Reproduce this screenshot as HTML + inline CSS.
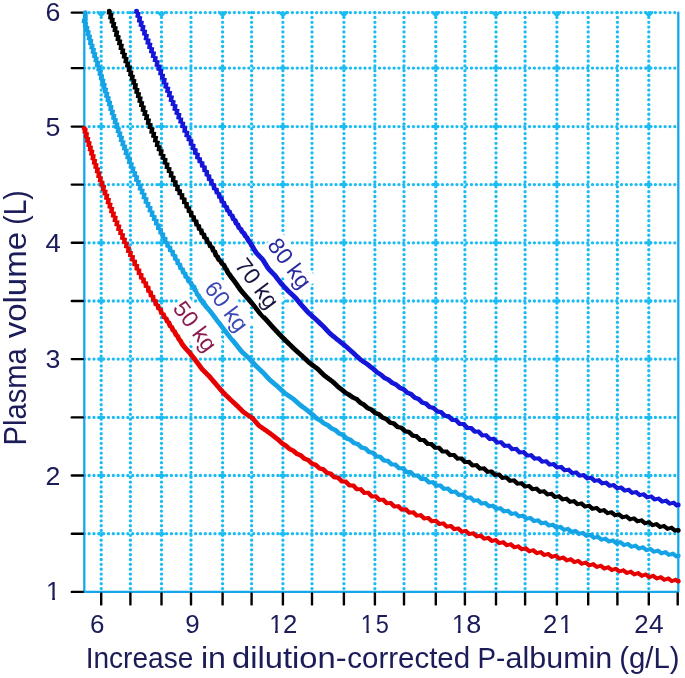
<!DOCTYPE html>
<html><head><meta charset="utf-8"><title>Plasma volume chart</title>
<style>html,body{margin:0;padding:0;background:#fff}svg{display:block;font-family:"Liberation Sans",sans-serif}</style></head>
<body>
<svg width="685" height="678" viewBox="0 0 685 678">
<rect width="685" height="678" fill="#fff"/>
<defs><filter id="soft" x="0" y="0" width="685" height="678" filterUnits="userSpaceOnUse"><feGaussianBlur stdDeviation="0.35"/></filter><filter id="soft2" x="0" y="0" width="685" height="678" filterUnits="userSpaceOnUse"><feGaussianBlur stdDeviation="0.5"/></filter></defs>
<g filter="url(#soft)">
<g stroke="#1abcf2" stroke-width="3.3" stroke-linecap="round" stroke-dasharray="0 4.84" fill="none">
<line x1="101.2" y1="12.6" x2="101.2" y2="591.9"/>
<line x1="130.4" y1="12.6" x2="130.4" y2="591.9"/>
<line x1="161.5" y1="12.6" x2="161.5" y2="591.9"/>
<line x1="191.0" y1="12.6" x2="191.0" y2="591.9"/>
<line x1="222.6" y1="12.6" x2="222.6" y2="591.9"/>
<line x1="251.6" y1="12.6" x2="251.6" y2="591.9"/>
<line x1="282.9" y1="12.6" x2="282.9" y2="591.9"/>
<line x1="312.0" y1="12.6" x2="312.0" y2="591.9"/>
<line x1="343.9" y1="12.6" x2="343.9" y2="591.9"/>
<line x1="374.9" y1="12.6" x2="374.9" y2="591.9"/>
<line x1="404.0" y1="12.6" x2="404.0" y2="591.9"/>
<line x1="435.8" y1="12.6" x2="435.8" y2="591.9"/>
<line x1="464.9" y1="12.6" x2="464.9" y2="591.9"/>
<line x1="496.0" y1="12.6" x2="496.0" y2="591.9"/>
<line x1="525.1" y1="12.6" x2="525.1" y2="591.9"/>
<line x1="556.9" y1="12.6" x2="556.9" y2="591.9"/>
<line x1="588.2" y1="12.6" x2="588.2" y2="591.9"/>
<line x1="617.4" y1="12.6" x2="617.4" y2="591.9"/>
<line x1="648.8" y1="12.6" x2="648.8" y2="591.9"/>
<line x1="84.3" y1="12.6" x2="678.3" y2="12.6"/>
<line x1="84.3" y1="68.1" x2="678.3" y2="68.1"/>
<line x1="84.3" y1="126.6" x2="678.3" y2="126.6"/>
<line x1="84.3" y1="184.6" x2="678.3" y2="184.6"/>
<line x1="84.3" y1="242.8" x2="678.3" y2="242.8"/>
<line x1="84.3" y1="301.0" x2="678.3" y2="301.0"/>
<line x1="84.3" y1="359.1" x2="678.3" y2="359.1"/>
<line x1="84.3" y1="417.4" x2="678.3" y2="417.4"/>
<line x1="84.3" y1="475.5" x2="678.3" y2="475.5"/>
<line x1="84.3" y1="533.7" x2="678.3" y2="533.7"/>
</g>
<g stroke="#1abcf2" stroke-width="3.0" stroke-linecap="round" fill="none">
<line x1="99.0" y1="68.1" x2="103.4" y2="68.1"/>
<line x1="99.0" y1="126.6" x2="103.4" y2="126.6"/>
<line x1="99.0" y1="184.6" x2="103.4" y2="184.6"/>
<line x1="99.0" y1="242.8" x2="103.4" y2="242.8"/>
<line x1="99.0" y1="301.0" x2="103.4" y2="301.0"/>
<line x1="99.0" y1="359.1" x2="103.4" y2="359.1"/>
<line x1="99.0" y1="417.4" x2="103.4" y2="417.4"/>
<line x1="99.0" y1="475.5" x2="103.4" y2="475.5"/>
<line x1="99.0" y1="533.7" x2="103.4" y2="533.7"/>
<path d="M97.8 12.3L101.2 15.8L104.6 12.3" stroke-width="2.6" stroke-linejoin="round"/>
<line x1="159.3" y1="68.1" x2="163.7" y2="68.1"/>
<line x1="159.3" y1="126.6" x2="163.7" y2="126.6"/>
<line x1="159.3" y1="184.6" x2="163.7" y2="184.6"/>
<line x1="159.3" y1="242.8" x2="163.7" y2="242.8"/>
<line x1="159.3" y1="301.0" x2="163.7" y2="301.0"/>
<line x1="159.3" y1="359.1" x2="163.7" y2="359.1"/>
<line x1="159.3" y1="417.4" x2="163.7" y2="417.4"/>
<line x1="159.3" y1="475.5" x2="163.7" y2="475.5"/>
<line x1="159.3" y1="533.7" x2="163.7" y2="533.7"/>
<path d="M158.1 12.3L161.5 15.8L164.9 12.3" stroke-width="2.6" stroke-linejoin="round"/>
<line x1="220.4" y1="68.1" x2="224.8" y2="68.1"/>
<line x1="220.4" y1="126.6" x2="224.8" y2="126.6"/>
<line x1="220.4" y1="184.6" x2="224.8" y2="184.6"/>
<line x1="220.4" y1="242.8" x2="224.8" y2="242.8"/>
<line x1="220.4" y1="301.0" x2="224.8" y2="301.0"/>
<line x1="220.4" y1="359.1" x2="224.8" y2="359.1"/>
<line x1="220.4" y1="417.4" x2="224.8" y2="417.4"/>
<line x1="220.4" y1="475.5" x2="224.8" y2="475.5"/>
<line x1="220.4" y1="533.7" x2="224.8" y2="533.7"/>
<path d="M219.2 12.3L222.6 15.8L226.0 12.3" stroke-width="2.6" stroke-linejoin="round"/>
<line x1="280.7" y1="68.1" x2="285.1" y2="68.1"/>
<line x1="280.7" y1="126.6" x2="285.1" y2="126.6"/>
<line x1="280.7" y1="184.6" x2="285.1" y2="184.6"/>
<line x1="280.7" y1="242.8" x2="285.1" y2="242.8"/>
<line x1="280.7" y1="301.0" x2="285.1" y2="301.0"/>
<line x1="280.7" y1="359.1" x2="285.1" y2="359.1"/>
<line x1="280.7" y1="417.4" x2="285.1" y2="417.4"/>
<line x1="280.7" y1="475.5" x2="285.1" y2="475.5"/>
<line x1="280.7" y1="533.7" x2="285.1" y2="533.7"/>
<path d="M279.5 12.3L282.9 15.8L286.3 12.3" stroke-width="2.6" stroke-linejoin="round"/>
<line x1="341.7" y1="68.1" x2="346.1" y2="68.1"/>
<line x1="341.7" y1="126.6" x2="346.1" y2="126.6"/>
<line x1="341.7" y1="184.6" x2="346.1" y2="184.6"/>
<line x1="341.7" y1="242.8" x2="346.1" y2="242.8"/>
<line x1="341.7" y1="301.0" x2="346.1" y2="301.0"/>
<line x1="341.7" y1="359.1" x2="346.1" y2="359.1"/>
<line x1="341.7" y1="417.4" x2="346.1" y2="417.4"/>
<line x1="341.7" y1="475.5" x2="346.1" y2="475.5"/>
<line x1="341.7" y1="533.7" x2="346.1" y2="533.7"/>
<path d="M340.5 12.3L343.9 15.8L347.3 12.3" stroke-width="2.6" stroke-linejoin="round"/>
<line x1="433.6" y1="68.1" x2="438.0" y2="68.1"/>
<line x1="433.6" y1="126.6" x2="438.0" y2="126.6"/>
<line x1="433.6" y1="184.6" x2="438.0" y2="184.6"/>
<line x1="433.6" y1="242.8" x2="438.0" y2="242.8"/>
<line x1="433.6" y1="301.0" x2="438.0" y2="301.0"/>
<line x1="433.6" y1="359.1" x2="438.0" y2="359.1"/>
<line x1="433.6" y1="417.4" x2="438.0" y2="417.4"/>
<line x1="433.6" y1="475.5" x2="438.0" y2="475.5"/>
<line x1="433.6" y1="533.7" x2="438.0" y2="533.7"/>
<path d="M432.4 12.3L435.8 15.8L439.2 12.3" stroke-width="2.6" stroke-linejoin="round"/>
<line x1="493.8" y1="68.1" x2="498.2" y2="68.1"/>
<line x1="493.8" y1="126.6" x2="498.2" y2="126.6"/>
<line x1="493.8" y1="184.6" x2="498.2" y2="184.6"/>
<line x1="493.8" y1="242.8" x2="498.2" y2="242.8"/>
<line x1="493.8" y1="301.0" x2="498.2" y2="301.0"/>
<line x1="493.8" y1="359.1" x2="498.2" y2="359.1"/>
<line x1="493.8" y1="417.4" x2="498.2" y2="417.4"/>
<line x1="493.8" y1="475.5" x2="498.2" y2="475.5"/>
<line x1="493.8" y1="533.7" x2="498.2" y2="533.7"/>
<path d="M492.6 12.3L496.0 15.8L499.4 12.3" stroke-width="2.6" stroke-linejoin="round"/>
<line x1="554.7" y1="68.1" x2="559.1" y2="68.1"/>
<line x1="554.7" y1="126.6" x2="559.1" y2="126.6"/>
<line x1="554.7" y1="184.6" x2="559.1" y2="184.6"/>
<line x1="554.7" y1="242.8" x2="559.1" y2="242.8"/>
<line x1="554.7" y1="301.0" x2="559.1" y2="301.0"/>
<line x1="554.7" y1="359.1" x2="559.1" y2="359.1"/>
<line x1="554.7" y1="417.4" x2="559.1" y2="417.4"/>
<line x1="554.7" y1="475.5" x2="559.1" y2="475.5"/>
<line x1="554.7" y1="533.7" x2="559.1" y2="533.7"/>
<path d="M553.5 12.3L556.9 15.8L560.3 12.3" stroke-width="2.6" stroke-linejoin="round"/>
<line x1="646.6" y1="68.1" x2="651.0" y2="68.1"/>
<line x1="646.6" y1="126.6" x2="651.0" y2="126.6"/>
<line x1="646.6" y1="184.6" x2="651.0" y2="184.6"/>
<line x1="646.6" y1="242.8" x2="651.0" y2="242.8"/>
<line x1="646.6" y1="301.0" x2="651.0" y2="301.0"/>
<line x1="646.6" y1="359.1" x2="651.0" y2="359.1"/>
<line x1="646.6" y1="417.4" x2="651.0" y2="417.4"/>
<line x1="646.6" y1="475.5" x2="651.0" y2="475.5"/>
<line x1="646.6" y1="533.7" x2="651.0" y2="533.7"/>
<path d="M645.4 12.3L648.8 15.8L652.2 12.3" stroke-width="2.6" stroke-linejoin="round"/>
</g>
<path d="M84.3 12.6V591.9H678.3V12.6" fill="none" stroke="#16a6ea" stroke-width="2.3" stroke-linejoin="round" stroke-linecap="round"/>
<g stroke="#000" stroke-width="2.4" stroke-linecap="round">
<line x1="101.2" y1="593.4" x2="101.2" y2="604.4"/>
<line x1="130.4" y1="593.4" x2="130.4" y2="604.4"/>
<line x1="161.5" y1="593.4" x2="161.5" y2="604.4"/>
<line x1="191.0" y1="593.4" x2="191.0" y2="604.4"/>
<line x1="222.6" y1="593.4" x2="222.6" y2="604.4"/>
<line x1="251.6" y1="593.4" x2="251.6" y2="604.4"/>
<line x1="282.9" y1="593.4" x2="282.9" y2="604.4"/>
<line x1="312.0" y1="593.4" x2="312.0" y2="604.4"/>
<line x1="343.9" y1="593.4" x2="343.9" y2="604.4"/>
<line x1="374.9" y1="593.4" x2="374.9" y2="604.4"/>
<line x1="404.0" y1="593.4" x2="404.0" y2="604.4"/>
<line x1="435.8" y1="593.4" x2="435.8" y2="604.4"/>
<line x1="464.9" y1="593.4" x2="464.9" y2="604.4"/>
<line x1="496.0" y1="593.4" x2="496.0" y2="604.4"/>
<line x1="525.1" y1="593.4" x2="525.1" y2="604.4"/>
<line x1="556.9" y1="593.4" x2="556.9" y2="604.4"/>
<line x1="588.2" y1="593.4" x2="588.2" y2="604.4"/>
<line x1="617.4" y1="593.4" x2="617.4" y2="604.4"/>
<line x1="648.8" y1="593.4" x2="648.8" y2="604.4"/>
<line x1="677.7" y1="593.4" x2="677.7" y2="604.4"/>
<line x1="71.8" y1="12.6" x2="82.8" y2="12.6"/>
<line x1="71.8" y1="68.1" x2="82.8" y2="68.1"/>
<line x1="71.8" y1="126.6" x2="82.8" y2="126.6"/>
<line x1="71.8" y1="184.6" x2="82.8" y2="184.6"/>
<line x1="71.8" y1="242.8" x2="82.8" y2="242.8"/>
<line x1="71.8" y1="301.0" x2="82.8" y2="301.0"/>
<line x1="71.8" y1="359.1" x2="82.8" y2="359.1"/>
<line x1="71.8" y1="417.4" x2="82.8" y2="417.4"/>
<line x1="71.8" y1="475.5" x2="82.8" y2="475.5"/>
<line x1="71.8" y1="533.7" x2="82.8" y2="533.7"/>
<line x1="71.8" y1="591.9" x2="82.8" y2="591.9"/>
</g>
</g>
<g filter="url(#soft2)">
<path d="M81.8 128.9L81.9 129.4L82.7 129.9L82.7 130.3L82.6 130.8L82.6 131.3L82.5 131.8L82.5 132.3L82.4 132.7L82.4 133.2L84.1 133.7L84 134.2L84 134.7L83.9 135.1L83.9 135.6L83.8 136.1L83.8 136.6L83.7 137.1L83.7 137.5L83.6 138L85.3 138.5L85.3 139L85.2 139.5L85.2 140L85.1 140.4L85.1 140.9L85 141.4L85 141.9L84.9 142.4L86.7 142.8L86.6 143.3L86.6 143.8L86.5 144.3L86.5 144.8L86.4 145.2L86.4 145.7L86.3 146.2L86.3 146.7L88 147.1L88 147.6L87.9 148.1L87.9 148.6L87.8 149.1L87.8 149.5L87.7 150L87.7 150.5L87.6 151L89.4 151.5L89.4 151.9L89.3 152.4L89.3 152.9L89.2 153.4L89.2 153.9L89.1 154.3L89 154.8L89 155.3L90.8 155.8L90.8 156.2L90.7 156.7L90.7 157.2L90.6 157.7L90.6 158.2L90.5 158.6L90.5 159.1L90.4 159.6L90.3 160.1L92.2 160.5L92.1 161L92.1 161.5L92 162L92 162.5L91.9 162.9L91.9 163.4L91.8 163.9L91.8 164.4L93.7 164.8L93.6 165.3L93.5 165.8L93.5 166.3L93.4 166.7L93.4 167.2L93.3 167.7L93.3 168.2L93.2 168.6L95.1 169.1L95.1 169.6L95 170.1L95 170.6L94.9 171L94.9 171.5L94.8 172L94.7 172.5L94.7 172.9L96.6 173.4L96.6 173.9L96.5 174.4L96.5 174.8L96.4 175.3L96.4 175.8L96.3 176.3L96.2 176.7L96.2 177.2L96.1 177.7L98.1 178.2L98.1 178.6L98 179.1L97.9 179.6L97.9 180.1L97.8 180.5L97.8 181L97.7 181.5L97.7 181.9L99.7 182.4L99.6 182.9L99.6 183.4L99.5 183.8L99.4 184.3L99.4 184.8L99.3 185.3L99.3 185.7L99.2 186.2L101.3 186.7L101.2 187.2L101.1 187.6L101.1 188.1L101 188.6L101 189L100.9 189.5L100.8 190L100.8 190.5L100.7 190.9L102.8 191.4L102.7 191.9L102.7 192.3L102.6 192.8L102.6 193.3L102.5 193.8L102.5 194.2L102.4 194.7L102.3 195.2L104.4 195.6L104.4 196.1L104.3 196.6L104.3 197.1L104.2 197.5L104.2 198L104.1 198.5L104 198.9L104 199.4L106.1 199.9L106.1 200.3L106 200.8L105.9 201.3L105.9 201.8L105.8 202.2L105.8 202.7L105.7 203.2L105.6 203.6L105.6 204.1L107.8 204.6L107.7 205L107.6 205.5L107.6 206L107.5 206.4L107.5 206.9L107.4 207.4L107.3 207.9L107.3 208.3L109.5 208.8L109.4 209.3L109.4 209.7L109.3 210.2L109.2 210.7L109.2 211.1L109.1 211.6L109.1 212.1L109 212.5L108.9 213L111.2 213.5L111.1 213.9L111.1 214.4L111 214.9L110.9 215.3L110.9 215.8L110.8 216.3L110.8 216.7L110.7 217.2L113 217.7L112.9 218.1L112.9 218.6L112.8 219.1L112.7 219.5L112.7 220L112.6 220.5L112.5 220.9L112.5 221.4L112.4 221.8L114.8 222.3L114.7 222.8L114.6 223.2L114.6 223.7L114.5 224.2L114.4 224.6L114.4 225.1L114.3 225.6L114.2 226L116.6 226.5L116.6 227L116.5 227.4L116.4 227.9L116.4 228.3L116.3 228.8L116.2 229.3L116.2 229.7L116.1 230.2L116 230.7L118.5 231.1L118.4 231.6L118.3 232L118.3 232.5L118.2 233L118.1 233.4L118.1 233.9L118 234.4L117.9 234.8L120.4 235.3L120.3 235.7L120.3 236.2L120.2 236.7L120.1 237.1L120.1 237.6L120 238L120 238.5L119.9 239L119.8 239.4L122.3 239.9L122.2 240.3L122.2 240.8L122.1 241.2L122.1 241.7L122 242.2L122 242.6L121.9 243.1L121.8 243.5L124.3 244L124.2 244.5L124.2 244.9L124.1 245.4L124.1 245.8L124 246.3L124 246.7L123.9 247.2L123.9 247.7L123.8 248.1L126.3 248.6L126.2 249L126.2 249.5L126.1 249.9L126.1 250.4L126 250.9L126 251.3L125.9 251.8L125.9 252.2L125.8 252.7L128.3 253.1L128.2 253.6L128.2 254.1L128.1 254.5L128.1 255L128 255.4L128 255.9L128 256.3L127.9 256.8L130.3 257.2L130.3 257.7L130.2 258.1L130.2 258.6L130.2 259.1L130.1 259.5L130.1 260L130.1 260.4L130 260.9L130 261.3L132.4 261.8L132.4 262.2L132.3 262.7L132.3 263.1L132.3 263.6L132.3 264L132.3 264.5L132.2 264.9L132.2 265.4L132.2 265.8L134.6 266.3L134.5 266.7L134.5 267.2L134.5 267.6L134.5 268.1L134.5 268.5L134.5 269L134.5 269.4L134.4 269.9L134.4 270.3L136.7 270.8L136.7 271.2L136.7 271.7L136.7 272.1L136.7 272.6L136.7 273L136.7 273.5L136.6 273.9L136.6 274.4L136.6 274.8L138.9 275.3L138.9 275.7L138.9 276.2L138.9 276.6L138.9 277.1L138.9 277.5L138.9 278L138.9 278.4L138.9 278.9L138.9 279.3L141.1 279.7L141.2 280.2L141.2 280.6L141.2 281.1L141.2 281.5L141.2 282L141.2 282.4L141.3 282.8L141.3 283.3L143.5 283.7L143.5 284.2L143.5 284.6L143.6 285L143.6 285.5L143.6 285.9L143.7 286.4L143.7 286.8L143.7 287.2L143.8 287.7L145.9 288.1L145.9 288.6L145.9 289L146 289.4L146 289.9L146 290.3L146.1 290.8L146.1 291.2L146.2 291.6L146.2 292.1L146.2 292.5L148.3 293L148.4 293.4L148.4 293.8L148.4 294.3L148.5 294.7L148.5 295.2L148.6 295.6L148.6 296L148.7 296.5L148.7 296.9L150.7 297.4L150.8 297.8L150.8 298.2L150.9 298.7L150.9 299.1L151 299.6L151 300L151.1 300.5L151.1 300.9L151.2 301.3L153.1 301.8L153.1 302.2L153.2 302.7L153.3 303.1L153.3 303.6L153.4 304L153.4 304.4L153.5 304.9L153.6 305.3L153.7 305.7L155.6 306.2L155.6 306.6L155.7 307L155.8 307.5L155.9 307.9L156 308.3L156.1 308.7L156.2 309.2L156.3 309.6L156.4 310L158.2 310.4L158.3 310.9L158.4 311.3L158.5 311.7L158.6 312.1L158.8 312.6L158.9 313L159 313.4L159.1 313.8L159.3 314.2L159.4 314.7L161 315.1L161.2 315.5L161.3 315.9L161.4 316.3L161.6 316.8L161.7 317.2L161.8 317.6L162 318L162.1 318.4L162.3 318.9L163.8 319.3L164 319.7L164.1 320.1L164.3 320.5L164.4 320.9L164.6 321.4L164.7 321.8L164.9 322.2L165 322.6L165.2 323L166.6 323.5L166.7 323.9L166.9 324.3L167 324.7L167.2 325.2L167.3 325.6L167.5 326L167.7 326.4L167.8 326.8L168 327.3L168.2 327.7L169.5 328.1L169.6 328.5L169.8 328.9L170 329.4L170.1 329.8L170.3 330.2L170.5 330.6L170.7 331.1L170.9 331.5L171.1 331.9L172.2 332.3L172.4 332.7L172.5 333.2L172.7 333.6L172.9 334L173.1 334.4L173.3 334.8L173.5 335.3L173.7 335.7L173.9 336.1L174.1 336.5L175.1 336.9L175.3 337.4L175.5 337.8L175.7 338.2L175.9 338.6L176.1 339.1L176.3 339.5L176.6 339.9L176.8 340.3L177 340.8L177.2 341.2L178 341.6L178.2 342L178.4 342.5L178.6 342.9L178.9 343.3L179.1 343.7L179.3 344.2L179.6 344.6L179.8 345L180.1 345.4L180.3 345.9L180.8 346.3L181.1 346.7L181.3 347.1L181.6 347.5L181.9 347.9L182.3 348.3L182.6 348.7L182.9 349L183.2 349.4L183.6 349.8L183.9 350.2L184.3 350.5L184.6 350.9L184.9 351.3L185.3 351.7L185.6 352.1L186 352.4L186.3 352.8L186.6 353.2L187 353.5L187.3 353.9L187.7 354.3L188 354.7L188.3 355.1L188.6 355.5L188.9 355.9L189.2 356.3L189.5 356.7L189.8 357.1L190.1 357.5L190.5 357.8L190.8 358.2L191.1 358.6L191.4 359L191.7 359.4L192 359.8L192.3 360.2L192.6 360.6L192.9 361L193.3 361.4L193.6 361.8L193.9 362.2L194.2 362.6L194.5 363L194.8 363.4L195.1 363.8L195.4 364.2L195.7 364.6L196 365L196.3 365.4L196.6 365.8L196.9 366.2L197.2 366.6L197.5 367L197.8 367.4L198.1 367.9L198.4 368.3L198.7 368.7L199 369.1L199.3 369.5L199.6 369.9L199.9 370.3L200.2 370.7L200.5 371L200.9 371.4L201.3 371.8L201.6 372.1L202 372.5L202.3 372.8L202.7 373.2L203 373.5L203.4 373.9L203.7 374.3L204.1 374.6L204.5 375L204.8 375.3L205.2 375.7L205.5 376L205.9 376.4L206.2 376.7L206.6 377.1L207 377.5L207.3 377.8L207.6 378.2L208 378.6L208.3 379L208.6 379.3L208.9 379.7L209.3 380.1L209.6 380.5L209.9 380.9L210.3 381.3L210.6 381.6L210.9 382L211.2 382.4L211.6 382.8L211.9 383.2L212.2 383.5L212.5 383.9L212.9 384.3L213.2 384.7L213.5 385.1L213.9 385.4L214.2 385.8L214.5 386.2L214.8 386.6L215.2 387L215.5 387.4L215.8 387.8L216.1 388.1L216.5 388.5L216.8 388.9L217.1 389.3L217.5 389.7L217.8 390L218.1 390.4L218.4 390.8L218.8 391.2L219.1 391.6L219.4 392L219.8 392.3L220.1 392.7L220.4 393.1L220.8 393.5L221.1 393.8L221.5 394.2L221.8 394.5L222.2 394.9L222.6 395.2L222.9 395.6L223.3 395.9L223.6 396.3L224 396.7L224.3 397L224.7 397.4L225.1 397.7L225.4 398.1L225.8 398.4L226.1 398.8L226.5 399.1L226.9 399.5L227.2 399.8L227.6 400.2L227.9 400.5L228.3 400.9L228.7 401.2L229 401.6L229.4 401.9L229.8 402.3L230.1 402.6L230.5 402.9L230.9 403.3L231.2 403.6L231.6 404L232 404.3L232.3 404.7L232.7 405L233.1 405.3L233.5 405.7L233.8 406L234.2 406.4L234.6 406.7L234.9 407L235.3 407.4L235.6 407.8L236 408.1L236.4 408.5L236.7 408.8L237.1 409.2L237.4 409.5L237.8 409.9L238.2 410.2L238.5 410.6L238.9 410.9L239.2 411.3L239.6 411.6L240 412L240.3 412.3L240.7 412.7L241.1 413L241.4 413.4L241.8 413.7L242.2 414.1L242.6 414.3L243 414.6L243.4 414.9L243.8 415.2L244.3 415.5L244.7 415.8L245.1 416.1L245.5 416.3L245.9 416.6L246.4 416.9L246.8 417.2L247.2 417.5L247.6 417.7L248.1 418L248.5 418.3L248.9 418.6L249.3 418.8L249.8 419.1L250.2 419.4L250.6 419.7L250.9 420.1L251.3 420.5L251.6 420.8L251.9 421.2L252.3 421.6L252.6 422L252.9 422.4L253.3 422.8L253.6 423.1L253.9 423.5L254.3 423.9L254.6 424.3L254.9 424.7L255.3 425.1L255.6 425.4L255.9 425.8L256.3 426.2L256.6 426.6L256.9 427L257.3 427.3L257.7 427.6L258.1 427.9L258.5 428.2L258.9 428.5L259.4 428.8L259.8 429.1L260.2 429.4L260.6 429.7L261 429.9L261.4 430.2L261.8 430.5L262.3 430.8L262.7 431.1L263.1 431.4L263.5 431.7L263.9 431.9L264.3 432.2L264.8 432.5L265.2 432.8L265.6 433.1L266 433.4L266.4 433.7L266.8 434L267.2 434.3L267.6 434.6L268 434.9L268.4 435.1L268.8 435.4L269.2 435.7L269.6 436L270 436.3L270.4 436.6L270.8 437L271.2 437.3L271.6 437.6L272 437.9L272.4 438.3L272.9 438.6L273.3 438.9L273.7 439.2L274 439.5L274.4 439.8L274.8 440.1L275.2 440.4L275.6 440.7L275.9 440.9L276.3 441.2L276.7 441.5L277.1 441.9L277.5 442.2L277.9 442.6L278.2 443L278.6 443.3L279 443.7L279.4 444.1L279.8 444.4L280.2 444.8L280.6 445.1L281 445.4L281.4 445.7L281.8 445.9L282.2 446.2L282.6 446.4L283 446.7L283.4 446.9L283.8 447.1L284.2 447.4L284.6 447.7L285 448.1L285.4 448.5L285.8 448.8L286.2 449.2L286.6 449.5L287 449.9L287.5 450.3L287.9 450.6L288.3 450.8L288.7 451.1L289.1 451.3L289.5 451.5L289.9 451.7L290.4 451.9L290.8 452.1L291.2 452.3L291.6 452.5L292 452.8L292.5 453.2L292.9 453.5L293.3 453.9L293.7 454.2L294.2 454.6L294.6 454.9L295 455.3L295.4 455.7L295.9 455.9L296.3 456L296.7 456.2L297.1 456.4L297.6 456.6L298 456.7L298.4 456.9L298.8 457.1L299.3 457.2L299.7 457.6L300.1 458L300.5 458.3L301 458.7L301.4 459.1L301.8 459.5L302.2 459.9L302.7 460.2L303.1 460.6L303.5 460.8L303.9 460.9L304.4 461.1L304.8 461.2L305.2 461.4L305.6 461.5L306.1 461.7L306.5 461.8L306.9 462L307.3 462.4L307.7 462.8L308.2 463.2L308.6 463.6L309 464L309.4 464.4L309.8 464.8L310.3 465.2L310.7 465.6L311.1 465.7L311.5 465.9L311.9 466L312.4 466.1L312.8 466.3L313.2 466.4L313.6 466.5L314.1 466.7L314.5 466.9L314.9 467.3L315.3 467.7L315.8 468.1L316.2 468.5L316.6 468.9L317.1 469.3L317.5 469.7L317.9 470.1L318.4 470.4L318.8 470.5L319.2 470.6L319.7 470.7L320.1 470.8L320.5 470.9L321 471L321.4 471.1L321.8 471.2L322.3 471.6L322.7 472L323.1 472.4L323.6 472.8L324 473.2L324.4 473.6L324.8 474.1L325.3 474.5L325.7 474.8L326.1 474.9L326.6 475L327 475.1L327.4 475.2L327.9 475.3L328.3 475.4L328.7 475.4L329.2 475.5L329.6 475.8L330 476.2L330.5 476.7L330.9 477.1L331.3 477.5L331.8 478L332.2 478.4L332.7 478.8L333.1 479.2L333.5 479.3L334 479.3L334.4 479.4L334.9 479.4L335.3 479.5L335.8 479.5L336.2 479.6L336.6 479.6L337.1 479.9L337.5 480.3L338 480.7L338.4 481.2L338.9 481.6L339.3 482L339.7 482.4L340.2 482.9L340.6 483.3L341.1 483.4L341.5 483.4L342 483.4L342.4 483.5L342.9 483.5L343.3 483.5L343.7 483.6L344.2 483.6L344.6 483.8L345.1 484.2L345.5 484.7L346 485.1L346.4 485.6L346.9 486L347.3 486.4L347.8 486.9L348.2 487.3L348.7 487.3L349.1 487.4L349.5 487.4L350 487.4L350.4 487.4L350.9 487.4L351.3 487.4L351.8 487.4L352.2 487.7L352.7 488.1L353.1 488.6L353.6 489L354 489.5L354.5 489.9L354.9 490.4L355.4 490.8L355.8 491.2L356.3 491.2L356.7 491.2L357.2 491.2L357.6 491.2L358.1 491.2L358.5 491.2L359 491.2L359.4 491.1L359.9 491.5L360.3 492L360.8 492.4L361.2 492.9L361.7 493.3L362.1 493.8L362.6 494.3L363 494.7L363.5 494.9L363.9 494.9L364.4 494.9L364.8 494.9L365.3 494.8L365.7 494.8L366.2 494.8L366.7 494.8L367.1 494.8L367.6 495.3L368 495.8L368.5 496.2L368.9 496.7L369.4 497.1L369.8 497.6L370.3 498L370.7 498.5L371.2 498.5L371.7 498.5L372.1 498.4L372.6 498.4L373 498.4L373.5 498.4L373.9 498.3L374.4 498.3L374.8 498.6L375.3 499L375.8 499.5L376.2 499.9L376.7 500.4L377.1 500.8L377.6 501.3L378 501.7L378.5 502L379 501.9L379.4 501.9L379.9 501.9L380.3 501.8L380.8 501.8L381.2 501.8L381.7 501.7L382.2 501.8L382.6 502.2L383.1 502.7L383.5 503.1L384 503.6L384.5 504L384.9 504.5L385.4 504.9L385.8 505.3L386.3 505.3L386.8 505.3L387.2 505.2L387.7 505.2L388.1 505.1L388.6 505.1L389.1 505L389.5 505L390 505.3L390.4 505.8L390.9 506.2L391.4 506.7L391.8 507.1L392.3 507.6L392.7 508L393.2 508.4L393.7 508.6L394.1 508.5L394.6 508.5L395.1 508.4L395.5 508.4L396 508.3L396.4 508.3L396.9 508.2L397.4 508.4L397.8 508.9L398.3 509.3L398.8 509.7L399.2 510.2L399.7 510.6L400.2 511L400.6 511.5L401.1 511.7L401.5 511.7L402 511.6L402.5 511.6L402.9 511.5L403.4 511.4L403.9 511.4L404.3 511.3L404.8 511.4L405.3 511.9L405.7 512.3L406.2 512.7L406.7 513.2L407.1 513.6L407.6 514L408.1 514.5L408.5 514.8L409 514.7L409.5 514.7L409.9 514.6L410.4 514.5L410.9 514.5L411.3 514.4L411.8 514.4L412.3 514.4L412.7 514.8L413.2 515.2L413.7 515.7L414.1 516.1L414.6 516.5L415.1 516.9L415.5 517.4L416 517.8L416.5 517.7L416.9 517.6L417.4 517.6L417.9 517.5L418.3 517.4L418.8 517.3L419.3 517.3L419.7 517.2L420.2 517.7L420.7 518.1L421.2 518.5L421.6 519L422.1 519.4L422.6 519.8L423 520.2L423.5 520.6L424 520.6L424.4 520.5L424.9 520.4L425.4 520.3L425.9 520.3L426.3 520.2L426.8 520.1L427.3 520.1L427.7 520.5L428.2 520.9L428.7 521.3L429.1 521.8L429.6 522.2L430.1 522.6L430.6 523L431 523.4L431.5 523.3L432 523.3L432.4 523.2L432.9 523.1L433.4 523L433.9 522.9L434.3 522.9L434.8 522.8L435.3 523.3L435.7 523.7L436.2 524.1L436.7 524.5L437.2 524.9L437.6 525.4L438.1 525.8L438.6 526.1L439.1 526L439.5 526L440 525.9L440.5 525.8L440.9 525.7L441.4 525.6L441.9 525.5L442.4 525.5L442.8 526L443.3 526.4L443.8 526.8L444.3 527.2L444.7 527.6L445.2 528L445.7 528.5L446.2 528.7L446.6 528.7L447.1 528.6L447.6 528.5L448.1 528.4L448.5 528.3L449 528.2L449.5 528.1L450 528.2L450.4 528.6L450.9 529L451.4 529.4L451.9 529.8L452.3 530.3L452.8 530.7L453.3 531.1L453.8 531.3L454.2 531.2L454.7 531.1L455.2 531L455.7 530.9L456.1 530.8L456.6 530.7L457.1 530.6L457.6 530.8L458 531.2L458.5 531.6L459 532L459.5 532.4L460 532.8L460.4 533.2L460.9 533.7L461.4 533.8L461.9 533.7L462.3 533.6L462.8 533.5L463.3 533.4L463.8 533.3L464.2 533.2L464.7 533.1L465.2 533.3L465.7 533.7L466.2 534.1L466.6 534.6L467.1 535L467.6 535.4L468.1 535.8L468.5 536.2L469 536.1L469.5 536L470 535.9L470.5 535.8L470.9 535.7L471.4 535.6L471.9 535.5L472.4 535.4L472.8 535.8L473.3 536.2L473.8 536.6L474.3 537L474.8 537.4L475.2 537.8L475.7 538.2L476.2 538.6L476.7 538.5L477.2 538.4L477.6 538.2L478.1 538.1L478.6 538L479.1 537.9L479.6 537.8L480 537.9L480.5 538.3L481 538.7L481.5 539.1L482 539.5L482.4 539.9L482.9 540.3L483.4 540.7L483.9 540.8L484.4 540.7L484.8 540.6L485.3 540.5L485.8 540.4L486.3 540.3L486.8 540.2L487.2 540L487.7 540.3L488.2 540.7L488.7 541.1L489.2 541.5L489.6 541.9L490.1 542.3L490.6 542.6L491.1 543L491.6 543L492.1 542.9L492.5 542.8L493 542.7L493.5 542.5L494 542.4L494.5 542.3L494.9 542.2L495.4 542.6L495.9 543L496.4 543.4L496.9 543.8L497.3 544.2L497.8 544.6L498.3 545L498.8 545.3L499.3 545.1L499.8 545L500.2 544.9L500.7 544.8L501.2 544.7L501.7 544.5L502.2 544.4L502.7 544.5L503.1 544.9L503.6 545.3L504.1 545.7L504.6 546.1L505.1 546.5L505.6 546.9L506 547.3L506.5 547.3L507 547.2L507.5 547.1L508 546.9L508.4 546.8L508.9 546.7L509.4 546.6L509.9 546.5L510.4 546.8L510.9 547.2L511.3 547.6L511.8 548L512.3 548.3L512.8 548.7L513.3 549.1L513.8 549.4L514.3 549.3L514.7 549.2L515.2 549.1L515.7 548.9L516.2 548.8L516.7 548.7L517.2 548.6L517.6 548.6L518.1 549L518.6 549.4L519.1 549.8L519.6 550.2L520.1 550.5L520.5 550.9L521 551.3L521.5 551.4L522 551.3L522.5 551.1L523 551L523.5 550.9L523.9 550.7L524.4 550.6L524.9 550.5L525.4 550.8L525.9 551.2L526.4 551.6L526.8 551.9L527.3 552.3L527.8 552.7L528.3 553.1L528.8 553.4L529.3 553.3L529.8 553.2L530.2 553L530.7 552.9L531.2 552.8L531.7 552.6L532.2 552.5L532.7 552.5L533.2 552.9L533.6 553.3L534.1 553.7L534.6 554.1L535.1 554.5L535.6 554.8L536.1 555.2L536.6 555.3L537 555.1L537.5 555L538 554.9L538.5 554.7L539 554.6L539.5 554.5L540 554.3L540.5 554.6L540.9 555L541.4 555.4L541.9 555.8L542.4 556.2L542.9 556.5L543.4 556.9L543.9 557.2L544.3 557.1L544.8 556.9L545.3 556.8L545.8 556.6L546.3 556.5L546.8 556.4L547.3 556.2L547.8 556.3L548.2 556.7L548.7 557.1L549.2 557.5L549.7 557.8L550.2 558.2L550.7 558.6L551.2 559L551.7 558.9L552.1 558.8L552.6 558.7L553.1 558.5L553.6 558.4L554.1 558.2L554.6 558.1L555.1 558L555.6 558.3L556 558.7L556.5 559.1L557 559.5L557.5 559.8L558 560.2L558.5 560.6L559 560.8L559.5 560.6L559.9 560.5L560.4 560.4L560.9 560.2L561.4 560.1L561.9 559.9L562.4 559.8L562.9 560L563.4 560.3L563.8 560.7L564.3 561.1L564.8 561.4L565.3 561.8L565.8 562.2L566.3 562.6L566.8 562.4L567.3 562.3L567.8 562.1L568.2 562L568.7 561.8L569.2 561.7L569.7 561.5L570.2 561.5L570.7 561.9L571.2 562.3L571.7 562.6L572.2 563L572.6 563.4L573.1 563.8L573.6 564.1L574.1 564.2L574.6 564L575.1 563.9L575.6 563.7L576.1 563.6L576.6 563.4L577 563.3L577.5 563.1L578 563.5L578.5 563.8L579 564.2L579.5 564.6L580 564.9L580.5 565.3L581 565.7L581.4 565.9L581.9 565.8L582.4 565.6L582.9 565.4L583.4 565.3L583.9 565.1L584.4 565L584.9 564.8L585.4 565L585.9 565.3L586.3 565.7L586.8 566.1L587.3 566.4L587.8 566.8L588.3 567.2L588.8 567.5L589.3 567.4L589.8 567.3L590.3 567.1L590.8 567L591.2 566.8L591.7 566.7L592.2 566.5L592.7 566.5L593.2 566.8L593.7 567.2L594.2 567.5L594.7 567.9L595.2 568.3L595.7 568.6L596.1 569L596.6 569.1L597.1 568.9L597.6 568.8L598.1 568.6L598.6 568.4L599.1 568.3L599.6 568.1L600.1 568L600.6 568.3L601 568.6L601.5 569L602 569.4L602.5 569.7L603 570.1L603.5 570.4L604 570.7L604.5 570.5L605 570.4L605.5 570.2L606 570L606.4 569.9L606.9 569.7L607.4 569.5L607.9 569.7L608.4 570.1L608.9 570.4L609.4 570.8L609.9 571.1L610.4 571.5L610.9 571.9L611.4 572.2L611.8 572.1L612.3 571.9L612.8 571.8L613.3 571.6L613.8 571.4L614.3 571.3L614.8 571.1L615.3 571.1L615.8 571.5L616.3 571.8L616.8 572.2L617.3 572.5L617.7 572.9L618.2 573.3L618.7 573.6L619.2 573.6L619.7 573.5L620.2 573.3L620.7 573.1L621.2 573L621.7 572.8L622.2 572.6L622.7 572.5L623.2 572.8L623.6 573.2L624.1 573.5L624.6 573.9L625.1 574.3L625.6 574.6L626.1 575L626.6 575.1L627.1 575L627.6 574.8L628.1 574.6L628.6 574.4L629.1 574.3L629.5 574.1L630 573.9L630.5 574.2L631 574.5L631.5 574.9L632 575.2L632.5 575.6L633 576L633.5 576.3L634 576.6L634.5 576.4L635 576.3L635.5 576.1L635.9 575.9L636.4 575.7L636.9 575.6L637.4 575.4L637.9 575.5L638.4 575.9L638.9 576.2L639.4 576.6L639.9 576.9L640.4 577.3L640.9 577.6L641.4 578L641.9 577.9L642.4 577.7L642.8 577.5L643.3 577.3L643.8 577.2L644.3 577L644.8 576.8L645.3 576.8L645.8 577.1L646.3 577.5L646.8 577.9L647.3 578.2L647.8 578.6L648.3 578.9L648.8 579.3L649.3 579.3L649.7 579.1L650.2 578.9L650.7 578.7L651.2 578.6L651.7 578.4L652.2 578.2L652.7 578.1L653.2 578.4L653.7 578.8L654.2 579.1L654.7 579.5L655.2 579.8L655.7 580.2L656.2 580.5L656.6 580.6L657.1 580.5L657.6 580.3L658.1 580.1L658.6 579.9L659.1 579.8L659.6 579.6L660.1 579.4L660.6 579.7L661.1 580L661.6 580.4L662.1 580.7L662.6 581.1L663.1 581.4L663.6 581.8L664 582L664.5 581.8L665 581.6L665.5 581.5L666 581.3L666.5 581.1L667 580.9L667.5 580.8L668 580.9L668.5 581.2L669 581.6L669.5 581.9L670 582.3L670.5 582.6L671 583L671.5 583.3L671.9 583.1L672.4 583L672.9 582.8L673.4 582.6L673.9 582.4L674.4 582.2L674.9 582.1L675.4 582.1L675.9 582.4L676.4 582.8L676.9 583.1L677.4 583.3L677.9 583.4L678.7 579L678.2 578.9L677.7 578.7L677.2 578.3L676.8 578L676.3 577.7L675.8 577.6L675.3 577.8L674.8 578L674.3 578.2L673.8 578.4L673.3 578.5L672.8 578.7L672.3 578.9L671.8 578.5L671.3 578.2L670.8 577.8L670.4 577.5L669.9 577.1L669.4 576.8L668.9 576.5L668.4 576.3L667.9 576.5L667.4 576.7L666.9 576.9L666.4 577L665.9 577.2L665.4 577.4L664.9 577.6L664.4 577.3L663.9 577L663.5 576.6L663 576.3L662.5 575.9L662 575.6L661.5 575.2L661 575L660.5 575.2L660 575.3L659.5 575.5L659 575.7L658.5 575.9L658 576L657.6 576.2L657.1 576.1L656.6 575.7L656.1 575.4L655.6 575L655.1 574.7L654.6 574.3L654.1 574L653.6 573.6L653.1 573.8L652.6 574L652.1 574.1L651.6 574.3L651.2 574.5L650.7 574.7L650.2 574.8L649.7 574.8L649.2 574.5L648.7 574.1L648.2 573.8L647.7 573.4L647.2 573.1L646.7 572.7L646.2 572.4L645.7 572.4L645.3 572.6L644.8 572.7L644.3 572.9L643.8 573.1L643.3 573.3L642.8 573.4L642.3 573.5L641.8 573.2L641.3 572.8L640.8 572.5L640.3 572.1L639.9 571.8L639.4 571.4L638.9 571.1L638.4 571L637.9 571.1L637.4 571.3L636.9 571.5L636.4 571.7L635.9 571.8L635.4 572L634.9 572.2L634.4 571.9L634 571.5L633.5 571.2L633 570.8L632.5 570.5L632 570.1L631.5 569.8L631 569.5L630.5 569.7L630 569.9L629.5 570L629 570.2L628.6 570.4L628.1 570.5L627.6 570.7L627.1 570.6L626.6 570.2L626.1 569.8L625.6 569.5L625.1 569.1L624.6 568.8L624.1 568.4L623.7 568.1L623.2 568.2L622.7 568.4L622.2 568.5L621.7 568.7L621.2 568.9L620.7 569L620.2 569.2L619.7 569.2L619.2 568.8L618.8 568.5L618.3 568.1L617.8 567.8L617.3 567.4L616.8 567L616.3 566.7L615.8 566.7L615.3 566.9L614.8 567L614.3 567.2L613.9 567.3L613.4 567.5L612.9 567.7L612.4 567.8L611.9 567.5L611.4 567.1L610.9 566.7L610.4 566.4L609.9 566L609.4 565.6L609 565.3L608.5 565.1L608 565.3L607.5 565.5L607 565.6L606.5 565.8L606 565.9L605.5 566.1L605 566.3L604.5 566L604.1 565.7L603.6 565.3L603.1 565L602.6 564.6L602.1 564.2L601.6 563.9L601.1 563.6L600.6 563.7L600.1 563.9L599.7 564L599.2 564.2L598.7 564.4L598.2 564.5L597.7 564.7L597.2 564.6L596.7 564.2L596.2 563.9L595.7 563.5L595.3 563.1L594.8 562.8L594.3 562.4L593.8 562L593.3 562.1L592.8 562.2L592.3 562.4L591.8 562.6L591.3 562.7L590.9 562.9L590.4 563L589.9 563.1L589.4 562.8L588.9 562.4L588.4 562L587.9 561.7L587.4 561.3L587 560.9L586.5 560.6L586 560.4L585.5 560.6L585 560.7L584.5 560.9L584 561.1L583.5 561.2L583 561.4L582.6 561.5L582.1 561.3L581.6 560.9L581.1 560.5L580.6 560.2L580.1 559.8L579.6 559.4L579.1 559.1L578.7 558.7L578.2 558.9L577.7 559L577.2 559.2L576.7 559.3L576.2 559.5L575.7 559.7L575.2 559.8L574.8 559.7L574.3 559.4L573.8 559L573.3 558.6L572.8 558.3L572.3 557.9L571.8 557.5L571.3 557.1L570.9 557.2L570.4 557.3L569.9 557.5L569.4 557.6L568.9 557.8L568.4 557.9L567.9 558.1L567.4 558.2L567 557.8L566.5 557.4L566 557.1L565.5 556.7L565 556.3L564.5 555.9L564 555.6L563.6 555.4L563.1 555.5L562.6 555.7L562.1 555.8L561.6 556L561.1 556.1L560.6 556.3L560.2 556.4L559.7 556.2L559.2 555.8L558.7 555.5L558.2 555.1L557.7 554.7L557.2 554.3L556.7 554L556.3 553.6L555.8 553.7L555.3 553.9L554.8 554L554.3 554.1L553.8 554.3L553.3 554.4L552.9 554.6L552.4 554.6L551.9 554.2L551.4 553.8L550.9 553.5L550.4 553.1L550 552.7L549.5 552.3L549 551.9L548.5 551.9L548 552L547.5 552.1L547 552.3L546.6 552.4L546.1 552.6L545.6 552.7L545.1 552.8L544.6 552.5L544.1 552.2L543.6 551.8L543.2 551.4L542.7 551L542.2 550.7L541.7 550.3L541.2 549.9L540.7 550.1L540.3 550.2L539.8 550.4L539.3 550.5L538.8 550.6L538.3 550.8L537.8 550.9L537.3 550.9L536.9 550.5L536.4 550.1L535.9 549.7L535.4 549.3L534.9 548.9L534.4 548.6L534 548.2L533.5 548.1L533 548.3L532.5 548.4L532 548.5L531.5 548.7L531.1 548.8L530.6 548.9L530.1 549.1L529.6 548.7L529.1 548.4L528.6 548L528.2 547.6L527.7 547.2L527.2 546.8L526.7 546.4L526.2 546.1L525.7 546.3L525.3 546.4L524.8 546.5L524.3 546.7L523.8 546.8L523.3 546.9L522.8 547.1L522.4 547L521.9 546.6L521.4 546.2L520.9 545.8L520.4 545.4L520 545L519.5 544.7L519 544.3L518.5 544.2L518 544.3L517.5 544.5L517.1 544.6L516.6 544.7L516.1 544.9L515.6 545L515.1 545.1L514.6 544.8L514.2 544.4L513.7 544L513.2 543.6L512.7 543.2L512.2 542.8L511.8 542.4L511.3 542.1L510.8 542.2L510.3 542.4L509.8 542.5L509.4 542.6L508.9 542.7L508.4 542.9L507.9 543L507.4 542.9L506.9 542.5L506.5 542.2L506 541.8L505.5 541.4L505 541L504.5 540.6L504.1 540.2L503.6 540.1L503.1 540.2L502.6 540.3L502.1 540.4L501.7 540.6L501.2 540.7L500.7 540.8L500.2 540.9L499.7 540.7L499.3 540.3L498.8 539.9L498.3 539.5L497.8 539.1L497.3 538.7L496.9 538.3L496.4 537.9L495.9 538L495.4 538.1L494.9 538.2L494.5 538.3L494 538.5L493.5 538.6L493 538.7L492.6 538.7L492.1 538.3L491.6 537.9L491.1 537.5L490.6 537.1L490.2 536.7L489.7 536.3L489.2 535.9L488.7 535.7L488.2 535.8L487.8 536L487.3 536.1L486.8 536.2L486.3 536.3L485.9 536.4L485.4 536.5L484.9 536.4L484.4 536L483.9 535.6L483.5 535.2L483 534.8L482.5 534.4L482 534L481.6 533.6L481.1 533.5L480.6 533.6L480.1 533.7L479.6 533.8L479.2 533.9L478.7 534.1L478.2 534.2L477.7 534.3L477.3 533.9L476.8 533.5L476.3 533.1L475.8 532.7L475.4 532.3L474.9 531.9L474.4 531.5L473.9 531.1L473.4 531.2L473 531.3L472.5 531.4L472 531.5L471.5 531.6L471.1 531.7L470.6 531.9L470.1 531.9L469.6 531.5L469.2 531.1L468.7 530.7L468.2 530.3L467.7 529.9L467.3 529.5L466.8 529L466.3 528.8L465.8 528.9L465.4 529L464.9 529.1L464.4 529.2L463.9 529.3L463.5 529.4L463 529.5L462.5 529.4L462 529L461.6 528.6L461.1 528.2L460.6 527.7L460.1 527.3L459.7 526.9L459.2 526.5L458.7 526.4L458.3 526.4L457.8 526.5L457.3 526.6L456.8 526.7L456.4 526.8L455.9 526.9L455.4 527L454.9 526.8L454.5 526.4L454 526L453.5 525.6L453 525.2L452.6 524.8L452.1 524.3L451.6 523.9L451.2 523.9L450.7 523.9L450.2 524L449.7 524.1L449.3 524.2L448.8 524.3L448.3 524.4L447.9 524.5L447.4 524.2L446.9 523.8L446.4 523.4L446 523L445.5 522.5L445 522.1L444.6 521.7L444.1 521.3L443.6 521.3L443.1 521.4L442.7 521.5L442.2 521.5L441.7 521.6L441.3 521.7L440.8 521.8L440.3 521.9L439.9 521.5L439.4 521.1L438.9 520.7L438.4 520.3L438 519.9L437.5 519.4L437 519L436.6 518.6L436.1 518.6L435.6 518.7L435.2 518.8L434.7 518.9L434.2 519L433.8 519L433.3 519.1L432.8 519.2L432.3 518.8L431.9 518.4L431.4 518L430.9 517.5L430.5 517.1L430 516.7L429.5 516.3L429.1 515.8L428.6 515.9L428.1 516L427.7 516L427.2 516.1L426.7 516.2L426.3 516.3L425.8 516.3L425.3 516.4L424.9 516L424.4 515.6L423.9 515.2L423.5 514.7L423 514.3L422.5 513.9L422.1 513.5L421.6 513L421.1 513.1L420.7 513.1L420.2 513.2L419.7 513.3L419.3 513.4L418.8 513.4L418.3 513.5L417.9 513.6L417.4 513.2L416.9 512.8L416.5 512.3L416 511.9L415.6 511.5L415.1 511L414.6 510.6L414.2 510.2L413.7 510.2L413.2 510.2L412.8 510.3L412.3 510.4L411.8 510.4L411.4 510.5L410.9 510.6L410.5 510.6L410 510.3L409.5 509.9L409.1 509.4L408.6 509L408.1 508.6L407.7 508.1L407.2 507.7L406.8 507.2L406.3 507.2L405.8 507.2L405.4 507.3L404.9 507.3L404.4 507.4L404 507.5L403.5 507.5L403.1 507.6L402.6 507.3L402.1 506.9L401.7 506.5L401.2 506L400.8 505.6L400.3 505.1L399.8 504.7L399.4 504.3L398.9 504.1L398.5 504.1L398 504.2L397.5 504.2L397.1 504.3L396.6 504.3L396.2 504.4L395.7 504.4L395.2 504.3L394.8 503.9L394.3 503.4L393.9 503L393.4 502.5L393 502.1L392.5 501.7L392 501.2L391.6 500.9L391.1 500.9L390.7 501L390.2 501L389.8 501.1L389.3 501.1L388.8 501.1L388.4 501.2L387.9 501.2L387.5 500.8L387 500.3L386.6 499.9L386.1 499.4L385.6 499L385.2 498.5L384.7 498.1L384.3 497.7L383.8 497.6L383.4 497.7L382.9 497.7L382.5 497.7L382 497.8L381.6 497.8L381.1 497.8L380.6 497.9L380.2 497.6L379.7 497.2L379.3 496.7L378.8 496.3L378.4 495.8L377.9 495.4L377.5 494.9L377 494.5L376.6 494.2L376.1 494.2L375.7 494.3L375.2 494.3L374.8 494.3L374.3 494.4L373.9 494.4L373.4 494.4L372.9 494.4L372.5 494L372 493.5L371.6 493L371.1 492.6L370.7 492.1L370.2 491.7L369.8 491.2L369.3 490.8L368.9 490.7L368.4 490.7L368 490.8L367.5 490.8L367.1 490.8L366.6 490.8L366.2 490.9L365.8 490.9L365.3 490.7L364.9 490.2L364.4 489.8L364 489.3L363.5 488.8L363.1 488.4L362.6 487.9L362.2 487.5L361.7 487.1L361.3 487.1L360.8 487.1L360.4 487.2L359.9 487.2L359.5 487.2L359 487.2L358.6 487.2L358.1 487.2L357.7 486.8L357.3 486.4L356.8 485.9L356.4 485.5L355.9 485L355.5 484.6L355 484.1L354.6 483.7L354.1 483.4L353.7 483.4L353.3 483.4L352.8 483.4L352.4 483.4L351.9 483.4L351.5 483.4L351 483.3L350.6 483.3L350.2 482.9L349.7 482.5L349.3 482L348.8 481.6L348.4 481.1L347.9 480.7L347.5 480.3L347.1 479.8L346.6 479.6L346.2 479.6L345.7 479.5L345.3 479.5L344.9 479.5L344.4 479.5L344 479.4L343.5 479.4L343.1 479.3L342.7 478.9L342.2 478.5L341.8 478.1L341.3 477.6L340.9 477.2L340.5 476.8L340 476.3L339.6 475.9L339.1 475.7L338.7 475.6L338.3 475.6L337.8 475.5L337.4 475.5L336.9 475.4L336.5 475.4L336.1 475.3L335.6 475.3L335.2 474.9L334.8 474.5L334.3 474L333.9 473.6L333.5 473.2L333 472.7L332.6 472.3L332.2 471.9L331.7 471.6L331.3 471.5L330.9 471.4L330.4 471.4L330 471.3L329.6 471.2L329.2 471.1L328.7 471L328.3 470.9L327.9 470.6L327.5 470.2L327 469.8L326.6 469.3L326.2 468.9L325.7 468.5L325.3 468.1L324.9 467.7L324.5 467.3L324 467.2L323.6 467.1L323.2 467L322.7 466.9L322.3 466.8L321.9 466.7L321.5 466.6L321 466.5L320.6 466.3L320.2 465.9L319.7 465.5L319.3 465.1L318.9 464.7L318.5 464.3L318 463.9L317.6 463.5L317.2 463.1L316.8 462.8L316.4 462.7L315.9 462.6L315.5 462.4L315.1 462.3L314.7 462.2L314.3 462L313.8 461.9L313.4 461.7L313 461.4L312.6 461L312.2 460.6L311.8 460.2L311.3 459.8L310.9 459.4L310.5 459L310.1 458.6L309.7 458.2L309.3 458L308.8 457.9L308.4 457.7L308 457.6L307.6 457.5L307.2 457.3L306.7 457.1L306.3 457L305.9 456.8L305.5 456.5L305.1 456.1L304.6 455.7L304.2 455.3L303.8 454.9L303.4 454.6L303 454.2L302.5 453.8L302.1 453.5L301.7 453.3L301.3 453.1L300.9 453L300.4 452.8L300 452.6L299.6 452.5L299.2 452.3L298.8 452.1L298.3 451.9L297.9 451.6L297.5 451.2L297.1 450.9L296.7 450.5L296.2 450.1L295.8 449.8L295.4 449.4L295 449.1L294.6 448.7L294.1 448.6L293.7 448.4L293.3 448.2L292.9 448L292.5 447.8L292.1 447.6L291.7 447.4L291.3 447.2L290.8 446.9L290.4 446.6L290 446.2L289.6 445.9L289.2 445.5L288.8 445.1L288.4 444.8L288 444.4L287.6 444.1L287.2 443.7L286.8 443.5L286.4 443.2L286 443L285.6 442.8L285.2 442.5L284.8 442.3L284.4 442L284 441.8L283.6 441.5L283.2 441.2L282.9 440.8L282.5 440.4L282.1 440.1L281.7 439.7L281.3 439.3L281 439L280.6 438.6L280.2 438.3L279.8 437.9L279.4 437.6L279.1 437.3L278.7 437.1L278.3 436.8L277.9 436.5L277.6 436.2L277.2 435.9L276.8 435.6L276.4 435.3L276 435L275.6 434.7L275.2 434.3L274.8 434L274.4 433.7L274 433.4L273.6 433.1L273.2 432.8L272.8 432.4L272.4 432.2L272 431.9L271.6 431.6L271.2 431.3L270.8 431L270.4 430.7L270 430.5L269.6 430.2L269.2 429.9L268.8 429.6L268.4 429.3L268 429L267.6 428.7L267.2 428.4L266.8 428.1L266.4 427.9L265.9 427.6L265.5 427.3L265.1 427L264.7 426.7L264.3 426.4L263.9 426.2L263.5 425.9L263.1 425.6L262.6 425.3L262.2 425L261.8 424.7L261.4 424.5L261 424.2L260.6 423.9L260.3 423.5L259.9 423.1L259.6 422.7L259.3 422.4L258.9 422L258.6 421.6L258.3 421.2L257.9 420.9L257.6 420.5L257.3 420.1L257 419.7L256.6 419.3L256.3 419L256 418.6L255.6 418.2L255.3 417.8L255 417.4L254.7 417L254.3 416.7L254 416.3L253.6 416L253.2 415.7L252.8 415.5L252.3 415.2L251.9 414.9L251.5 414.6L251.1 414.4L250.7 414.1L250.2 413.8L249.8 413.5L249.4 413.3L249 413L248.6 412.7L248.1 412.4L247.7 412.1L247.3 411.9L246.9 411.6L246.5 411.3L246.1 411L245.7 410.7L245.3 410.4L244.9 410L244.6 409.7L244.2 409.4L243.9 409L243.5 408.7L243.1 408.3L242.8 408L242.4 407.6L242.1 407.3L241.7 406.9L241.3 406.6L241 406.2L240.6 405.9L240.3 405.5L239.9 405.2L239.6 404.8L239.2 404.5L238.9 404.1L238.5 403.8L238.1 403.4L237.8 403.1L237.4 402.8L237 402.4L236.7 402.1L236.3 401.8L236 401.4L235.6 401.1L235.2 400.7L234.9 400.4L234.5 400.1L234.1 399.7L233.8 399.4L233.4 399L233 398.7L232.7 398.4L232.3 398L232 397.7L231.6 397.3L231.2 397L230.9 396.6L230.5 396.3L230.2 395.9L229.8 395.6L229.5 395.2L229.1 394.9L228.7 394.6L228.4 394.2L228 393.9L227.7 393.5L227.3 393.2L227 392.8L226.6 392.4L226.3 392.1L225.9 391.7L225.6 391.4L225.2 391L224.9 390.7L224.5 390.3L224.2 390L223.8 389.6L223.5 389.2L223.2 388.8L222.9 388.5L222.5 388.1L222.2 387.7L221.9 387.3L221.6 387L221.2 386.6L220.9 386.2L220.6 385.8L220.3 385.4L219.9 385.1L219.6 384.7L219.3 384.3L219 383.9L218.7 383.5L218.3 383.2L218 382.8L217.7 382.4L217.4 382L217 381.6L216.7 381.3L216.4 380.9L216.1 380.5L215.7 380.1L215.4 379.8L215.1 379.4L214.8 379L214.4 378.6L214.1 378.3L213.8 377.9L213.5 377.5L213.2 377.1L212.8 376.7L212.5 376.4L212.2 376L211.9 375.6L211.6 375.2L211.2 374.8L210.9 374.5L210.5 374.1L210.2 373.8L209.8 373.4L209.5 373.1L209.1 372.7L208.7 372.4L208.4 372L208 371.7L207.7 371.3L207.3 371L207 370.6L206.6 370.3L206.3 369.9L205.9 369.6L205.6 369.2L205.2 368.8L204.9 368.5L204.5 368.1L204.2 367.8L203.9 367.4L203.6 367L203.3 366.6L203 366.2L202.7 365.8L202.4 365.4L202.1 365L201.8 364.6L201.5 364.2L201.2 363.8L200.9 363.4L200.6 363L200.3 362.6L200 362.2L199.7 361.8L199.4 361.4L199.1 361L198.8 360.6L198.5 360.2L198.3 359.8L197.9 359.4L197.6 359L197.3 358.6L197 358.2L196.7 357.8L196.4 357.4L196.1 357L195.8 356.6L195.5 356.3L195.2 355.9L194.9 355.5L194.6 355.1L194.2 354.7L193.9 354.3L193.6 353.9L193.3 353.5L193 353.1L192.7 352.7L192.4 352.3L192.1 351.9L191.8 351.6L191.4 351.2L191.1 350.8L190.8 350.5L190.4 350.1L190.1 349.7L189.8 349.3L189.4 349L189.1 348.6L188.8 348.2L188.4 347.9L188.1 347.5L187.7 347.1L187.4 346.7L187.1 346.4L186.8 346L186.4 345.6L186.1 345.2L185.8 344.8L185.5 344.5L185.3 344L185 343.6L184.5 343.2L184.3 342.8L184 342.4L183.8 341.9L183.5 341.5L183.3 341.1L183.1 340.7L182.9 340.3L182.6 339.8L182.4 339.4L182.2 339L181.5 338.6L181.2 338.2L181 337.7L180.8 337.3L180.6 336.9L180.4 336.5L180.2 336L180 335.6L179.8 335.2L179.5 334.8L179.3 334.4L178.4 334L178.2 333.5L178 333.1L177.8 332.7L177.6 332.3L177.4 331.9L177.2 331.5L177 331L176.8 330.6L176.7 330.2L176.5 329.8L175.4 329.4L175.2 329L175 328.5L174.8 328.1L174.6 327.7L174.5 327.3L174.3 326.9L174.1 326.4L173.9 326L173.8 325.6L172.5 325.2L172.4 324.8L172.2 324.4L172 323.9L171.9 323.5L171.7 323.1L171.5 322.7L171.4 322.3L171.2 321.9L171.1 321.4L170.9 321L169.5 320.6L169.4 320.2L169.2 319.8L169.1 319.3L168.9 318.9L168.8 318.5L168.6 318.1L168.5 317.7L168.3 317.3L168.2 316.9L166.7 316.4L166.5 316L166.4 315.6L166.2 315.2L166.1 314.8L166 314.4L165.8 314L165.7 313.5L165.6 313.1L165.5 312.7L163.8 312.3L163.7 311.9L163.5 311.5L163.4 311L163.3 310.6L163.2 310.2L163.1 309.8L163 309.4L162.9 308.9L162.8 308.5L162.7 308.1L160.9 307.7L160.8 307.3L160.7 306.8L160.6 306.4L160.5 306L160.4 305.6L160.3 305.1L160.2 304.7L160.1 304.3L160 303.9L158.2 303.4L158.1 303L158 302.6L157.9 302.2L157.9 301.7L157.8 301.3L157.7 300.8L157.7 300.4L157.6 300L157.6 299.5L155.7 299.1L155.6 298.6L155.6 298.2L155.5 297.8L155.5 297.3L155.4 296.9L155.4 296.5L155.3 296L155.3 295.6L155.2 295.1L153.2 294.7L153.2 294.3L153.2 293.8L153.1 293.4L153.1 292.9L153 292.5L153 292.1L152.9 291.6L152.9 291.2L152.9 290.8L150.8 290.3L150.7 289.9L150.7 289.5L150.7 289L150.6 288.6L150.6 288.1L150.6 287.7L150.5 287.3L150.5 286.8L150.5 286.4L150.5 286L148.3 285.5L148.3 285.1L148.3 284.6L148.2 284.2L148.2 283.8L148.2 283.3L148.1 282.9L148.1 282.5L148.1 282L148.1 281.6L145.9 281.2L145.9 280.7L145.8 280.3L145.8 279.9L145.8 279.4L145.8 279L145.8 278.5L145.8 278.1L145.8 277.7L143.5 277.2L143.5 276.8L143.5 276.3L143.5 275.9L143.5 275.5L143.5 275L143.5 274.6L143.5 274.1L143.5 273.7L143.5 273.2L141.3 272.8L141.3 272.3L141.3 271.9L141.3 271.4L141.3 271L141.3 270.5L141.3 270.1L141.3 269.6L141.4 269.2L141.4 268.7L139.1 268.3L139.1 267.9L139.1 267.4L139.1 267L139.1 266.5L139.1 266.1L139.2 265.6L139.2 265.2L139.2 264.7L139.2 264.3L136.9 263.8L136.9 263.4L136.9 262.9L136.9 262.5L137 262.1L137 261.6L137 261.2L137 260.7L137.1 260.3L137.1 259.8L134.7 259.4L134.7 258.9L134.8 258.5L134.8 258L134.8 257.6L134.9 257.1L134.9 256.7L134.9 256.2L135 255.8L135 255.3L132.6 254.9L132.7 254.4L132.7 254L132.8 253.5L132.8 253.1L132.8 252.6L132.9 252.1L132.9 251.7L133 251.2L130.6 250.8L130.6 250.3L130.6 249.9L130.7 249.4L130.7 249L130.8 248.5L130.8 248.1L130.9 247.6L130.9 247.2L131 246.7L128.6 246.3L128.6 245.8L128.7 245.3L128.7 244.9L128.8 244.4L128.8 244L128.9 243.5L128.9 243.1L129 242.6L129 242.2L126.6 241.7L126.7 241.3L126.7 240.8L126.8 240.3L126.8 239.9L126.9 239.4L126.9 239L127 238.5L127.1 238.1L124.6 237.6L124.7 237.2L124.7 236.7L124.8 236.2L124.9 235.8L124.9 235.3L125 234.9L125 234.4L125.1 234L125.2 233.5L122.7 233L122.8 232.6L122.9 232.1L122.9 231.7L123 231.2L123.1 230.7L123.1 230.3L123.2 229.8L123.3 229.4L120.8 228.9L120.9 228.4L121 228L121 227.5L121.1 227.1L121.2 226.6L121.2 226.1L121.3 225.7L121.4 225.2L121.4 224.8L119 224.3L119.1 223.8L119.2 223.4L119.3 222.9L119.3 222.5L119.4 222L119.5 221.5L119.5 221.1L119.6 220.6L117.2 220.2L117.3 219.7L117.4 219.2L117.4 218.8L117.5 218.3L117.6 217.8L117.6 217.4L117.7 216.9L117.8 216.5L117.8 216L115.5 215.5L115.6 215.1L115.7 214.6L115.7 214.1L115.8 213.7L115.8 213.2L115.9 212.7L116 212.3L116 211.8L113.8 211.4L113.8 210.9L113.9 210.4L114 210L114 209.5L114.1 209L114.2 208.6L114.2 208.1L114.3 207.6L114.3 207.2L112.1 206.7L112.2 206.2L112.2 205.8L112.3 205.3L112.4 204.8L112.4 204.4L112.5 203.9L112.6 203.4L112.6 203L110.4 202.5L110.5 202L110.6 201.6L110.6 201.1L110.7 200.6L110.7 200.2L110.8 199.7L110.9 199.2L110.9 198.8L111 198.3L108.8 197.8L108.9 197.4L109 196.9L109 196.4L109.1 196L109.2 195.5L109.2 195L109.3 194.6L109.3 194.1L107.2 193.6L107.3 193.2L107.3 192.7L107.4 192.2L107.5 191.8L107.5 191.3L107.6 190.8L107.6 190.3L107.7 189.9L105.6 189.4L105.7 188.9L105.7 188.5L105.8 188L105.9 187.5L105.9 187.1L106 186.6L106 186.1L106.1 185.6L106.2 185.2L104.1 184.7L104.2 184.2L104.2 183.8L104.3 183.3L104.3 182.8L104.4 182.4L104.5 181.9L104.5 181.4L104.6 180.9L102.6 180.5L102.6 180L102.7 179.5L102.7 179.1L102.8 178.6L102.9 178.1L102.9 177.6L103 177.2L103 176.7L101.1 176.2L101.1 175.7L101.2 175.3L101.2 174.8L101.3 174.3L101.3 173.9L101.4 173.4L101.5 172.9L101.5 172.4L101.6 172L99.6 171.5L99.7 171L99.7 170.5L99.8 170.1L99.8 169.6L99.9 169.1L100 168.7L100 168.2L100.1 167.7L98.2 167.2L98.2 166.8L98.3 166.3L98.3 165.8L98.4 165.3L98.4 164.9L98.5 164.4L98.5 163.9L98.6 163.4L96.7 163L96.8 162.5L96.8 162L96.9 161.5L96.9 161.1L97 160.6L97 160.1L97.1 159.6L97.1 159.2L95.3 158.7L95.3 158.2L95.4 157.7L95.5 157.3L95.5 156.8L95.6 156.3L95.6 155.8L95.7 155.4L95.7 154.9L95.8 154.4L94 153.9L94 153.5L94.1 153L94.1 152.5L94.2 152L94.2 151.6L94.3 151.1L94.3 150.6L94.4 150.1L92.6 149.6L92.6 149.2L92.7 148.7L92.7 148.2L92.8 147.7L92.8 147.3L92.9 146.8L92.9 146.3L93 145.8L91.2 145.4L91.3 144.9L91.3 144.4L91.4 143.9L91.4 143.4L91.5 143L91.5 142.5L91.6 142L91.6 141.5L89.9 141.1L90 140.6L90 140.1L90.1 139.6L90.1 139.1L90.2 138.7L90.2 138.2L90.3 137.7L90.3 137.2L88.6 136.8L88.6 136.3L88.7 135.8L88.7 135.3L88.8 134.8L88.8 134.4L88.9 133.9L88.9 133.4L89 132.9L89 132.4L87.4 132L87.4 131.5L87.5 131L87.5 130.5L87.6 130L87.6 129.6L87.7 129.1L87.7 128.6L86.9 128.1L86.8 127.6Z" fill="#e60000"/>
<circle cx="84.3" cy="128.3" r="2.4" fill="#e60000"/><circle cx="678.3" cy="581.2" r="2.4" fill="#e60000"/>
<path d="M81.8 20.8L81.9 21.3L81.6 21.7L81.6 22.2L81.6 22.7L83.2 23.2L83.1 23.7L83.1 24.1L83 24.6L83 25.1L82.9 25.6L82.9 26.1L82.8 26.6L82.8 27L84.4 27.5L84.4 28L84.3 28.5L84.3 29L84.2 29.4L84.2 29.9L84.2 30.4L84.1 30.9L84.1 31.4L85.7 31.9L85.7 32.3L85.6 32.8L85.6 33.3L85.5 33.8L85.5 34.3L85.4 34.7L85.4 35.2L85.3 35.7L87 36.2L87 36.7L86.9 37.2L86.9 37.6L86.8 38.1L86.8 38.6L86.7 39.1L86.7 39.6L86.6 40L88.3 40.5L88.3 41L88.3 41.5L88.2 42L88.2 42.4L88.1 42.9L88.1 43.4L88 43.9L87.9 44.4L87.9 44.8L89.6 45.3L89.6 45.8L89.5 46.3L89.5 46.8L89.4 47.2L89.4 47.7L89.3 48.2L89.3 48.7L89.2 49.2L91 49.6L91 50.1L90.9 50.6L90.9 51.1L90.8 51.5L90.8 52L90.7 52.5L90.7 53L90.6 53.5L92.4 53.9L92.3 54.4L92.3 54.9L92.2 55.4L92.2 55.9L92.1 56.3L92.1 56.8L92 57.3L92 57.8L93.8 58.2L93.8 58.7L93.7 59.2L93.7 59.7L93.6 60.2L93.5 60.6L93.5 61.1L93.4 61.6L93.4 62.1L95.2 62.5L95.2 63L95.1 63.5L95.1 64L95 64.4L95 64.9L94.9 65.4L94.9 65.9L94.8 66.4L94.8 66.8L96.6 67.3L96.6 67.8L96.5 68.3L96.5 68.7L96.4 69.2L96.4 69.6L96.3 70.1L96.3 70.6L96.2 71.1L97.9 71.5L97.8 72L97.8 72.5L97.7 73L97.7 73.5L97.6 73.9L97.6 74.4L97.5 74.9L97.5 75.4L99.1 75.9L99.1 76.3L99.1 76.8L99 77.3L99 77.8L98.9 78.3L98.9 78.8L98.8 79.2L98.8 79.7L100.5 80.2L100.4 80.7L100.4 81.2L100.3 81.6L100.3 82.1L100.2 82.6L100.2 83.1L100.1 83.6L100.1 84L101.8 84.5L101.7 85L101.7 85.5L101.6 86L101.6 86.4L101.5 86.9L101.5 87.4L101.4 87.9L101.4 88.4L101.3 88.8L103.1 89.3L103 89.8L103 90.3L102.9 90.8L102.9 91.2L102.8 91.7L102.8 92.2L102.7 92.7L102.7 93.2L104.4 93.6L104.4 94.1L104.3 94.6L104.3 95.1L104.2 95.6L104.2 96L104.1 96.5L104.1 97L104 97.5L105.8 97.9L105.8 98.4L105.7 98.9L105.7 99.4L105.6 99.9L105.6 100.3L105.5 100.8L105.4 101.3L105.4 101.8L107.2 102.3L107.2 102.7L107.1 103.2L107.1 103.7L107 104.2L107 104.6L106.9 105.1L106.8 105.6L106.8 106.1L108.6 106.6L108.6 107L108.5 107.5L108.5 108L108.4 108.5L108.4 108.9L108.3 109.4L108.3 109.9L108.2 110.4L108.2 110.8L110 111.3L110 111.8L109.9 112.3L109.9 112.8L109.8 113.2L109.8 113.7L109.7 114.2L109.7 114.7L109.6 115.1L111.5 115.6L111.4 116.1L111.4 116.6L111.3 117L111.3 117.5L111.2 118L111.2 118.5L111.1 118.9L111.1 119.4L113 119.9L112.9 120.4L112.9 120.8L112.8 121.3L112.8 121.8L112.7 122.3L112.7 122.7L112.6 123.2L112.5 123.7L114.5 124.2L114.5 124.6L114.4 125.1L114.3 125.6L114.3 126.1L114.2 126.5L114.2 127L114.1 127.5L114.1 128L114 128.4L116 128.9L115.9 129.4L115.9 129.9L115.8 130.3L115.8 130.8L115.7 131.3L115.6 131.8L115.6 132.2L115.5 132.7L117.6 133.2L117.5 133.6L117.4 134.1L117.4 134.6L117.3 135.1L117.3 135.5L117.2 136L117.1 136.5L117.1 137L119.1 137.4L119.1 137.9L119 138.4L119 138.8L118.9 139.3L118.9 139.8L118.8 140.3L118.7 140.7L118.7 141.2L118.6 141.7L120.7 142.2L120.6 142.6L120.6 143.1L120.5 143.6L120.5 144L120.4 144.5L120.3 145L120.3 145.5L120.2 145.9L122.3 146.4L122.3 146.9L122.2 147.3L122.2 147.8L122.1 148.3L122 148.7L122 149.2L121.9 149.7L121.9 150.2L124 150.6L123.9 151.1L123.9 151.6L123.8 152L123.8 152.5L123.7 153L123.6 153.4L123.6 153.9L123.5 154.4L123.5 154.9L125.6 155.3L125.6 155.8L125.5 156.3L125.5 156.7L125.4 157.2L125.3 157.7L125.3 158.1L125.2 158.6L125.1 159.1L127.4 159.5L127.3 160L127.2 160.5L127.2 160.9L127.1 161.4L127.1 161.9L127 162.3L126.9 162.8L126.9 163.3L126.8 163.7L129 164.2L129 164.7L128.9 165.1L128.9 165.6L128.8 166.1L128.7 166.5L128.7 167L128.6 167.5L128.5 167.9L130.8 168.4L130.8 168.9L130.7 169.3L130.6 169.8L130.6 170.3L130.5 170.7L130.4 171.2L130.4 171.7L130.3 172.1L130.3 172.6L132.6 173.1L132.5 173.5L132.5 174L132.4 174.5L132.3 174.9L132.3 175.4L132.2 175.9L132.1 176.3L132.1 176.8L134.4 177.3L134.4 177.7L134.3 178.2L134.2 178.6L134.2 179.1L134.1 179.6L134 180L134 180.5L133.9 181L133.8 181.4L136.2 181.9L136.2 182.4L136.1 182.8L136 183.3L136 183.7L135.9 184.2L135.8 184.7L135.8 185.1L135.7 185.6L138.1 186L138.1 186.5L138 187L137.9 187.4L137.9 187.9L137.8 188.4L137.7 188.8L137.7 189.3L137.6 189.7L137.5 190.2L140 190.7L139.9 191.1L139.9 191.6L139.8 192L139.8 192.5L139.7 193L139.6 193.4L139.6 193.9L139.5 194.3L142 194.8L141.9 195.3L141.8 195.7L141.8 196.2L141.7 196.6L141.7 197.1L141.6 197.6L141.6 198L141.5 198.5L141.4 198.9L143.9 199.4L143.8 199.8L143.8 200.3L143.7 200.8L143.7 201.2L143.6 201.7L143.6 202.1L143.5 202.6L143.5 203.1L143.4 203.5L145.8 204L145.8 204.4L145.7 204.9L145.7 205.3L145.6 205.8L145.6 206.3L145.5 206.7L145.5 207.2L145.5 207.6L147.9 208.1L147.8 208.5L147.8 209L147.7 209.4L147.7 209.9L147.7 210.4L147.6 210.8L147.6 211.3L147.5 211.7L147.5 212.2L149.9 212.6L149.9 213.1L149.8 213.5L149.8 214L149.8 214.4L149.7 214.9L149.7 215.3L149.7 215.8L149.6 216.3L149.6 216.7L152 217.2L152 217.6L151.9 218.1L151.9 218.5L151.9 219L151.8 219.4L151.8 219.9L151.8 220.3L151.7 220.8L154.1 221.2L154.1 221.7L154 222.2L154 222.6L154 223.1L153.9 223.5L153.9 224L153.9 224.4L153.8 224.9L153.8 225.3L156.2 225.8L156.1 226.2L156.1 226.7L156.1 227.2L156 227.6L156 228.1L156 228.5L156 229L156 229.4L156 229.9L158.3 230.3L158.3 230.8L158.3 231.2L158.3 231.6L158.3 232.1L158.3 232.5L158.3 233L158.3 233.4L158.3 233.9L158.3 234.3L160.6 234.8L160.6 235.2L160.6 235.7L160.6 236.1L160.6 236.5L160.6 237L160.6 237.4L160.6 237.9L160.6 238.3L160.6 238.8L162.8 239.2L162.8 239.7L162.9 240.1L162.9 240.6L162.9 241L162.9 241.4L162.9 241.9L162.9 242.3L162.9 242.8L163 243.2L165.1 243.7L165.2 244.1L165.2 244.5L165.2 245L165.2 245.4L165.2 245.9L165.3 246.3L165.3 246.7L165.4 247.2L165.4 247.6L167.6 248L167.6 248.5L167.7 248.9L167.7 249.3L167.8 249.7L167.9 250.2L167.9 250.6L168 251L168 251.5L168.1 251.9L170.2 252.3L170.3 252.7L170.3 253.2L170.4 253.6L170.5 254L170.6 254.4L170.6 254.9L170.6 255.3L170.7 255.7L170.7 256.2L172.7 256.6L172.8 257.1L172.8 257.5L172.9 258L172.9 258.4L173 258.8L173 259.3L173.1 259.7L173.1 260.2L173.2 260.6L175.1 261.1L175.2 261.5L175.2 261.9L175.3 262.4L175.3 262.8L175.4 263.3L175.5 263.7L175.5 264.1L175.6 264.6L175.7 265L177.6 265.4L177.7 265.9L177.7 266.3L177.8 266.7L177.9 267.1L178 267.6L178.1 268L178.2 268.4L178.3 268.9L178.4 269.3L178.5 269.7L180.3 270.2L180.4 270.6L180.4 271L180.5 271.4L180.6 271.9L180.7 272.3L180.8 272.7L180.9 273.2L181 273.6L181.1 274L182.8 274.5L182.9 274.9L183 275.3L183.1 275.8L183.2 276.2L183.3 276.6L183.4 277.1L183.5 277.5L183.6 277.9L183.8 278.4L185.4 278.8L185.5 279.2L185.6 279.7L185.7 280.1L185.8 280.5L186 281L186.1 281.4L186.3 281.8L186.5 282.2L186.6 282.6L186.8 283L188.3 283.4L188.5 283.8L188.7 284.2L188.8 284.6L189 285L189.2 285.4L189.4 285.8L189.6 286.2L189.8 286.6L190 287L191.4 287.4L191.6 287.8L191.8 288.2L192 288.6L192.1 289L192.2 289.5L192.3 289.9L192.5 290.4L192.6 290.8L192.7 291.2L192.9 291.7L194.1 292.1L194.2 292.6L194.4 293L194.5 293.5L194.6 293.9L194.8 294.4L194.9 294.8L195.1 295.2L195.2 295.7L195.4 296.1L196.5 296.6L196.6 297L196.8 297.5L197 297.9L197.2 298.3L197.4 298.7L197.6 299.1L197.8 299.6L198 300L198.2 300.4L198.4 300.8L199.4 301.2L199.6 301.6L199.8 302L200 302.4L200.3 302.9L200.5 303.3L200.7 303.7L201 304.1L201.2 304.5L201.4 304.9L201.7 305.3L202.5 305.7L202.7 306.1L203 306.5L203.3 306.9L203.6 307.3L203.9 307.7L204.1 308L204.4 308.4L204.7 308.8L205 309.2L205.7 309.6L206 310L206.3 310.3L206.6 310.7L206.9 311.1L207.2 311.5L207.5 311.8L207.8 312.2L208.1 312.6L208.5 313L208.8 313.4L209.2 313.8L209.5 314.2L209.8 314.6L210.1 315L210.3 315.4L210.6 315.8L210.9 316.2L211.2 316.6L211.5 317L211.8 317.4L212.1 317.8L212.4 318.2L212.7 318.6L213 319L213.3 319.4L213.6 319.8L213.9 320.2L214.2 320.6L214.5 321L214.8 321.4L215.1 321.8L215.4 322.2L215.7 322.6L216 323L216.3 323.4L216.7 323.8L217 324.2L217.3 324.6L217.6 325L217.9 325.4L218.2 325.8L218.5 326.2L218.8 326.6L219.1 327L219.4 327.4L219.7 327.8L220 328.2L220.4 328.6L220.7 329L221 329.4L221.3 329.8L221.6 330.2L221.9 330.6L222.2 331L222.5 331.4L222.8 331.8L223.1 332.2L223.4 332.6L223.7 333L224 333.4L224.3 333.8L224.6 334.2L224.9 334.6L225.2 335L225.5 335.4L225.9 335.8L226.2 336.2L226.5 336.6L226.8 337L227.1 337.4L227.4 337.7L227.7 338.1L228 338.5L228.3 338.9L228.7 339.3L229 339.7L229.3 340.1L229.6 340.5L229.9 340.9L230.2 341.3L230.6 341.7L230.9 342L231.2 342.4L231.5 342.8L231.8 343.2L232.2 343.6L232.5 344L232.8 344.4L233.1 344.8L233.4 345.2L233.8 345.6L234.1 345.9L234.4 346.3L234.7 346.7L235 347.1L235.3 347.5L235.6 347.9L235.9 348.3L236.2 348.7L236.6 349.1L236.9 349.5L237.2 349.9L237.5 350.3L237.8 350.7L238.1 351.1L238.4 351.5L238.8 351.9L239.1 352.3L239.4 352.7L239.7 353L240.1 353.4L240.5 353.7L240.8 354.1L241.2 354.4L241.6 354.8L242 355.1L242.3 355.4L242.7 355.8L243.1 356.1L243.4 356.4L243.8 356.8L244.2 357.1L244.6 357.5L245 357.8L245.3 358.1L245.7 358.5L246.1 358.8L246.5 359.1L246.8 359.5L247.2 359.8L247.5 360.2L247.9 360.6L248.2 360.9L248.5 361.3L248.9 361.7L249.2 362.1L249.5 362.4L249.9 362.8L250.2 363.2L250.6 363.6L250.9 363.9L251.2 364.3L251.6 364.7L251.9 365.1L252.2 365.4L252.6 365.8L252.9 366.2L253.3 366.6L253.6 366.9L253.9 367.3L254.3 367.7L254.7 368L255 368.3L255.4 368.7L255.7 369L256.1 369.4L256.5 369.7L256.8 370.1L257.2 370.4L257.6 370.8L257.9 371.1L258.3 371.5L258.7 371.8L259 372.2L259.4 372.5L259.8 372.8L260.1 373.2L260.5 373.5L260.9 373.9L261.2 374.2L261.6 374.6L261.9 375L262.3 375.3L262.6 375.7L262.9 376.1L263.3 376.4L263.6 376.8L264 377.2L264.3 377.6L264.6 377.9L265 378.3L265.3 378.7L265.7 379L266 379.4L266.4 379.8L266.7 380.1L267.1 380.5L267.4 380.9L267.7 381.2L268.1 381.6L268.5 381.9L268.9 382.3L269.2 382.6L269.6 382.9L270 383.2L270.4 383.6L270.8 383.9L271.2 384.2L271.5 384.5L271.9 384.9L272.3 385.2L272.7 385.5L273.1 385.8L273.5 386.2L273.9 386.5L274.3 386.8L274.6 387.1L275 387.5L275.4 387.8L275.8 388.1L276.2 388.4L276.5 388.8L276.9 389.1L277.3 389.5L277.6 389.8L278 390.2L278.4 390.5L278.7 390.8L279.1 391.2L279.5 391.5L279.9 391.9L280.2 392.2L280.6 392.5L281 392.9L281.3 393.2L281.7 393.6L282.1 393.9L282.5 394.2L282.8 394.6L283.2 394.9L283.6 395.2L284 395.5L284.5 395.8L284.9 396.1L285.3 396.4L285.7 396.6L286.1 396.9L286.5 397.2L286.9 397.5L287.4 397.8L287.8 398.1L288.2 398.4L288.6 398.6L289 398.9L289.4 399.2L289.9 399.5L290.3 399.8L290.7 400.1L291.1 400.3L291.5 400.6L291.9 401L292.3 401.3L292.7 401.6L293 402L293.4 402.3L293.8 402.6L294.2 402.9L294.6 403.3L294.9 403.6L295.3 403.9L295.7 404.3L296.1 404.6L296.5 404.9L296.8 405.2L297.2 405.6L297.6 405.9L298 406.2L298.4 406.6L298.8 406.9L299.1 407.2L299.5 407.5L299.9 407.9L300.3 408.2L300.7 408.5L301.1 408.7L301.5 409L302 409.3L302.4 409.6L302.8 409.9L303.2 410.2L303.6 410.4L304 410.7L304.4 411L304.8 411.4L305.2 411.7L305.6 412L306 412.3L306.4 412.7L306.8 413L307.2 413.3L307.6 413.7L308 414L308.3 414.3L308.7 414.6L309.1 414.9L309.5 415.2L309.9 415.5L310.2 415.8L310.6 416.1L311 416.4L311.4 416.7L311.8 417.1L312.1 417.4L312.5 417.8L312.9 418.2L313.3 418.5L313.7 418.9L314.1 419.3L314.4 419.7L314.8 420L315.3 420.2L315.7 420.5L316.1 420.7L316.5 420.9L316.9 421.2L317.3 421.4L317.8 421.6L318.2 421.8L318.6 422.1L319 422.4L319.4 422.7L319.8 423.1L320.3 423.4L320.7 423.8L321.1 424.1L321.5 424.4L321.9 424.8L322.4 425.1L322.8 425.4L323.2 425.6L323.6 425.8L324 426L324.4 426.2L324.9 426.4L325.3 426.6L325.7 426.8L326.1 427L326.6 427.3L327 427.6L327.4 428L327.8 428.4L328.2 428.7L328.7 429.1L329.1 429.4L329.5 429.8L329.9 430.2L330.4 430.4L330.8 430.6L331.2 430.8L331.6 431L332 431.1L332.5 431.3L332.9 431.5L333.3 431.7L333.7 431.9L334.1 432.2L334.6 432.5L335 432.9L335.4 433.3L335.8 433.7L336.2 434L336.7 434.4L337.1 434.8L337.5 435.2L337.9 435.4L338.3 435.6L338.8 435.8L339.2 435.9L339.6 436.1L340 436.3L340.4 436.4L340.9 436.6L341.3 436.8L341.7 437.1L342.1 437.5L342.5 437.8L342.9 438.2L343.4 438.6L343.8 439L344.2 439.4L344.6 439.8L345 440.2L345.5 440.5L345.9 440.6L346.3 440.8L346.7 440.9L347.2 441L347.6 441.2L348 441.3L348.4 441.5L348.9 441.6L349.3 442L349.7 442.3L350.2 442.7L350.6 443.1L351 443.5L351.5 443.9L351.9 444.3L352.3 444.7L352.8 445.1L353.2 445.2L353.6 445.3L354.1 445.4L354.5 445.5L354.9 445.6L355.4 445.7L355.8 445.8L356.2 445.9L356.7 446.1L357.1 446.5L357.5 446.9L358 447.3L358.4 447.7L358.8 448.2L359.3 448.6L359.7 449L360.1 449.4L360.6 449.6L361 449.7L361.4 449.8L361.9 449.9L362.3 450L362.7 450.1L363.2 450.2L363.6 450.2L364 450.3L364.5 450.7L364.9 451.1L365.3 451.6L365.8 452L366.2 452.4L366.6 452.8L367.1 453.3L367.5 453.7L367.9 454L368.4 454.1L368.8 454.2L369.2 454.3L369.7 454.3L370.1 454.4L370.5 454.5L371 454.6L371.4 454.6L371.8 455L372.3 455.4L372.7 455.8L373.1 456.2L373.6 456.7L374 457.1L374.5 457.5L374.9 458L375.3 458.4L375.8 458.4L376.2 458.5L376.6 458.6L377.1 458.6L377.5 458.7L378 458.7L378.4 458.8L378.8 458.8L379.3 459.1L379.7 459.5L380.1 460L380.6 460.4L381 460.8L381.5 461.3L381.9 461.7L382.4 462.2L382.8 462.6L383.2 462.6L383.7 462.6L384.1 462.7L384.6 462.7L385 462.7L385.5 462.7L385.9 462.7L386.4 462.8L386.8 463L387.3 463.5L387.7 463.9L388.2 464.3L388.6 464.8L389.1 465.2L389.5 465.6L390 466.1L390.4 466.5L390.9 466.5L391.3 466.5L391.8 466.5L392.2 466.5L392.7 466.5L393.1 466.5L393.6 466.5L394 466.5L394.4 466.9L394.9 467.3L395.3 467.7L395.8 468.2L396.2 468.6L396.7 469.1L397.1 469.5L397.6 470L398 470.3L398.5 470.3L398.9 470.3L399.4 470.3L399.8 470.3L400.3 470.3L400.7 470.3L401.2 470.3L401.6 470.3L402.1 470.7L402.5 471.1L403 471.6L403.4 472.1L403.9 472.5L404.3 473L404.8 473.4L405.2 473.9L405.7 474.1L406.1 474L406.6 474L407 474L407.5 474L407.9 473.9L408.4 473.9L408.9 473.9L409.3 474L409.8 474.5L410.2 474.9L410.7 475.4L411.1 475.8L411.6 476.3L412 476.8L412.5 477.2L412.9 477.7L413.4 477.6L413.8 477.6L414.3 477.6L414.8 477.6L415.2 477.5L415.7 477.5L416.1 477.5L416.6 477.4L417 477.7L417.5 478.2L417.9 478.7L418.4 479.1L418.9 479.6L419.3 480L419.8 480.5L420.2 480.9L420.7 481.1L421.1 481.1L421.6 481.1L422 481L422.5 481L423 481L423.4 480.9L423.9 480.9L424.3 481L424.8 481.4L425.3 481.9L425.7 482.3L426.2 482.8L426.6 483.2L427.1 483.7L427.5 484.1L428 484.5L428.5 484.5L428.9 484.5L429.4 484.4L429.8 484.4L430.3 484.3L430.8 484.3L431.2 484.2L431.7 484.2L432.1 484.6L432.6 485L433.1 485.5L433.5 485.9L434 486.3L434.4 486.8L434.9 487.2L435.4 487.7L435.8 487.8L436.3 487.7L436.7 487.7L437.2 487.7L437.7 487.6L438.1 487.6L438.6 487.5L439.1 487.5L439.5 487.7L440 488.1L440.4 488.5L440.9 489L441.4 489.4L441.8 489.9L442.3 490.3L442.7 490.7L443.2 491L443.7 490.9L444.1 490.9L444.6 490.8L445.1 490.8L445.5 490.7L446 490.7L446.5 490.6L446.9 490.7L447.4 491.1L447.8 491.6L448.3 492L448.8 492.4L449.2 492.9L449.7 493.3L450.2 493.8L450.6 494.1L451.1 494.1L451.6 494L452 493.9L452.5 493.9L453 493.8L453.4 493.8L453.9 493.7L454.4 493.7L454.8 494.1L455.3 494.5L455.8 495L456.2 495.4L456.7 495.8L457.2 496.3L457.6 496.7L458.1 497.1L458.6 497.1L459 497L459.5 496.9L460 496.9L460.4 496.8L460.9 496.8L461.4 496.7L461.8 496.6L462.3 497L462.8 497.5L463.2 497.9L463.7 498.3L464.2 498.7L464.6 499.2L465.1 499.6L465.6 500L466 500L466.5 499.9L467 499.9L467.4 499.8L467.9 499.7L468.4 499.7L468.8 499.6L469.3 499.5L469.8 499.9L470.2 500.3L470.7 500.7L471.2 501.2L471.7 501.6L472.1 502L472.6 502.4L473.1 502.9L473.5 502.9L474 502.8L474.5 502.7L474.9 502.6L475.4 502.6L475.9 502.5L476.4 502.4L476.8 502.3L477.3 502.7L477.8 503.1L478.2 503.5L478.7 504L479.2 504.4L479.7 504.8L480.1 505.2L480.6 505.7L481.1 505.6L481.5 505.6L482 505.5L482.5 505.4L483 505.3L483.4 505.2L483.9 505.2L484.4 505.1L484.8 505.4L485.3 505.9L485.8 506.3L486.3 506.7L486.7 507.1L487.2 507.5L487.7 508L488.1 508.4L488.6 508.3L489.1 508.2L489.6 508.2L490 508.1L490.5 508L491 507.9L491.5 507.8L491.9 507.7L492.4 508.2L492.9 508.6L493.3 509L493.8 509.4L494.3 509.8L494.8 510.2L495.2 510.7L495.7 511L496.2 511L496.7 510.9L497.1 510.8L497.6 510.7L498.1 510.6L498.6 510.5L499 510.4L499.5 510.4L500 510.8L500.5 511.2L500.9 511.6L501.4 512L501.9 512.5L502.4 512.9L502.8 513.3L503.3 513.6L503.8 513.5L504.3 513.4L504.7 513.3L505.2 513.2L505.7 513.1L506.2 513L506.6 512.9L507.1 513L507.6 513.4L508.1 513.8L508.5 514.2L509 514.6L509.5 515.1L510 515.5L510.4 515.9L510.9 516.1L511.4 516L511.9 515.9L512.4 515.8L512.8 515.7L513.3 515.6L513.8 515.5L514.3 515.4L514.7 515.6L515.2 516L515.7 516.4L516.2 516.8L516.6 517.2L517.1 517.6L517.6 518L518.1 518.4L518.6 518.5L519 518.4L519.5 518.3L520 518.2L520.5 518.1L520.9 518L521.4 517.9L521.9 517.8L522.4 518.1L522.9 518.5L523.3 518.9L523.8 519.3L524.3 519.7L524.8 520.1L525.2 520.5L525.7 520.9L526.2 520.8L526.7 520.7L527.2 520.6L527.6 520.5L528.1 520.4L528.6 520.3L529.1 520.2L529.6 520.1L530 520.5L530.5 520.9L531 521.3L531.5 521.7L531.9 522.1L532.4 522.5L532.9 522.9L533.4 523.2L533.9 523.1L534.3 523L534.8 522.9L535.3 522.8L535.8 522.7L536.3 522.6L536.7 522.5L537.2 522.5L537.7 522.9L538.2 523.3L538.7 523.7L539.1 524.1L539.6 524.5L540.1 524.9L540.6 525.3L541.1 525.5L541.5 525.3L542 525.2L542.5 525.1L543 525L543.5 524.9L544 524.8L544.4 524.7L544.9 524.9L545.4 525.3L545.9 525.7L546.4 526.1L546.8 526.5L547.3 526.9L547.8 527.3L548.3 527.7L548.8 527.6L549.2 527.5L549.7 527.4L550.2 527.3L550.7 527.2L551.2 527L551.7 526.9L552.1 526.9L552.6 527.3L553.1 527.7L553.6 528.1L554.1 528.4L554.5 528.8L555 529.2L555.5 529.6L556 529.9L556.5 529.7L557 529.6L557.4 529.5L557.9 529.4L558.4 529.3L558.9 529.1L559.4 529L559.8 529.2L560.3 529.6L560.8 529.9L561.3 530.3L561.8 530.7L562.3 531.1L562.7 531.5L563.2 531.9L563.7 531.9L564.2 531.8L564.7 531.7L565.2 531.5L565.6 531.4L566.1 531.3L566.6 531.2L567.1 531L567.6 531.4L568.1 531.8L568.5 532.2L569 532.6L569.5 533L570 533.4L570.5 533.8L571 534L571.4 533.9L571.9 533.8L572.4 533.7L572.9 533.5L573.4 533.4L573.9 533.3L574.3 533.2L574.8 533.2L575.3 533.6L575.8 534L576.3 534.4L576.8 534.8L577.3 535.2L577.7 535.6L578.2 536L578.7 536L579.2 535.9L579.7 535.7L580.2 535.6L580.6 535.5L581.1 535.3L581.6 535.2L582.1 535.1L582.6 535.4L583.1 535.8L583.6 536.2L584 536.6L584.5 537L585 537.3L585.5 537.7L586 538L586.5 537.9L586.9 537.8L587.4 537.6L587.9 537.5L588.4 537.4L588.9 537.2L589.4 537.1L589.9 537.2L590.3 537.6L590.8 537.9L591.3 538.3L591.8 538.7L592.3 539.1L592.8 539.5L593.3 539.9L593.7 539.9L594.2 539.7L594.7 539.6L595.2 539.5L595.7 539.3L596.2 539.2L596.7 539.1L597.1 538.9L597.6 539.3L598.1 539.7L598.6 540L599.1 540.4L599.6 540.8L600.1 541.2L600.5 541.6L601 541.8L601.5 541.7L602 541.5L602.5 541.4L603 541.3L603.5 541.1L604 541L604.4 540.9L604.9 541L605.4 541.4L605.9 541.7L606.4 542.1L606.9 542.5L607.4 542.9L607.8 543.2L608.3 543.6L608.8 543.6L609.3 543.4L609.8 543.3L610.3 543.2L610.8 543L611.3 542.9L611.7 542.7L612.2 542.6L612.7 543L613.2 543.4L613.7 543.8L614.2 544.1L614.7 544.5L615.2 544.9L615.6 545.3L616.1 545.4L616.6 545.3L617.1 545.2L617.6 545L618.1 544.9L618.6 544.7L619.1 544.6L619.5 544.4L620 544.6L620.5 545L621 545.4L621.5 545.8L622 546.1L622.5 546.5L623 546.9L623.4 547.3L623.9 547.1L624.4 547L624.9 546.8L625.4 546.7L625.9 546.5L626.4 546.4L626.9 546.2L627.3 546.2L627.8 546.6L628.3 547L628.8 547.4L629.3 547.7L629.8 548.1L630.3 548.5L630.8 548.8L631.3 548.9L631.7 548.8L632.2 548.6L632.7 548.5L633.2 548.3L633.7 548.2L634.2 548L634.7 547.9L635.2 548.2L635.7 548.5L636.1 548.9L636.6 549.3L637.1 549.7L637.6 550L638.1 550.4L638.6 550.7L639.1 550.5L639.6 550.3L640.1 550.2L640.5 550L641 549.9L641.5 549.7L642 549.6L642.5 549.7L643 550.1L643.5 550.4L644 550.8L644.5 551.2L644.9 551.6L645.4 551.9L645.9 552.3L646.4 552.2L646.9 552.1L647.4 551.9L647.9 551.7L648.4 551.6L648.9 551.4L649.3 551.3L649.8 551.2L650.3 551.6L650.8 552L651.3 552.3L651.8 552.7L652.3 553.1L652.8 553.4L653.3 553.8L653.8 553.9L654.2 553.7L654.7 553.6L655.2 553.4L655.7 553.3L656.2 553.1L656.7 552.9L657.2 552.8L657.7 553.1L658.2 553.4L658.7 553.8L659.1 554.2L659.6 554.5L660.1 554.9L660.6 555.3L661.1 555.5L661.6 555.4L662.1 555.2L662.6 555L663.1 554.9L663.6 554.7L664 554.6L664.5 554.4L665 554.5L665.5 554.9L666 555.3L666.5 555.6L667 556L667.5 556.3L668 556.7L668.5 557.1L669 557L669.4 556.8L669.9 556.6L670.4 556.5L670.9 556.3L671.4 556.2L671.9 556L672.4 556L672.9 556.3L673.4 556.7L673.9 557L674.4 557.4L674.8 557.8L675.3 558.1L675.8 558.5L676.3 558.5L676.8 558.4L677.3 557.9L677.8 558L678.8 553.6L678.3 553.5L677.8 554L677.3 554.1L676.9 554.1L676.4 553.7L675.9 553.4L675.4 553L674.9 552.6L674.4 552.3L673.9 551.9L673.4 551.5L672.9 551.6L672.4 551.8L672 551.9L671.5 552.1L671 552.2L670.5 552.4L670 552.6L669.5 552.7L669 552.3L668.5 551.9L668 551.6L667.6 551.2L667.1 550.8L666.6 550.5L666.1 550.1L665.6 550L665.1 550.2L664.6 550.3L664.1 550.5L663.6 550.6L663.2 550.8L662.7 551L662.2 551.1L661.7 550.9L661.2 550.5L660.7 550.1L660.2 549.8L659.7 549.4L659.2 549L658.8 548.7L658.3 548.4L657.8 548.5L657.3 548.7L656.8 548.9L656.3 549L655.8 549.2L655.3 549.3L654.8 549.5L654.4 549.4L653.9 549L653.4 548.7L652.9 548.3L652.4 547.9L651.9 547.6L651.4 547.2L650.9 546.8L650.4 546.9L650 547L649.5 547.2L649 547.3L648.5 547.5L648 547.7L647.5 547.8L647 547.9L646.5 547.5L646.1 547.2L645.6 546.8L645.1 546.4L644.6 546.1L644.1 545.7L643.6 545.3L643.1 545.2L642.6 545.3L642.2 545.5L641.7 545.6L641.2 545.8L640.7 546L640.2 546.1L639.7 546.3L639.2 546L638.7 545.6L638.3 545.3L637.8 544.9L637.3 544.5L636.8 544.2L636.3 543.8L635.8 543.5L635.3 543.6L634.8 543.8L634.4 543.9L633.9 544.1L633.4 544.2L632.9 544.4L632.4 544.5L631.9 544.5L631.4 544.1L630.9 543.7L630.5 543.3L630 543L629.5 542.6L629 542.2L628.5 541.9L628 541.9L627.5 542L627.1 542.2L626.6 542.3L626.1 542.4L625.6 542.6L625.1 542.7L624.6 542.9L624.1 542.5L623.6 542.1L623.2 541.8L622.7 541.4L622.2 541L621.7 540.6L621.2 540.3L620.7 540.1L620.2 540.2L619.8 540.3L619.3 540.5L618.8 540.6L618.3 540.8L617.8 540.9L617.3 541.1L616.8 540.9L616.4 540.5L615.9 540.1L615.4 539.8L614.9 539.4L614.4 539L613.9 538.6L613.4 538.3L613 538.4L612.5 538.5L612 538.6L611.5 538.8L611 538.9L610.5 539.1L610 539.2L609.6 539.2L609.1 538.9L608.6 538.5L608.1 538.1L607.6 537.7L607.1 537.4L606.6 537L606.2 536.6L605.7 536.5L605.2 536.6L604.7 536.8L604.2 536.9L603.7 537L603.3 537.2L602.8 537.3L602.3 537.5L601.8 537.2L601.3 536.8L600.8 536.4L600.3 536.1L599.9 535.7L599.4 535.3L598.9 534.9L598.4 534.6L597.9 534.7L597.4 534.8L597 535L596.5 535.1L596 535.2L595.5 535.4L595 535.5L594.5 535.5L594.1 535.1L593.6 534.7L593.1 534.4L592.6 534L592.1 533.6L591.6 533.2L591.1 532.8L590.7 532.7L590.2 532.9L589.7 533L589.2 533.1L588.7 533.3L588.2 533.4L587.8 533.5L587.3 533.7L586.8 533.4L586.3 533L585.8 532.6L585.3 532.2L584.9 531.8L584.4 531.5L583.9 531.1L583.4 530.7L582.9 530.9L582.4 531L582 531.1L581.5 531.3L581 531.4L580.5 531.5L580 531.6L579.6 531.6L579.1 531.2L578.6 530.8L578.1 530.4L577.6 530.1L577.1 529.7L576.7 529.3L576.2 528.9L575.7 528.8L575.2 528.9L574.7 529.1L574.2 529.2L573.8 529.3L573.3 529.4L572.8 529.6L572.3 529.7L571.8 529.4L571.4 529L570.9 528.6L570.4 528.2L569.9 527.9L569.4 527.5L568.9 527.1L568.5 526.7L568 526.8L567.5 527L567 527.1L566.5 527.2L566.1 527.3L565.6 527.5L565.1 527.6L564.6 527.6L564.1 527.2L563.7 526.8L563.2 526.4L562.7 526L562.2 525.6L561.7 525.2L561.3 524.8L560.8 524.7L560.3 524.8L559.8 524.9L559.3 525L558.8 525.2L558.4 525.3L557.9 525.4L557.4 525.5L556.9 525.3L556.4 524.9L556 524.5L555.5 524.1L555 523.7L554.5 523.3L554 522.9L553.6 522.5L553.1 522.6L552.6 522.7L552.1 522.8L551.7 523L551.2 523.1L550.7 523.2L550.2 523.3L549.7 523.4L549.3 523L548.8 522.6L548.3 522.2L547.8 521.8L547.3 521.4L546.9 521L546.4 520.6L545.9 520.4L545.4 520.5L544.9 520.6L544.5 520.7L544 520.8L543.5 520.9L543 521L542.6 521.1L542.1 521L541.6 520.6L541.1 520.2L540.6 519.8L540.2 519.4L539.7 519L539.2 518.6L538.7 518.2L538.2 518.2L537.8 518.3L537.3 518.4L536.8 518.5L536.3 518.6L535.9 518.7L535.4 518.8L534.9 518.9L534.4 518.6L534 518.2L533.5 517.8L533 517.4L532.5 517L532 516.6L531.6 516.2L531.1 515.8L530.6 515.9L530.1 516L529.7 516.1L529.2 516.2L528.7 516.3L528.2 516.4L527.8 516.5L527.3 516.6L526.8 516.2L526.3 515.8L525.8 515.4L525.4 515L524.9 514.6L524.4 514.2L523.9 513.8L523.5 513.5L523 513.6L522.5 513.7L522 513.8L521.6 513.9L521.1 514L520.6 514.1L520.1 514.2L519.7 514.1L519.2 513.7L518.7 513.3L518.2 512.9L517.8 512.5L517.3 512.1L516.8 511.7L516.3 511.3L515.9 511.1L515.4 511.2L514.9 511.3L514.4 511.4L514 511.5L513.5 511.6L513 511.7L512.5 511.8L512.1 511.6L511.6 511.2L511.1 510.8L510.7 510.4L510.2 510L509.7 509.5L509.2 509.1L508.8 508.7L508.3 508.7L507.8 508.8L507.3 508.9L506.9 509L506.4 509.1L505.9 509.1L505.4 509.2L505 509.3L504.5 509L504 508.6L503.6 508.2L503.1 507.8L502.6 507.4L502.1 507L501.7 506.5L501.2 506.1L500.7 506.2L500.2 506.3L499.8 506.3L499.3 506.4L498.8 506.5L498.4 506.6L497.9 506.7L497.4 506.8L496.9 506.4L496.5 506L496 505.6L495.5 505.2L495.1 504.7L494.6 504.3L494.1 503.9L493.6 503.5L493.2 503.6L492.7 503.7L492.2 503.8L491.8 503.8L491.3 503.9L490.8 504L490.4 504.1L489.9 504.1L489.4 503.7L488.9 503.3L488.5 502.9L488 502.5L487.5 502.1L487.1 501.6L486.6 501.2L486.1 500.8L485.7 500.9L485.2 501L484.7 501.1L484.3 501.2L483.8 501.2L483.3 501.3L482.8 501.4L482.4 501.4L481.9 501L481.4 500.6L481 500.2L480.5 499.7L480 499.3L479.6 498.9L479.1 498.5L478.6 498.1L478.2 498.2L477.7 498.3L477.2 498.3L476.8 498.4L476.3 498.5L475.8 498.6L475.4 498.6L474.9 498.7L474.4 498.2L474 497.8L473.5 497.4L473 497L472.6 496.5L472.1 496.1L471.6 495.7L471.2 495.3L470.7 495.4L470.2 495.5L469.8 495.5L469.3 495.6L468.8 495.7L468.4 495.7L467.9 495.8L467.4 495.8L467 495.4L466.5 495L466 494.5L465.6 494.1L465.1 493.7L464.6 493.3L464.2 492.8L463.7 492.4L463.2 492.5L462.8 492.6L462.3 492.6L461.9 492.7L461.4 492.8L460.9 492.8L460.5 492.9L460 493L459.5 492.5L459.1 492.1L458.6 491.7L458.1 491.2L457.7 490.8L457.2 490.4L456.8 489.9L456.3 489.5L455.8 489.5L455.4 489.6L454.9 489.6L454.4 489.7L454 489.8L453.5 489.8L453.1 489.9L452.6 489.9L452.1 489.6L451.7 489.1L451.2 488.7L450.7 488.3L450.3 487.8L449.8 487.4L449.4 487L448.9 486.5L448.4 486.5L448 486.5L447.5 486.6L447.1 486.6L446.6 486.7L446.1 486.7L445.7 486.8L445.2 486.8L444.8 486.6L444.3 486.2L443.8 485.7L443.4 485.3L442.9 484.8L442.5 484.4L442 484L441.5 483.5L441.1 483.3L440.6 483.4L440.2 483.4L439.7 483.5L439.2 483.5L438.8 483.6L438.3 483.6L437.9 483.7L437.4 483.5L437 483.1L436.5 482.7L436 482.2L435.6 481.8L435.1 481.3L434.7 480.9L434.2 480.4L433.8 480.1L433.3 480.1L432.8 480.2L432.4 480.2L431.9 480.3L431.5 480.3L431 480.3L430.6 480.4L430.1 480.4L429.7 480L429.2 479.5L428.7 479.1L428.3 478.7L427.8 478.2L427.4 477.8L426.9 477.3L426.5 476.9L426 476.8L425.6 476.8L425.1 476.9L424.7 476.9L424.2 476.9L423.7 477L423.3 477L422.8 477L422.4 476.8L421.9 476.4L421.5 475.9L421 475.5L420.6 475L420.1 474.6L419.7 474.1L419.2 473.7L418.8 473.3L418.3 473.4L417.9 473.4L417.4 473.4L417 473.5L416.5 473.5L416.1 473.5L415.6 473.6L415.1 473.6L414.7 473.1L414.2 472.7L413.8 472.2L413.3 471.8L412.9 471.3L412.4 470.9L412 470.4L411.5 470L411.1 469.8L410.6 469.9L410.2 469.9L409.7 469.9L409.3 469.9L408.9 470L408.4 470L408 470L407.5 469.8L407.1 469.4L406.6 468.9L406.2 468.5L405.7 468L405.3 467.6L404.8 467.1L404.4 466.6L403.9 466.2L403.5 466.2L403 466.2L402.6 466.3L402.1 466.3L401.7 466.3L401.2 466.3L400.8 466.3L400.4 466.3L399.9 466L399.5 465.5L399 465.1L398.6 464.6L398.1 464.2L397.7 463.7L397.2 463.3L396.8 462.8L396.4 462.5L395.9 462.5L395.5 462.5L395 462.5L394.6 462.5L394.1 462.5L393.7 462.5L393.2 462.5L392.8 462.5L392.4 462.1L391.9 461.6L391.5 461.2L391 460.8L390.6 460.3L390.1 459.9L389.7 459.5L389.2 459L388.8 458.8L388.3 458.8L387.9 458.7L387.5 458.7L387 458.7L386.6 458.7L386.1 458.7L385.7 458.6L385.2 458.6L384.8 458.2L384.4 457.7L383.9 457.3L383.5 456.9L383.1 456.4L382.6 456L382.2 455.6L381.7 455.1L381.3 454.9L380.9 454.8L380.4 454.8L380 454.7L379.6 454.7L379.1 454.6L378.7 454.5L378.3 454.5L377.8 454.4L377.4 454L377 453.6L376.5 453.2L376.1 452.7L375.7 452.3L375.2 451.9L374.8 451.5L374.4 451L373.9 450.7L373.5 450.6L373.1 450.6L372.6 450.5L372.2 450.4L371.8 450.3L371.4 450.3L370.9 450.2L370.5 450.1L370.1 449.8L369.6 449.4L369.2 448.9L368.8 448.5L368.4 448.1L367.9 447.7L367.5 447.3L367.1 446.8L366.6 446.4L366.2 446.4L365.8 446.3L365.3 446.2L364.9 446.1L364.5 446L364.1 445.9L363.6 445.8L363.2 445.7L362.8 445.5L362.3 445.1L361.9 444.7L361.5 444.3L361 443.9L360.6 443.5L360.2 443.1L359.8 442.7L359.3 442.3L358.9 442.1L358.5 442L358 441.9L357.6 441.8L357.2 441.6L356.7 441.5L356.3 441.4L355.9 441.3L355.5 441.2L355 440.8L354.6 440.5L354.2 440.1L353.7 439.7L353.3 439.3L352.9 438.9L352.5 438.5L352 438.1L351.6 437.8L351.2 437.6L350.7 437.5L350.3 437.4L349.9 437.2L349.5 437.1L349.1 436.9L348.7 436.8L348.2 436.6L347.8 436.4L347.4 436L347 435.6L346.6 435.2L346.2 434.8L345.7 434.4L345.3 434.1L344.9 433.7L344.5 433.3L344.1 433L343.7 432.8L343.3 432.6L342.8 432.5L342.4 432.3L342 432.2L341.6 432L341.2 431.8L340.8 431.7L340.3 431.4L339.9 431L339.5 430.7L339.1 430.3L338.7 429.9L338.3 429.5L337.8 429.1L337.4 428.8L337 428.4L336.6 428.1L336.2 428L335.8 427.8L335.3 427.6L334.9 427.4L334.5 427.2L334.1 427L333.7 426.9L333.3 426.7L332.8 426.4L332.4 426.1L332 425.7L331.6 425.3L331.2 425L330.8 424.6L330.3 424.3L329.9 423.9L329.5 423.6L329.1 423.3L328.7 423.1L328.3 422.9L327.8 422.7L327.4 422.5L327 422.3L326.6 422.1L326.2 421.9L325.8 421.7L325.3 421.5L324.9 421.1L324.5 420.8L324.1 420.4L323.7 420.1L323.3 419.7L322.9 419.4L322.4 419.1L322 418.7L321.6 418.4L321.2 418.2L320.8 418L320.4 417.7L320 417.5L319.5 417.3L319.1 417.1L318.7 416.8L318.3 416.6L317.9 416.4L317.5 416L317.1 415.7L316.8 415.3L316.4 414.9L316 414.5L315.6 414.2L315.2 413.8L314.9 413.4L314.5 413.1L314.1 412.7L313.7 412.5L313.3 412.2L313 411.9L312.6 411.6L312.2 411.3L311.8 411L311.5 410.7L311.1 410.4L310.7 410.1L310.4 409.7L310 409.4L309.5 409.1L309.1 408.7L308.7 408.4L308.3 408.1L307.9 407.8L307.5 407.5L307.1 407.2L306.7 406.9L306.3 406.6L305.9 406.3L305.5 406.1L305.1 405.8L304.7 405.5L304.3 405.2L304 404.9L303.6 404.6L303.2 404.3L302.8 404L302.4 403.7L302 403.4L301.6 403L301.2 402.7L300.8 402.4L300.5 402.1L300.1 401.7L299.7 401.4L299.3 401.1L299 400.8L298.6 400.4L298.2 400.1L297.8 399.8L297.5 399.5L297.1 399.1L296.7 398.8L296.3 398.5L296 398.1L295.6 397.8L295.2 397.5L294.8 397.2L294.4 396.9L294 396.6L293.6 396.3L293.2 396L292.8 395.8L292.4 395.5L291.9 395.2L291.5 394.9L291.1 394.6L290.7 394.3L290.3 394.1L289.9 393.8L289.5 393.5L289.1 393.2L288.6 392.9L288.2 392.6L287.8 392.4L287.4 392.1L287 391.8L286.6 391.5L286.2 391.2L285.9 390.8L285.5 390.5L285.1 390.2L284.8 389.8L284.4 389.5L284 389.1L283.6 388.8L283.3 388.5L282.9 388.1L282.5 387.8L282.2 387.5L281.8 387.1L281.5 386.8L281.1 386.4L280.7 386.1L280.4 385.8L280 385.4L279.6 385.1L279.3 384.7L278.9 384.4L278.5 384.1L278.1 383.8L277.7 383.5L277.4 383.1L277 382.8L276.6 382.5L276.2 382.2L275.8 381.9L275.4 381.5L275.1 381.2L274.7 380.9L274.3 380.6L273.9 380.3L273.5 379.9L273.2 379.6L272.8 379.3L272.4 379L272 378.6L271.6 378.3L271.3 378L271 377.6L270.6 377.2L270.3 376.9L269.9 376.5L269.6 376.1L269.3 375.8L268.9 375.4L268.6 375L268.2 374.7L267.9 374.3L267.6 373.9L267.2 373.6L266.9 373.2L266.5 372.8L266.2 372.5L265.9 372.1L265.5 371.7L265.2 371.4L264.9 371L264.5 370.6L264.1 370.3L263.8 370L263.4 369.6L263 369.3L262.7 368.9L262.3 368.6L262 368.3L261.6 367.9L261.2 367.6L260.9 367.2L260.5 366.9L260.1 366.6L259.8 366.2L259.4 365.9L259.1 365.5L258.7 365.2L258.3 364.8L258 364.5L257.6 364.1L257.3 363.8L257 363.4L256.6 363L256.3 362.7L256 362.3L255.6 361.9L255.3 361.6L255 361.2L254.6 360.8L254.3 360.4L254 360.1L253.6 359.7L253.3 359.3L253 359L252.6 358.6L252.3 358.2L252 357.8L251.6 357.5L251.3 357.1L251 356.7L250.6 356.4L250.2 356.1L249.9 355.7L249.5 355.4L249.1 355.1L248.8 354.7L248.4 354.4L248 354.1L247.6 353.7L247.3 353.4L246.9 353.1L246.5 352.7L246.1 352.4L245.8 352L245.4 351.7L245 351.4L244.7 351L244.3 350.7L243.9 350.4L243.6 350L243.2 349.6L242.9 349.2L242.6 348.9L242.3 348.5L242 348.1L241.7 347.7L241.4 347.3L241.1 346.9L240.8 346.5L240.4 346.1L240.1 345.7L239.8 345.3L239.5 344.9L239.2 344.6L238.9 344.2L238.6 343.8L238.3 343.4L238 343L237.7 342.6L237.4 342.2L237 341.8L236.7 341.4L236.4 341L236.1 340.7L235.8 340.3L235.5 339.9L235.1 339.5L234.8 339.1L234.5 338.7L234.2 338.3L233.9 338L233.6 337.6L233.3 337.2L232.9 336.8L232.6 336.4L232.3 336L232 335.6L231.7 335.2L231.4 334.9L231.1 334.5L230.8 334.1L230.5 333.7L230.2 333.3L229.9 332.9L229.6 332.5L229.2 332.1L228.9 331.7L228.6 331.3L228.3 330.9L228 330.5L227.7 330.1L227.4 329.7L227.1 329.3L226.8 328.9L226.5 328.5L226.2 328.1L225.9 327.7L225.6 327.3L225.3 327L225 326.6L224.7 326.2L224.4 325.8L224.1 325.4L223.8 325L223.5 324.6L223.2 324.2L222.9 323.8L222.6 323.4L222.3 323L222 322.6L221.7 322.2L221.4 321.8L221.1 321.5L220.8 321.1L220.5 320.7L220.2 320.3L219.8 319.9L219.5 319.5L219.2 319.1L218.9 318.7L218.6 318.3L218.3 317.9L218.1 317.5L217.8 317.1L217.5 316.7L217.2 316.3L216.9 315.9L216.6 315.5L216.3 315.1L216 314.7L215.7 314.3L215.4 313.9L215.1 313.5L214.8 313.1L214.5 312.7L214.2 312.3L213.9 311.9L213.7 311.5L213.4 311.1L213 310.7L212.7 310.3L212.3 309.9L212 309.6L211.7 309.2L211.4 308.8L211.1 308.4L210.8 308.1L210.5 307.7L210.2 307.3L209.9 306.9L209.3 306.6L209 306.2L208.7 305.8L208.4 305.4L208.1 305L207.8 304.7L207.5 304.3L207.2 303.9L207 303.5L206.7 303.1L205.9 302.7L205.7 302.3L205.4 301.9L205.2 301.5L205 301.1L204.8 300.7L204.5 300.3L204.3 299.9L204.1 299.5L203.9 299L203.7 298.6L202.7 298.2L202.5 297.8L202.3 297.4L202.1 297L201.9 296.6L201.6 296.2L201.4 295.8L201.2 295.4L201.1 294.9L200.9 294.5L200.8 294.1L199.7 293.6L199.5 293.2L199.4 292.7L199.2 292.3L199.1 291.8L199 291.4L198.8 291L198.7 290.5L198.6 290.1L198.4 289.6L197.2 289.2L197.1 288.8L196.9 288.3L196.8 287.9L196.7 287.4L196.6 287L196.4 286.5L196.3 286.1L196.1 285.7L195.9 285.3L195.7 284.9L194.3 284.5L194.1 284.1L193.9 283.7L193.8 283.3L193.6 282.9L193.4 282.6L193.2 282.2L193 281.8L192.9 281.4L192.7 281L191.2 280.6L191 280.2L190.8 279.8L190.7 279.4L190.5 279L190.4 278.5L190.2 278.1L190.1 277.7L190 277.3L189.9 276.9L189.8 276.4L188.2 276L188.1 275.6L187.9 275.1L187.8 274.7L187.7 274.3L187.6 273.8L187.5 273.4L187.4 273L187.3 272.6L187.3 272.1L185.6 271.7L185.5 271.3L185.4 270.8L185.3 270.4L185.2 270L185.1 269.5L185 269.1L184.9 268.7L184.8 268.3L184.7 267.8L182.9 267.4L182.8 267L182.7 266.6L182.6 266.1L182.5 265.7L182.5 265.3L182.4 264.9L182.3 264.4L182.2 264L182.1 263.6L182.1 263.1L180.2 262.7L180.1 262.3L180 261.9L179.9 261.4L179.9 261L179.8 260.6L179.8 260.1L179.7 259.7L179.7 259.2L179.6 258.8L177.7 258.4L177.6 257.9L177.6 257.5L177.5 257.1L177.5 256.6L177.4 256.2L177.4 255.7L177.3 255.3L177.3 254.9L177.3 254.4L175.3 254L175.2 253.5L175.2 253.1L175.1 252.7L175.1 252.2L175 251.8L175 251.4L174.9 251L174.8 250.5L174.8 250.1L172.7 249.7L172.6 249.3L172.5 248.8L172.5 248.4L172.4 248L172.4 247.6L172.3 247.2L172.3 246.7L172.2 246.3L172.2 245.9L170 245.5L169.9 245L169.9 244.6L169.9 244.2L169.8 243.7L169.8 243.3L169.8 242.9L169.8 242.4L169.7 242L169.7 241.5L167.5 241.1L167.5 240.7L167.5 240.2L167.5 239.8L167.5 239.3L167.5 238.9L167.5 238.5L167.5 238L167.4 237.6L167.4 237.1L165.2 236.7L165.2 236.2L165.2 235.8L165.2 235.4L165.2 234.9L165.2 234.5L165.2 234L165.2 233.6L165.2 233.1L165.2 232.7L162.9 232.3L162.9 231.8L162.9 231.4L162.9 230.9L162.9 230.5L162.9 230.1L162.9 229.6L162.9 229.2L162.9 228.7L162.9 228.3L160.6 227.8L160.6 227.4L160.6 226.9L160.7 226.5L160.7 226.1L160.7 225.6L160.7 225.1L160.8 224.7L160.8 224.2L160.8 223.8L158.5 223.3L158.5 222.9L158.5 222.4L158.6 222L158.6 221.5L158.6 221.1L158.7 220.6L158.7 220.2L158.7 219.7L158.8 219.3L156.4 218.8L156.4 218.4L156.5 217.9L156.5 217.5L156.6 217L156.6 216.6L156.6 216.1L156.6 215.7L156.7 215.2L154.3 214.8L154.3 214.3L154.4 213.9L154.4 213.4L154.4 213L154.5 212.5L154.5 212.1L154.5 211.6L154.6 211.2L154.6 210.7L152.2 210.3L152.2 209.8L152.3 209.4L152.3 208.9L152.4 208.5L152.4 208L152.5 207.6L152.5 207.1L152.6 206.6L152.6 206.2L150.2 205.7L150.2 205.3L150.3 204.8L150.3 204.4L150.4 203.9L150.4 203.5L150.5 203L150.5 202.6L150.6 202.1L148.1 201.7L148.2 201.2L148.3 200.7L148.3 200.3L148.4 199.8L148.4 199.4L148.5 198.9L148.5 198.5L148.6 198L148.6 197.6L146.2 197.1L146.2 196.6L146.3 196.2L146.4 195.7L146.4 195.3L146.5 194.8L146.5 194.4L146.6 193.9L146.7 193.5L146.7 193L144.3 192.5L144.3 192.1L144.4 191.6L144.5 191.2L144.5 190.7L144.6 190.3L144.7 189.8L144.7 189.3L144.8 188.9L142.3 188.4L142.4 188L142.5 187.5L142.5 187L142.6 186.6L142.7 186.1L142.7 185.7L142.8 185.2L142.9 184.8L142.9 184.3L140.5 183.8L140.6 183.4L140.6 182.9L140.7 182.5L140.8 182L140.8 181.5L140.9 181.1L141 180.6L141 180.2L138.6 179.7L138.7 179.2L138.8 178.8L138.8 178.3L138.9 177.9L139 177.4L139 176.9L139.1 176.5L139.2 176L139.2 175.5L136.9 175.1L136.9 174.6L137 174.2L137.1 173.7L137.1 173.2L137.2 172.8L137.3 172.3L137.3 171.9L137.4 171.4L135.1 170.9L135.1 170.5L135.2 170L135.3 169.5L135.3 169.1L135.4 168.6L135.5 168.1L135.5 167.7L135.6 167.2L135.7 166.8L133.4 166.3L133.4 165.8L133.5 165.4L133.6 164.9L133.6 164.4L133.7 164L133.8 163.5L133.8 163L133.9 162.6L131.6 162.1L131.7 161.6L131.8 161.2L131.8 160.7L131.9 160.3L132 159.8L132 159.3L132.1 158.9L132.2 158.4L132.2 157.9L130 157.5L130.1 157L130.1 156.5L130.2 156.1L130.3 155.6L130.3 155.1L130.4 154.7L130.4 154.2L130.5 153.7L128.3 153.3L128.4 152.8L128.4 152.3L128.5 151.9L128.6 151.4L128.6 150.9L128.7 150.5L128.8 150L128.8 149.5L128.9 149.1L126.7 148.6L126.8 148.1L126.9 147.7L126.9 147.2L127 146.7L127 146.3L127.1 145.8L127.2 145.3L127.2 144.8L125.1 144.4L125.2 143.9L125.2 143.4L125.3 143L125.3 142.5L125.4 142L125.5 141.6L125.5 141.1L125.6 140.6L123.5 140.2L123.6 139.7L123.6 139.2L123.7 138.7L123.7 138.3L123.8 137.8L123.9 137.3L123.9 136.9L124 136.4L124 135.9L122 135.5L122.1 135L122.1 134.5L122.2 134L122.2 133.6L122.3 133.1L122.3 132.6L122.4 132.2L122.5 131.7L120.4 131.2L120.5 130.7L120.6 130.3L120.6 129.8L120.7 129.3L120.7 128.9L120.8 128.4L120.8 127.9L120.9 127.4L118.9 127L119 126.5L119 126L119.1 125.6L119.1 125.1L119.2 124.6L119.3 124.1L119.3 123.7L119.4 123.2L119.4 122.7L117.5 122.3L117.5 121.8L117.6 121.3L117.6 120.8L117.7 120.4L117.8 119.9L117.8 119.4L117.9 118.9L117.9 118.5L116 118L116.1 117.5L116.1 117L116.2 116.6L116.2 116.1L116.3 115.6L116.3 115.2L116.4 114.7L116.4 114.2L114.5 113.7L114.6 113.3L114.7 112.8L114.7 112.3L114.8 111.8L114.8 111.4L114.9 110.9L114.9 110.4L115 109.9L113.1 109.5L113.2 109L113.2 108.5L113.3 108L113.3 107.6L113.4 107.1L113.4 106.6L113.5 106.1L113.5 105.7L113.6 105.2L111.7 104.7L111.8 104.2L111.9 103.8L111.9 103.3L112 102.8L112 102.3L112.1 101.9L112.1 101.4L112.2 100.9L110.4 100.4L110.4 99.9L110.5 99.5L110.5 99L110.6 98.5L110.6 98L110.7 97.6L110.7 97.1L110.8 96.6L109 96.1L109 95.7L109.1 95.2L109.1 94.7L109.2 94.2L109.2 93.8L109.3 93.3L109.4 92.8L109.4 92.3L107.6 91.8L107.7 91.4L107.7 90.9L107.8 90.4L107.8 89.9L107.9 89.5L107.9 89L108 88.5L108 88L106.3 87.5L106.4 87.1L106.4 86.6L106.5 86.1L106.5 85.6L106.6 85.2L106.6 84.7L106.7 84.2L106.7 83.7L106.8 83.2L105 82.8L105.1 82.3L105.1 81.8L105.2 81.3L105.2 80.8L105.3 80.4L105.3 79.9L105.4 79.4L105.4 78.9L103.8 78.5L103.8 78L103.9 77.5L103.9 77L103.9 76.5L104 76.1L104 75.6L104.1 75.1L104.1 74.6L102.5 74.1L102.5 73.7L102.6 73.2L102.6 72.7L102.7 72.2L102.7 71.7L102.8 71.3L102.8 70.8L102.9 70.3L101.2 69.8L101.3 69.3L101.3 68.9L101.4 68.4L101.4 67.8L101.4 67.3L101.5 66.9L101.5 66.4L101.6 65.9L99.7 65.4L99.8 65L99.8 64.5L99.9 64L99.9 63.5L100 63.1L100 62.6L100.1 62.1L100.1 61.6L100.2 61.2L98.3 60.7L98.4 60.2L98.4 59.7L98.5 59.3L98.6 58.8L98.6 58.3L98.7 57.8L98.7 57.4L98.8 56.9L96.9 56.4L97 55.9L97 55.5L97.1 55L97.2 54.5L97.2 54L97.3 53.6L97.3 53.1L97.4 52.6L95.6 52.1L95.6 51.6L95.7 51.2L95.7 50.7L95.8 50.2L95.8 49.7L95.9 49.3L95.9 48.8L96 48.3L94.2 47.8L94.3 47.4L94.3 46.9L94.4 46.4L94.4 45.9L94.5 45.4L94.5 45L94.6 44.5L94.6 44L92.9 43.5L92.9 43.1L93 42.6L93 42.1L93.1 41.6L93.1 41.1L93.2 40.7L93.2 40.2L93.3 39.7L93.3 39.2L91.6 38.8L91.7 38.3L91.7 37.8L91.8 37.3L91.8 36.8L91.9 36.4L91.9 35.9L92 35.4L92 34.9L90.3 34.4L90.4 34L90.4 33.5L90.5 33L90.5 32.5L90.6 32L90.6 31.6L90.7 31.1L90.7 30.6L89 30.1L89.1 29.6L89.1 29.2L89.2 28.7L89.2 28.2L89.3 27.7L89.3 27.3L89.4 26.8L89.4 26.3L87.8 25.8L87.8 25.3L87.9 24.8L87.9 24.4L88 23.9L88 23.4L88.1 22.9L88.1 22.4L88.2 22L86.6 21.5L86.6 21L86.7 20.5L86.9 20L86.8 19.6Z" fill="#12a3e6"/>
<circle cx="84.3" cy="20.2" r="2.4" fill="#12a3e6"/><circle cx="678.3" cy="555.8" r="2.4" fill="#12a3e6"/>
<line x1="85.3" y1="12.6" x2="85.3" y2="20.2" stroke="#12a3e6" stroke-width="4.8" stroke-linecap="round"/>
<path d="M106.7 11.8L106.8 12.3L106.8 12.7L106.8 13.2L106.7 13.7L106.7 14.2L108.5 14.6L108.5 15.1L108.4 15.6L108.4 16.1L108.3 16.6L108.3 17L108.2 17.5L108.1 18L108.1 18.5L108 18.9L109.9 19.4L109.8 19.9L109.8 20.4L109.7 20.8L109.7 21.3L109.6 21.8L109.6 22.3L109.5 22.7L109.5 23.2L111.4 23.7L111.3 24.2L111.3 24.7L111.2 25.1L111.1 25.6L111.1 26.1L111 26.6L111 27L110.9 27.5L112.8 28L112.8 28.5L112.7 28.9L112.7 29.4L112.6 29.9L112.6 30.4L112.5 30.8L112.5 31.3L112.4 31.8L114.4 32.3L114.3 32.7L114.2 33.2L114.2 33.7L114.1 34.2L114.1 34.6L114 35.1L114 35.6L113.9 36.1L113.8 36.5L115.8 37L115.8 37.5L115.7 38L115.7 38.4L115.6 38.9L115.5 39.4L115.5 39.8L115.4 40.3L115.4 40.8L117.4 41.3L117.3 41.7L117.3 42.2L117.2 42.7L117.2 43.2L117.1 43.6L117 44.1L117 44.6L116.9 45.1L119 45.5L118.9 46L118.8 46.5L118.8 46.9L118.7 47.4L118.7 47.9L118.6 48.4L118.6 48.8L118.5 49.3L118.4 49.8L120.5 50.2L120.5 50.7L120.4 51.2L120.3 51.7L120.3 52.1L120.2 52.6L120.2 53.1L120.1 53.5L120 54L122.1 54.5L122.1 55L122 55.4L122 55.9L121.9 56.4L121.8 56.8L121.8 57.3L121.7 57.8L121.7 58.3L123.8 58.7L123.7 59.2L123.7 59.7L123.6 60.1L123.6 60.6L123.5 61.1L123.4 61.5L123.4 62L123.3 62.5L123.3 62.9L125.4 63.4L125.4 63.9L125.3 64.4L125.2 64.8L125.2 65.3L125.1 65.8L125.1 66.2L125 66.7L124.9 67.2L127.1 67.6L127.1 68.1L127 68.6L126.9 69L126.8 69.4L126.8 69.9L126.7 70.4L126.7 70.8L126.6 71.3L126.6 71.8L128.5 72.3L128.4 72.7L128.4 73.2L128.3 73.7L128.3 74.2L128.2 74.6L128.1 75.1L128.1 75.6L128 76.1L130 76.5L129.9 77L129.9 77.5L129.8 78L129.8 78.4L129.7 78.9L129.7 79.4L129.6 79.9L129.5 80.3L131.5 80.8L131.5 81.3L131.4 81.8L131.4 82.2L131.3 82.7L131.2 83.2L131.2 83.6L131.1 84.1L131.1 84.6L133.1 85.1L133 85.5L133 86L132.9 86.5L132.8 87L132.8 87.4L132.7 87.9L132.7 88.4L132.6 88.9L132.6 89.3L134.6 89.8L134.5 90.3L134.5 90.7L134.4 91.2L134.4 91.7L134.3 92.2L134.2 92.6L134.2 93.1L134.1 93.6L136.2 94L136.1 94.5L136.1 95L136 95.5L136 95.9L135.9 96.4L135.8 96.9L135.8 97.3L135.7 97.8L137.8 98.3L137.8 98.8L137.7 99.2L137.6 99.7L137.6 100.2L137.5 100.6L137.5 101.1L137.4 101.6L137.3 102.1L137.3 102.5L139.4 103L139.3 103.5L139.3 103.9L139.2 104.4L139.2 104.9L139.1 105.3L139 105.8L139 106.3L138.9 106.8L141.1 107.2L141 107.7L141 108.2L140.9 108.6L140.8 109.1L140.8 109.6L140.7 110L140.7 110.5L140.6 111L140.5 111.4L142.7 111.9L142.7 112.4L142.6 112.9L142.5 113.3L142.5 113.8L142.4 114.3L142.3 114.7L142.3 115.2L142.2 115.7L144.4 116.1L144.4 116.6L144.3 117.1L144.3 117.5L144.2 118L144.1 118.5L144.1 118.9L144 119.4L143.9 119.9L146.2 120.3L146.1 120.8L146.1 121.3L146 121.7L145.9 122.2L145.9 122.7L145.8 123.1L145.8 123.6L145.7 124.1L145.6 124.5L147.9 125L147.9 125.5L147.8 125.9L147.7 126.4L147.7 126.9L147.6 127.3L147.5 127.8L147.5 128.3L147.4 128.7L149.7 129.2L149.7 129.7L149.6 130.1L149.5 130.6L149.5 131L149.4 131.5L149.3 132L149.3 132.4L149.2 132.9L149.1 133.4L151.5 133.8L151.4 134.3L151.4 134.8L151.3 135.2L151.2 135.7L151.2 136.2L151.1 136.6L151 137.1L151 137.5L153.4 138L153.3 138.5L153.2 138.9L153.2 139.4L153.1 139.9L153 140.3L153 140.8L152.9 141.2L152.8 141.7L152.8 142.2L155.2 142.6L155.1 143.1L155.1 143.6L155 144L154.9 144.5L154.9 144.9L154.8 145.4L154.7 145.9L154.7 146.3L154.6 146.8L157.1 147.2L157 147.7L156.9 148.2L156.9 148.6L156.8 149.1L156.7 149.5L156.7 150L156.6 150.5L156.5 150.9L159 151.4L158.9 151.8L158.9 152.3L158.8 152.8L158.8 153.2L158.7 153.7L158.6 154.1L158.6 154.6L158.5 155.1L158.5 155.5L160.9 156L160.9 156.4L160.8 156.9L160.7 157.3L160.7 157.8L160.6 158.3L160.6 158.7L160.5 159.2L160.5 159.6L162.9 160.1L162.9 160.6L162.8 161L162.8 161.5L162.7 161.9L162.7 162.4L162.6 162.8L162.6 163.3L162.5 163.7L162.5 164.2L164.9 164.7L164.8 165.1L164.8 165.6L164.8 166L164.7 166.5L164.7 166.9L164.6 167.4L164.6 167.8L164.5 168.3L164.5 168.8L166.9 169.2L166.9 169.7L166.8 170.1L166.8 170.6L166.8 171L166.7 171.5L166.7 171.9L166.6 172.4L166.6 172.8L169 173.3L169 173.8L168.9 174.2L168.9 174.7L168.8 175.1L168.8 175.6L168.8 176L168.7 176.5L168.7 176.9L168.7 177.4L171 177.8L171 178.3L171 178.7L170.9 179.2L170.9 179.7L170.9 180.1L170.9 180.6L170.8 181L170.8 181.5L170.8 181.9L173.1 182.4L173.1 182.8L173.1 183.3L173 183.7L173 184.2L173 184.6L173 185.1L173 185.5L172.9 186L172.9 186.4L175.2 186.9L175.2 187.3L175.2 187.8L175.2 188.2L175.2 188.7L175.1 189.1L175.1 189.6L175.1 190L175.1 190.5L175.1 190.9L177.4 191.4L177.4 191.8L177.4 192.3L177.4 192.7L177.4 193.2L177.4 193.6L177.4 194.1L177.4 194.5L177.4 194.9L179.7 195.4L179.7 195.8L179.7 196.3L179.7 196.7L179.7 197.2L179.7 197.6L179.7 198.1L179.7 198.5L179.7 198.9L179.7 199.4L182 199.8L182 200.3L182 200.7L182 201.2L182 201.6L182 202.1L182 202.5L182 203L182 203.4L182 203.9L184.2 204.3L184.2 204.7L184.3 205.2L184.3 205.6L184.3 206.1L184.3 206.5L184.3 207L184.3 207.4L184.4 207.9L184.4 208.3L186.5 208.7L186.5 209.2L186.6 209.6L186.6 210.1L186.6 210.5L186.6 211L186.6 211.4L186.7 211.9L186.7 212.3L186.7 212.7L188.8 213.2L188.9 213.6L188.9 214.1L188.9 214.5L188.9 215L189 215.4L189 215.9L189.1 216.3L189.1 216.7L189.2 217.2L191.2 217.6L191.3 218L191.3 218.5L191.4 218.9L191.4 219.3L191.5 219.8L191.6 220.2L191.6 220.6L191.7 221.1L191.8 221.5L193.8 221.9L193.8 222.3L193.9 222.8L194 223.2L194 223.6L194.1 224.1L194.2 224.5L194.2 224.9L194.3 225.4L194.4 225.8L194.5 226.2L196.4 226.7L196.5 227.1L196.5 227.5L196.6 228L196.7 228.4L196.7 228.8L196.8 229.3L196.9 229.7L197 230.1L197.1 230.6L198.9 231L199 231.4L199.1 231.9L199.2 232.3L199.3 232.7L199.3 233.1L199.4 233.6L199.5 234L199.6 234.4L199.7 234.9L201.5 235.3L201.6 235.7L201.7 236.1L201.8 236.6L201.9 237L202 237.4L202.1 237.8L202.2 238.3L202.4 238.7L202.5 239.1L204.2 239.6L204.3 240L204.4 240.4L204.5 240.8L204.6 241.2L204.7 241.7L204.9 242.1L205 242.5L205.1 242.9L205.3 243.3L205.4 243.8L207 244.2L207.2 244.6L207.3 245L207.5 245.4L207.6 245.8L207.7 246.3L207.9 246.7L208 247.1L208.2 247.5L208.4 247.9L209.9 248.3L210 248.7L210.2 249.2L210.3 249.6L210.5 250L210.6 250.4L210.7 250.8L210.9 251.3L211 251.7L211.1 252.2L212.5 252.6L212.6 253L212.8 253.5L212.9 253.9L213 254.3L213.2 254.8L213.3 255.2L213.4 255.7L213.6 256.1L213.7 256.5L213.9 257L215.1 257.4L215.3 257.9L215.4 258.3L215.5 258.7L215.7 259.1L216 259.5L216.2 259.9L216.4 260.3L216.6 260.7L216.8 261.1L217.1 261.5L218.2 261.9L218.5 262.3L218.7 262.7L218.9 263.1L219.1 263.5L219.4 263.9L219.6 264.3L219.8 264.6L220.1 265L220.3 265.4L221.4 265.8L221.6 266.2L221.9 266.6L222.1 267L222.2 267.5L222.4 267.9L222.6 268.3L222.8 268.8L223 269.2L223.2 269.6L223.4 270.1L224.2 270.5L224.4 270.9L224.6 271.4L224.8 271.8L225 272.2L225.2 272.7L225.4 273.1L225.6 273.5L225.9 274L226.1 274.4L226.3 274.8L227 275.3L227.2 275.7L227.5 276.1L227.7 276.5L228 276.9L228.3 277.3L228.5 277.7L228.8 278.1L229.1 278.5L229.4 278.9L229.7 279.3L230.2 279.7L230.5 280.1L230.8 280.5L231.1 280.9L231.4 281.3L231.6 281.6L231.9 282L232.2 282.4L232.5 282.8L232.9 283.2L233.1 283.6L233.5 284.1L233.7 284.5L234 284.9L234.3 285.3L234.6 285.7L234.9 286.1L235.2 286.6L235.4 287L235.7 287.4L236 287.8L236.3 288.2L236.6 288.6L236.9 289L237.2 289.4L237.4 289.9L237.7 290.3L238 290.7L238.3 291.1L238.6 291.5L238.9 291.9L239.3 292.3L239.6 292.7L239.9 293L240.2 293.4L240.6 293.8L240.9 294.2L241.2 294.6L241.6 294.9L241.9 295.3L242.2 295.7L242.5 296.1L242.9 296.5L243.2 296.8L243.5 297.2L243.9 297.6L244.2 298L244.5 298.4L244.9 298.7L245.2 299.1L245.5 299.5L245.8 299.9L246.2 300.3L246.5 300.6L246.8 301L247.2 301.4L247.5 301.8L247.8 302.2L248.1 302.5L248.5 302.9L248.8 303.3L249.1 303.7L249.5 304L249.8 304.4L250.1 304.8L250.5 305.2L250.8 305.6L251.1 305.9L251.5 306.3L251.8 306.7L252.1 307.1L252.4 307.5L252.7 307.9L253 308.3L253.3 308.7L253.6 309.1L253.9 309.5L254.2 309.9L254.5 310.3L254.8 310.7L255.2 311.1L255.5 311.5L255.8 311.9L256.1 312.3L256.4 312.7L256.7 313.1L257 313.5L257.3 313.8L257.6 314.2L257.9 314.6L258.3 315L258.6 315.4L259 315.7L259.3 316.1L259.7 316.5L260 316.8L260.3 317.2L260.7 317.6L261 317.9L261.4 318.3L261.7 318.7L262.1 319L262.4 319.4L262.8 319.8L263.1 320.1L263.5 320.5L263.8 320.8L264.2 321.2L264.5 321.6L264.9 321.9L265.2 322.3L265.5 322.7L265.9 323.1L266.2 323.4L266.5 323.8L266.9 324.2L267.2 324.6L267.5 324.9L267.9 325.3L268.2 325.7L268.5 326.1L268.9 326.4L269.2 326.8L269.5 327.2L269.9 327.6L270.2 327.9L270.5 328.3L270.9 328.7L271.2 329.1L271.5 329.4L271.9 329.8L272.2 330.2L272.6 330.5L272.9 330.9L273.2 331.3L273.6 331.6L273.9 332L274.3 332.4L274.6 332.7L275 333.1L275.3 333.5L275.6 333.8L276 334.2L276.3 334.6L276.7 334.9L277 335.3L277.4 335.7L277.7 336L278.1 336.4L278.4 336.8L278.8 337.1L279.1 337.5L279.5 337.8L279.8 338.2L280.2 338.5L280.5 338.9L280.9 339.3L281.2 339.6L281.6 340L282 340.3L282.3 340.7L282.7 341L283 341.4L283.4 341.7L283.7 342.1L284.1 342.4L284.5 342.8L284.8 343.1L285.2 343.5L285.5 343.8L285.9 344.2L286.3 344.5L286.6 344.9L287 345.2L287.3 345.6L287.7 345.9L288.1 346.3L288.4 346.6L288.8 347L289.1 347.3L289.5 347.7L289.9 348L290.2 348.4L290.6 348.7L290.9 349.1L291.3 349.4L291.7 349.8L292 350.1L292.4 350.5L292.8 350.8L293.1 351.2L293.5 351.5L293.9 351.8L294.3 352.2L294.6 352.5L295 352.8L295.4 353.2L295.8 353.5L296.1 353.8L296.5 354.2L296.9 354.5L297.3 354.8L297.6 355.2L298 355.5L298.4 355.8L298.8 356.2L299.1 356.5L299.5 356.8L299.9 357.2L300.3 357.5L300.6 357.8L301 358.2L301.4 358.5L301.7 358.9L302.1 359.2L302.5 359.6L302.8 359.9L303.2 360.3L303.5 360.6L303.9 361L304.3 361.3L304.6 361.6L305 362L305.4 362.3L305.7 362.7L306.1 363L306.5 363.4L306.8 363.7L307.2 364L307.6 364.4L308 364.7L308.4 365L308.8 365.3L309.2 365.6L309.6 365.9L310 366.2L310.4 366.5L310.8 366.8L311.2 367.1L311.6 367.4L312 367.7L312.4 368L312.8 368.3L313.2 368.6L313.6 368.9L314 369.2L314.5 369.5L314.9 369.8L315.3 370.1L315.7 370.4L316 370.7L316.4 371.1L316.7 371.4L317.1 371.8L317.5 372.1L317.8 372.5L318.2 372.8L318.5 373.2L318.9 373.5L319.3 373.9L319.6 374.3L320 374.6L320.3 375L320.7 375.3L321.1 375.7L321.4 376L321.8 376.4L322.2 376.7L322.5 377.1L322.9 377.4L323.3 377.7L323.7 378L324.1 378.3L324.5 378.6L324.9 378.9L325.3 379.2L325.7 379.5L326.1 379.8L326.5 380.1L326.9 380.4L327.3 380.7L327.7 381L328.1 381.3L328.5 381.6L328.9 381.9L329.3 382.2L329.7 382.5L330.2 382.8L330.6 383.1L331 383.4L331.3 383.7L331.7 384L332.1 384.4L332.4 384.7L332.8 385L333.2 385.4L333.5 385.8L333.9 386.1L334.3 386.5L334.7 386.8L335 387.2L335.4 387.6L335.8 387.9L336.1 388.3L336.5 388.6L336.9 388.9L337.3 389.2L337.6 389.5L338 389.8L338.4 390.1L338.8 390.4L339.2 390.7L339.6 390.9L340 391.3L340.4 391.6L340.8 391.9L341.2 392.3L341.6 392.6L342 392.9L342.4 393.3L342.8 393.6L343.2 394L343.6 394.3L344 394.5L344.4 394.8L344.8 395L345.2 395.3L345.7 395.5L346.1 395.8L346.5 396L346.9 396.2L347.3 396.5L347.8 396.8L348.2 397.1L348.6 397.4L349.1 397.7L349.5 398L350 398.3L350.4 398.6L350.8 398.9L351.3 399.2L351.7 399.4L352.1 399.6L352.6 399.8L353 400L353.4 400.2L353.9 400.4L354.3 400.6L354.7 400.8L355.2 401L355.6 401.3L356 401.7L356.3 402.1L356.7 402.5L357.1 402.9L357.5 403.3L357.9 403.6L358.3 404L358.7 404.4L359.1 404.7L359.5 404.9L359.9 405.1L360.3 405.4L360.7 405.6L361.1 405.8L361.5 406L361.9 406.2L362.3 406.5L362.7 406.8L363.1 407.2L363.5 407.6L363.9 407.9L364.4 408.3L364.8 408.7L365.2 409L365.6 409.4L366 409.8L366.5 410L366.9 410.2L367.3 410.4L367.7 410.6L368.1 410.7L368.6 410.9L369 411.1L369.4 411.3L369.8 411.4L370.2 411.7L370.7 412.1L371.1 412.5L371.5 412.9L371.9 413.2L372.4 413.6L372.8 414L373.2 414.4L373.6 414.7L374.1 415L374.5 415.1L374.9 415.3L375.3 415.4L375.8 415.6L376.2 415.7L376.6 415.9L377.1 416L377.5 416.1L377.9 416.5L378.3 416.9L378.8 417.2L379.2 417.6L379.6 418L380.1 418.4L380.5 418.8L380.9 419.2L381.3 419.6L381.7 419.8L382.1 419.9L382.6 420.1L383 420.2L383.4 420.4L383.8 420.5L384.2 420.7L384.7 420.8L385.1 421L385.5 421.4L385.9 421.8L386.3 422.2L386.8 422.6L387.2 423L387.6 423.4L388 423.8L388.5 424.3L388.9 424.6L389.3 424.7L389.8 424.8L390.2 424.9L390.6 425L391.1 425.1L391.5 425.2L391.9 425.3L392.4 425.4L392.8 425.7L393.2 426.1L393.7 426.5L394.1 426.9L394.5 427.3L395 427.7L395.4 428.1L395.8 428.5L396.3 428.9L396.7 429L397.2 429.1L397.6 429.2L398 429.3L398.5 429.4L398.9 429.5L399.3 429.6L399.8 429.6L400.2 429.8L400.6 430.2L401.1 430.6L401.5 431L402 431.4L402.4 431.8L402.8 432.3L403.3 432.7L403.7 433.1L404.2 433.3L404.6 433.4L405 433.5L405.5 433.5L405.9 433.6L406.3 433.7L406.8 433.8L407.2 433.8L407.6 433.9L408.1 434.3L408.5 434.7L408.9 435.2L409.4 435.6L409.8 436L410.2 436.5L410.7 436.9L411.1 437.3L411.6 437.6L412 437.7L412.4 437.8L412.9 437.8L413.3 437.9L413.7 438L414.2 438L414.6 438.1L415.1 438.1L415.5 438.5L415.9 438.9L416.4 439.3L416.8 439.8L417.3 440.2L417.7 440.6L418.1 441.1L418.6 441.5L419 441.8L419.5 441.9L419.9 441.9L420.4 441.9L420.8 442L421.2 442L421.7 442L422.1 442.1L422.6 442.1L423 442.5L423.5 442.9L423.9 443.3L424.3 443.8L424.8 444.2L425.2 444.7L425.7 445.1L426.1 445.5L426.6 445.9L427 445.9L427.5 445.9L427.9 445.9L428.3 445.9L428.8 445.9L429.2 446L429.7 446L430.1 446L430.6 446.4L431 446.8L431.5 447.3L431.9 447.7L432.4 448.2L432.8 448.6L433.3 449.1L433.7 449.5L434.2 449.7L434.6 449.8L435.1 449.8L435.5 449.8L436 449.7L436.4 449.7L436.9 449.7L437.3 449.7L437.8 449.8L438.2 450.2L438.7 450.7L439.1 451.1L439.6 451.6L440 452L440.5 452.5L440.9 452.9L441.4 453.4L441.8 453.5L442.3 453.5L442.7 453.5L443.2 453.5L443.6 453.5L444.1 453.4L444.5 453.4L445 453.4L445.4 453.6L445.9 454L446.3 454.5L446.8 454.9L447.2 455.4L447.7 455.8L448.1 456.3L448.6 456.8L449 457.2L449.5 457.2L449.9 457.1L450.4 457.1L450.8 457.1L451.3 457.1L451.7 457L452.2 457L452.7 457L453.1 457.3L453.6 457.8L454 458.2L454.5 458.7L454.9 459.1L455.4 459.6L455.8 460L456.3 460.5L456.7 460.7L457.2 460.7L457.7 460.7L458.1 460.6L458.6 460.6L459 460.6L459.5 460.5L459.9 460.5L460.4 460.6L460.8 461L461.3 461.5L461.8 461.9L462.2 462.4L462.7 462.8L463.1 463.3L463.6 463.7L464 464.2L464.5 464.1L465 464.1L465.4 464.1L465.9 464L466.3 464L466.8 464L467.2 463.9L467.7 463.9L468.2 464.2L468.6 464.7L469.1 465.1L469.5 465.5L470 466L470.5 466.4L470.9 466.9L471.4 467.3L471.8 467.5L472.3 467.5L472.8 467.4L473.2 467.4L473.7 467.3L474.1 467.3L474.6 467.2L475 467.2L475.5 467.3L476 467.8L476.4 468.2L476.9 468.7L477.4 469.1L477.8 469.6L478.3 470L478.7 470.4L479.2 470.8L479.7 470.7L480.1 470.7L480.6 470.6L481 470.6L481.5 470.5L482 470.5L482.4 470.4L482.9 470.4L483.4 470.9L483.8 471.3L484.3 471.7L484.7 472.2L485.2 472.6L485.7 473L486.1 473.5L486.6 473.9L487.1 473.9L487.5 473.9L488 473.8L488.4 473.7L488.9 473.7L489.4 473.6L489.8 473.6L490.3 473.5L490.8 473.9L491.2 474.3L491.7 474.7L492.2 475.2L492.6 475.6L493.1 476.1L493.5 476.5L494 476.9L494.5 477L494.9 476.9L495.4 476.9L495.9 476.8L496.3 476.8L496.8 476.7L497.3 476.6L497.7 476.6L498.2 476.8L498.7 477.3L499.1 477.7L499.6 478.1L500.1 478.6L500.5 479L501 479.4L501.5 479.9L501.9 480L502.4 480L502.9 479.9L503.3 479.8L503.8 479.8L504.3 479.7L504.7 479.6L505.2 479.6L505.7 479.8L506.1 480.2L506.6 480.6L507.1 481L507.5 481.5L508 481.9L508.5 482.3L508.9 482.8L509.4 483L509.9 482.9L510.3 482.8L510.8 482.8L511.3 482.7L511.7 482.6L512.2 482.5L512.7 482.5L513.1 482.6L513.6 483L514.1 483.5L514.6 483.9L515 484.3L515.5 484.7L516 485.2L516.4 485.6L516.9 485.8L517.4 485.8L517.8 485.7L518.3 485.6L518.8 485.5L519.2 485.5L519.7 485.4L520.2 485.3L520.7 485.4L521.1 485.9L521.6 486.3L522.1 486.7L522.5 487.1L523 487.5L523.5 488L523.9 488.4L524.4 488.6L524.9 488.5L525.4 488.5L525.8 488.4L526.3 488.3L526.8 488.2L527.2 488.1L527.7 488.1L528.2 488.2L528.7 488.6L529.1 489L529.6 489.5L530.1 489.9L530.5 490.3L531 490.7L531.5 491.1L532 491.3L532.4 491.2L532.9 491.2L533.4 491.1L533.8 491L534.3 490.9L534.8 490.8L535.3 490.7L535.7 490.9L536.2 491.3L536.7 491.7L537.2 492.2L537.6 492.6L538.1 493L538.6 493.4L539 493.8L539.5 494L540 493.9L540.5 493.8L540.9 493.7L541.4 493.6L541.9 493.5L542.4 493.5L542.8 493.4L543.3 493.6L543.8 494L544.3 494.4L544.7 494.8L545.2 495.2L545.7 495.7L546.2 496.1L546.6 496.5L547.1 496.6L547.6 496.5L548.1 496.4L548.5 496.3L549 496.2L549.5 496.1L550 496L550.4 495.9L550.9 496.2L551.4 496.6L551.9 497L552.3 497.4L552.8 497.9L553.3 498.3L553.8 498.7L554.2 499.1L554.7 499.1L555.2 499L555.7 498.9L556.1 498.8L556.6 498.7L557.1 498.6L557.6 498.5L558 498.4L558.5 498.8L559 499.2L559.5 499.6L559.9 500L560.4 500.4L560.9 500.8L561.4 501.2L561.8 501.6L562.3 501.5L562.8 501.4L563.3 501.3L563.8 501.2L564.2 501.1L564.7 501L565.2 500.9L565.7 500.9L566.1 501.3L566.6 501.7L567.1 502.1L567.6 502.5L568 502.9L568.5 503.3L569 503.8L569.5 504L570 503.9L570.4 503.8L570.9 503.7L571.4 503.6L571.9 503.5L572.3 503.4L572.8 503.3L573.3 503.4L573.8 503.8L574.3 504.2L574.7 504.6L575.2 505L575.7 505.4L576.2 505.8L576.6 506.2L577.1 506.3L577.6 506.2L578.1 506.1L578.6 506L579 505.9L579.5 505.8L580 505.7L580.5 505.6L581 505.9L581.4 506.3L581.9 506.7L582.4 507.1L582.9 507.5L583.4 507.9L583.8 508.3L584.3 508.7L584.8 508.6L585.3 508.5L585.8 508.4L586.2 508.3L586.7 508.2L587.2 508.1L587.7 507.9L588.1 507.9L588.6 508.3L589.1 508.7L589.6 509.1L590.1 509.5L590.5 509.9L591 510.3L591.5 510.7L592 510.9L592.5 510.8L593 510.7L593.4 510.6L593.9 510.5L594.4 510.4L594.9 510.3L595.4 510.1L595.8 510.2L596.3 510.6L596.8 511L597.3 511.4L597.8 511.8L598.2 512.2L598.7 512.6L599.2 513L599.7 513.1L600.2 513L600.6 512.9L601.1 512.7L601.6 512.6L602.1 512.5L602.6 512.4L603.1 512.3L603.5 512.6L604 513L604.5 513.4L605 513.7L605.5 514.1L605.9 514.5L606.4 514.9L606.9 515.3L607.4 515.2L607.9 515.1L608.4 515L608.8 514.8L609.3 514.7L609.8 514.6L610.3 514.5L610.8 514.5L611.2 514.9L611.7 515.2L612.2 515.6L612.7 516L613.2 516.4L613.7 516.8L614.1 517.2L614.6 517.4L615.1 517.3L615.6 517.1L616.1 517L616.6 516.9L617 516.8L617.5 516.6L618 516.5L618.5 516.7L619 517.1L619.4 517.5L619.9 517.9L620.4 518.3L620.9 518.7L621.4 519.1L621.9 519.4L622.3 519.4L622.8 519.3L623.3 519.1L623.8 519L624.3 518.9L624.8 518.8L625.2 518.6L625.7 518.6L626.2 518.9L626.7 519.3L627.2 519.7L627.7 520.1L628.2 520.5L628.6 520.9L629.1 521.3L629.6 521.5L630.1 521.4L630.6 521.2L631.1 521.1L631.5 521L632 520.8L632.5 520.7L633 520.6L633.5 520.7L634 521.1L634.4 521.5L634.9 521.9L635.4 522.3L635.9 522.7L636.4 523L636.9 523.4L637.4 523.4L637.8 523.3L638.3 523.1L638.8 523L639.3 522.9L639.8 522.7L640.3 522.6L640.7 522.5L641.2 522.9L641.7 523.3L642.2 523.7L642.7 524L643.2 524.4L643.7 524.8L644.1 525.2L644.6 525.4L645.1 525.3L645.6 525.1L646.1 525L646.6 524.9L647.1 524.7L647.5 524.6L648 524.5L648.5 524.6L649 525L649.5 525.4L650 525.8L650.5 526.1L650.9 526.5L651.4 526.9L651.9 527.3L652.4 527.2L652.9 527.1L653.4 527L653.9 526.8L654.3 526.7L654.8 526.5L655.3 526.4L655.8 526.3L656.3 526.7L656.8 527.1L657.3 527.5L657.7 527.8L658.2 528.2L658.7 528.6L659.2 529L659.7 529.2L660.2 529L660.7 528.9L661.1 528.7L661.6 528.6L662.1 528.5L662.6 528.3L663.1 528.2L663.6 528.4L664.1 528.8L664.6 529.1L665 529.5L665.5 529.9L666 530.3L666.5 530.6L667 531L667.5 530.9L668 530.8L668.4 530.6L668.9 530.5L669.4 530.3L669.9 530.2L670.4 530L670.9 530L671.4 530.4L671.9 530.8L672.3 531.1L672.8 531.5L673.3 531.9L673.8 532.3L674.3 532.6L674.8 532.7L675.3 532.6L675.8 532.5L676.2 532.3L676.7 532.2L677.2 532.5L677.7 532.6L678.9 528.2L678.4 528.1L677.9 527.8L677.4 527.9L676.9 528.1L676.5 528.2L676 528.4L675.5 528.3L675 527.9L674.5 527.5L674 527.1L673.5 526.8L673.1 526.4L672.6 526L672.1 525.6L671.6 525.7L671.1 525.8L670.6 526L670.1 526.1L669.7 526.2L669.2 526.4L668.7 526.5L668.2 526.6L667.7 526.3L667.2 525.9L666.7 525.5L666.3 525.1L665.8 524.8L665.3 524.4L664.8 524L664.3 523.8L663.8 523.9L663.4 524.1L662.9 524.2L662.4 524.4L661.9 524.5L661.4 524.6L660.9 524.8L660.4 524.6L660 524.2L659.5 523.8L659 523.5L658.5 523.1L658 522.7L657.5 522.3L657 522L656.6 522L656.1 522.2L655.6 522.3L655.1 522.5L654.6 522.6L654.1 522.7L653.7 522.9L653.2 522.9L652.7 522.5L652.2 522.2L651.7 521.8L651.2 521.4L650.8 521L650.3 520.6L649.8 520.3L649.3 520.1L648.8 520.2L648.3 520.4L647.9 520.5L647.4 520.6L646.9 520.8L646.4 520.9L645.9 521L645.4 520.8L644.9 520.4L644.5 520.1L644 519.7L643.5 519.3L643 518.9L642.5 518.5L642 518.1L641.6 518.3L641.1 518.4L640.6 518.5L640.1 518.7L639.6 518.8L639.1 518.9L638.7 519L638.2 519.1L637.7 518.7L637.2 518.3L636.7 517.9L636.3 517.5L635.8 517.2L635.3 516.8L634.8 516.4L634.3 516.2L633.8 516.4L633.4 516.5L632.9 516.6L632.4 516.7L631.9 516.9L631.4 517L630.9 517.1L630.5 516.9L630 516.5L629.5 516.1L629 515.8L628.5 515.4L628 515L627.6 514.6L627.1 514.2L626.6 514.3L626.1 514.4L625.6 514.5L625.2 514.7L624.7 514.8L624.2 514.9L623.7 515.1L623.2 515.1L622.7 514.7L622.3 514.3L621.8 513.9L621.3 513.5L620.8 513.2L620.3 512.8L619.9 512.4L619.4 512.2L618.9 512.3L618.4 512.4L617.9 512.6L617.5 512.7L617 512.8L616.5 512.9L616 513.1L615.5 512.9L615.1 512.5L614.6 512.1L614.1 511.7L613.6 511.3L613.1 510.9L612.6 510.5L612.2 510.1L611.7 510.2L611.2 510.3L610.7 510.4L610.2 510.5L609.8 510.6L609.3 510.8L608.8 510.9L608.3 511L607.8 510.6L607.4 510.2L606.9 509.8L606.4 509.4L605.9 509L605.4 508.6L605 508.2L604.5 508L604 508.1L603.5 508.2L603 508.3L602.6 508.4L602.1 508.5L601.6 508.7L601.1 508.8L600.7 508.7L600.2 508.3L599.7 507.9L599.2 507.5L598.7 507.1L598.3 506.7L597.8 506.3L597.3 505.9L596.8 505.8L596.3 505.9L595.9 506.1L595.4 506.2L594.9 506.3L594.4 506.4L593.9 506.5L593.5 506.6L593 506.3L592.5 505.9L592 505.5L591.6 505.1L591.1 504.7L590.6 504.3L590.1 503.9L589.6 503.6L589.2 503.6L588.7 503.7L588.2 503.9L587.7 504L587.3 504.1L586.8 504.2L586.3 504.3L585.8 504.4L585.3 504L584.9 503.6L584.4 503.2L583.9 502.8L583.4 502.4L583 501.9L582.5 501.5L582 501.3L581.5 501.4L581.1 501.5L580.6 501.6L580.1 501.7L579.6 501.8L579.1 501.9L578.7 502L578.2 501.9L577.7 501.5L577.2 501.1L576.8 500.7L576.3 500.3L575.8 499.9L575.3 499.5L574.9 499.1L574.4 499L573.9 499.1L573.4 499.2L573 499.3L572.5 499.4L572 499.5L571.5 499.6L571.1 499.7L570.6 499.5L570.1 499.1L569.6 498.7L569.2 498.2L568.7 497.8L568.2 497.4L567.7 497L567.2 496.6L566.8 496.6L566.3 496.7L565.8 496.8L565.4 496.9L564.9 497L564.4 497.1L563.9 497.2L563.5 497.3L563 497L562.5 496.5L562 496.1L561.6 495.7L561.1 495.3L560.6 494.9L560.1 494.5L559.7 494.1L559.2 494.2L558.7 494.3L558.2 494.4L557.8 494.5L557.3 494.6L556.8 494.7L556.3 494.8L555.9 494.8L555.4 494.4L554.9 494L554.5 493.6L554 493.2L553.5 492.8L553 492.3L552.6 491.9L552.1 491.6L551.6 491.7L551.1 491.8L550.7 491.9L550.2 492L549.7 492.1L549.3 492.2L548.8 492.3L548.3 492.2L547.8 491.8L547.4 491.4L546.9 491L546.4 490.6L545.9 490.2L545.5 489.7L545 489.3L544.5 489.1L544.1 489.2L543.6 489.3L543.1 489.4L542.6 489.5L542.2 489.6L541.7 489.6L541.2 489.7L540.8 489.6L540.3 489.2L539.8 488.8L539.4 488.3L538.9 487.9L538.4 487.5L537.9 487.1L537.5 486.7L537 486.5L536.5 486.6L536.1 486.7L535.6 486.8L535.1 486.8L534.6 486.9L534.2 487L533.7 487.1L533.2 486.9L532.8 486.5L532.3 486.1L531.8 485.6L531.4 485.2L530.9 484.8L530.4 484.4L530 484L529.5 483.8L529 483.9L528.5 484L528.1 484.1L527.6 484.2L527.1 484.2L526.7 484.3L526.2 484.4L525.7 484.2L525.3 483.7L524.8 483.3L524.3 482.9L523.9 482.5L523.4 482.1L522.9 481.6L522.5 481.2L522 481.1L521.5 481.2L521.1 481.2L520.6 481.3L520.1 481.4L519.7 481.5L519.2 481.5L518.7 481.6L518.3 481.4L517.8 481L517.3 480.5L516.9 480.1L516.4 479.7L515.9 479.3L515.5 478.8L515 478.4L514.5 478.3L514.1 478.3L513.6 478.4L513.1 478.5L512.7 478.6L512.2 478.6L511.7 478.7L511.3 478.8L510.8 478.6L510.3 478.1L509.9 477.7L509.4 477.3L508.9 476.8L508.5 476.4L508 476L507.5 475.6L507.1 475.4L506.6 475.4L506.2 475.5L505.7 475.6L505.2 475.6L504.8 475.7L504.3 475.8L503.8 475.8L503.4 475.7L502.9 475.3L502.4 474.8L502 474.4L501.5 474L501.1 473.5L500.6 473.1L500.1 472.7L499.7 472.4L499.2 472.5L498.7 472.5L498.3 472.6L497.8 472.7L497.4 472.7L496.9 472.8L496.4 472.8L496 472.8L495.5 472.3L495 471.9L494.6 471.4L494.1 471L493.7 470.6L493.2 470.1L492.7 469.7L492.3 469.4L491.8 469.4L491.4 469.5L490.9 469.5L490.4 469.6L490 469.6L489.5 469.7L489 469.8L488.6 469.8L488.1 469.3L487.7 468.9L487.2 468.5L486.7 468L486.3 467.6L485.8 467.1L485.4 466.7L484.9 466.3L484.5 466.3L484 466.3L483.5 466.4L483.1 466.4L482.6 466.5L482.2 466.5L481.7 466.6L481.2 466.6L480.8 466.3L480.3 465.9L479.9 465.4L479.4 465L478.9 464.5L478.5 464.1L478 463.6L477.6 463.2L477.1 463.1L476.7 463.1L476.2 463.2L475.7 463.2L475.3 463.3L474.8 463.3L474.4 463.3L473.9 463.4L473.5 463.2L473 462.8L472.6 462.3L472.1 461.9L471.6 461.4L471.2 461L470.7 460.5L470.3 460.1L469.8 459.8L469.4 459.8L468.9 459.8L468.5 459.9L468 459.9L467.5 460L467.1 460L466.6 460L466.2 460.1L465.7 459.6L465.3 459.2L464.8 458.7L464.4 458.3L463.9 457.8L463.5 457.4L463 456.9L462.6 456.5L462.1 456.4L461.6 456.4L461.2 456.5L460.7 456.5L460.3 456.5L459.8 456.6L459.4 456.6L458.9 456.6L458.5 456.4L458 456L457.6 455.5L457.1 455.1L456.7 454.6L456.2 454.2L455.8 453.7L455.3 453.2L454.9 452.9L454.4 452.9L454 453L453.5 453L453.1 453L452.6 453.1L452.2 453.1L451.7 453.1L451.3 453.1L450.8 452.7L450.4 452.2L449.9 451.8L449.5 451.3L449 450.9L448.6 450.4L448.1 450L447.7 449.5L447.2 449.4L446.8 449.4L446.3 449.4L445.9 449.4L445.4 449.4L445 449.5L444.5 449.5L444.1 449.5L443.6 449.4L443.2 448.9L442.7 448.4L442.3 448L441.9 447.5L441.4 447.1L441 446.6L440.5 446.2L440.1 445.7L439.6 445.7L439.2 445.7L438.7 445.7L438.3 445.7L437.8 445.7L437.4 445.7L436.9 445.7L436.5 445.7L436.1 445.5L435.6 445L435.2 444.6L434.7 444.1L434.3 443.7L433.8 443.3L433.4 442.8L432.9 442.4L432.5 442L432.1 442L431.6 442L431.2 441.9L430.7 441.9L430.3 441.9L429.9 441.9L429.4 441.9L429 441.9L428.5 441.6L428.1 441.1L427.6 440.7L427.2 440.2L426.8 439.8L426.3 439.3L425.9 438.9L425.4 438.5L425 438.1L424.6 438.1L424.1 438.1L423.7 438L423.2 438L422.8 438L422.4 437.9L421.9 437.9L421.5 437.9L421 437.5L420.6 437.1L420.2 436.7L419.7 436.2L419.3 435.8L418.9 435.4L418.4 434.9L418 434.5L417.5 434.2L417.1 434.1L416.7 434.1L416.2 434L415.8 433.9L415.4 433.9L414.9 433.8L414.5 433.8L414.1 433.7L413.6 433.4L413.2 433L412.8 432.5L412.3 432.1L411.9 431.7L411.5 431.2L411 430.8L410.6 430.4L410.2 430L409.8 429.9L409.3 429.8L408.9 429.8L408.5 429.7L408 429.6L407.6 429.6L407.2 429.5L406.7 429.4L406.3 429.2L405.9 428.8L405.4 428.4L405 427.9L404.6 427.5L404.1 427.1L403.7 426.7L403.2 426.3L402.8 425.9L402.4 425.7L401.9 425.7L401.5 425.6L401.1 425.5L400.6 425.4L400.2 425.3L399.8 425.3L399.3 425.2L398.9 425L398.5 424.6L398 424.2L397.6 423.8L397.2 423.4L396.8 423L396.3 422.6L395.9 422.2L395.5 421.8L395 421.5L394.6 421.4L394.2 421.3L393.7 421.2L393.3 421.1L392.9 421L392.4 420.9L392 420.8L391.6 420.7L391.2 420.4L390.7 420L390.3 419.6L389.9 419.2L389.5 418.8L389.1 418.4L388.6 418L388.2 417.5L387.8 417.1L387.4 417L387 416.8L386.6 416.7L386.1 416.6L385.7 416.4L385.3 416.3L384.9 416.1L384.5 416L384.1 415.8L383.6 415.4L383.2 415L382.8 414.6L382.4 414.2L382 413.8L381.5 413.4L381.1 413.1L380.7 412.7L380.3 412.3L379.9 412.2L379.4 412.1L379 411.9L378.6 411.8L378.2 411.6L377.7 411.5L377.3 411.3L376.9 411.2L376.5 411L376 410.6L375.6 410.2L375.2 409.8L374.8 409.5L374.4 409.1L373.9 408.7L373.5 408.3L373.1 408L372.7 407.7L372.3 407.5L371.8 407.3L371.4 407.2L371 407L370.6 406.8L370.2 406.6L369.8 406.5L369.3 406.3L368.9 406L368.5 405.7L368.1 405.3L367.7 404.9L367.3 404.6L366.9 404.2L366.4 403.8L366 403.5L365.6 403.1L365.2 402.7L364.8 402.5L364.4 402.3L364 402.1L363.6 401.9L363.3 401.7L362.9 401.4L362.5 401.2L362.1 401L361.7 400.7L361.3 400.3L360.9 399.9L360.5 399.6L360.1 399.2L359.7 398.8L359.3 398.4L358.9 398L358.5 397.6L358.2 397.3L357.7 397.1L357.3 396.9L356.9 396.7L356.4 396.5L356 396.4L355.6 396.2L355.1 396L354.7 395.8L354.3 395.6L353.9 395.3L353.4 395L353 394.7L352.6 394.3L352.1 394L351.7 393.7L351.3 393.4L350.8 393.1L350.4 392.8L350 392.6L349.5 392.4L349.1 392.1L348.7 391.9L348.3 391.7L347.9 391.4L347.5 391.2L347.1 390.9L346.7 390.6L346.3 390.4L345.9 390L345.5 389.7L345.1 389.3L344.7 389L344.3 388.7L343.9 388.3L343.5 388L343.1 387.7L342.7 387.3L342.3 387.1L341.9 386.8L341.5 386.5L341.2 386.2L340.8 385.9L340.4 385.6L340.1 385.3L339.7 385L339.3 384.7L338.9 384.4L338.6 384L338.2 383.6L337.8 383.3L337.5 382.9L337.1 382.6L336.7 382.2L336.4 381.8L336 381.5L335.6 381.1L335.3 380.8L334.9 380.5L334.5 380.2L334.2 379.8L333.8 379.5L333.4 379.3L333 379L332.6 378.7L332.2 378.4L331.8 378.1L331.4 377.8L331 377.5L330.6 377.2L330.2 376.9L329.8 376.6L329.4 376.3L329 376L328.6 375.7L328.2 375.4L327.8 375.1L327.4 374.8L327 374.5L326.6 374.2L326.2 373.9L325.8 373.6L325.5 373.2L325.1 372.9L324.7 372.5L324.4 372.2L324 371.8L323.7 371.5L323.3 371.1L322.9 370.8L322.6 370.4L322.2 370.1L321.9 369.7L321.5 369.4L321.2 369L320.8 368.7L320.5 368.3L320.1 368L319.7 367.6L319.4 367.3L319 366.9L318.6 366.6L318.2 366.4L317.8 366.1L317.4 365.8L317 365.5L316.6 365.2L316.2 364.9L315.8 364.6L315.4 364.3L315 364L314.6 363.7L314.2 363.4L313.8 363.1L313.4 362.8L313 362.5L312.6 362.2L312.2 361.9L311.8 361.6L311.4 361.3L311 361L310.7 360.7L310.3 360.3L309.9 360L309.6 359.7L309.2 359.3L308.8 359L308.5 358.6L308.1 358.3L307.7 358L307.4 357.6L307 357.3L306.7 356.9L306.3 356.6L305.9 356.2L305.6 355.9L305.2 355.6L304.9 355.2L304.5 354.9L304.1 354.5L303.8 354.2L303.4 353.8L303 353.5L302.7 353.2L302.3 352.9L301.9 352.5L301.5 352.2L301.2 351.9L300.8 351.5L300.4 351.2L300.1 350.9L299.7 350.6L299.3 350.2L298.9 349.9L298.6 349.6L298.2 349.2L297.8 348.9L297.5 348.6L297.1 348.2L296.7 347.9L296.3 347.6L296 347.2L295.6 346.9L295.3 346.5L294.9 346.2L294.5 345.8L294.2 345.5L293.8 345.2L293.5 344.8L293.1 344.5L292.8 344.1L292.4 343.8L292 343.4L291.7 343.1L291.3 342.7L291 342.4L290.6 342L290.3 341.7L289.9 341.3L289.6 341L289.2 340.6L288.8 340.3L288.5 339.9L288.1 339.6L287.8 339.2L287.4 338.9L287.1 338.5L286.7 338.2L286.4 337.8L286 337.5L285.7 337.1L285.3 336.8L284.9 336.4L284.6 336.1L284.2 335.7L283.9 335.4L283.5 335L283.2 334.7L282.8 334.3L282.5 334L282.1 333.6L281.8 333.3L281.5 332.9L281.1 332.5L280.8 332.2L280.4 331.8L280.1 331.5L279.7 331.1L279.4 330.7L279.1 330.4L278.7 330L278.4 329.6L278 329.3L277.7 328.9L277.4 328.5L277 328.2L276.7 327.8L276.4 327.5L276 327.1L275.7 326.7L275.3 326.4L275 326L274.7 325.6L274.3 325.2L274 324.9L273.7 324.5L273.3 324.1L273 323.8L272.7 323.4L272.3 323L272 322.6L271.7 322.3L271.4 321.9L271 321.5L270.7 321.2L270.4 320.8L270 320.4L269.7 320L269.4 319.7L269.1 319.3L268.7 318.9L268.4 318.6L268 318.2L267.7 317.8L267.3 317.5L267 317.1L266.7 316.8L266.3 316.4L266 316L265.6 315.7L265.3 315.3L264.9 315L264.6 314.6L264.3 314.2L263.9 313.9L263.6 313.5L263.2 313.1L262.9 312.8L262.5 312.4L262.2 312.1L261.9 311.7L261.6 311.3L261.3 310.9L260.9 310.5L260.6 310.1L260.3 309.7L260 309.3L259.7 308.9L259.4 308.6L259.1 308.2L258.8 307.8L258.5 307.4L258.2 307L257.9 306.6L257.6 306.2L257.3 305.8L257 305.4L256.7 305L256.4 304.6L256.1 304.2L255.8 303.8L255.5 303.4L255.1 303.1L254.8 302.7L254.5 302.3L254.1 301.9L253.8 301.6L253.5 301.2L253.2 300.8L252.8 300.4L252.5 300.1L252.2 299.7L251.8 299.3L251.5 298.9L251.2 298.6L250.9 298.2L250.5 297.8L250.2 297.4L249.9 297L249.6 296.7L249.3 296.3L248.9 295.9L248.6 295.5L248.3 295.2L247.9 294.8L247.6 294.4L247.3 294L246.9 293.7L246.6 293.3L246.3 292.9L246 292.5L245.6 292.2L245.3 291.8L245 291.4L244.7 291L244.3 290.7L244 290.3L243.7 289.9L243.4 289.5L243 289.1L242.7 288.8L242.4 288.3L242.1 287.9L241.9 287.5L241.6 287.1L241.3 286.7L241 286.3L240.7 285.9L240.4 285.5L240.2 285.1L239.9 284.7L239.6 284.3L239.3 283.8L239 283.4L238.7 283L238.5 282.6L238.2 282.2L237.9 281.8L237.6 281.4L237.3 281L237 280.5L236.7 280.2L236.4 279.8L236.1 279.4L235.8 279L235.5 278.6L235.3 278.2L235 277.8L234.7 277.4L234.4 277L233.9 276.6L233.6 276.2L233.3 275.8L233 275.4L232.8 275L232.5 274.6L232.2 274.2L232 273.8L231.7 273.4L231.4 273L231.2 272.6L230.5 272.2L230.3 271.8L230.1 271.3L229.9 270.9L229.7 270.5L229.5 270.1L229.3 269.6L229.1 269.2L228.9 268.8L228.7 268.3L228.5 267.9L227.7 267.5L227.5 267L227.3 266.6L227.1 266.2L226.9 265.8L226.7 265.3L226.5 264.9L226.3 264.5L226.2 264L225.9 263.6L225.7 263.3L224.6 262.9L224.4 262.5L224.1 262.1L223.9 261.7L223.7 261.3L223.4 260.9L223.2 260.5L223 260.2L222.8 259.8L222.6 259.4L221.4 259L221.1 258.6L220.9 258.2L220.7 257.8L220.5 257.4L220.3 257L220.1 256.6L219.9 256.2L219.7 255.8L219.6 255.4L219.5 254.9L218.2 254.5L218.1 254.1L217.9 253.6L217.8 253.2L217.6 252.8L217.5 252.3L217.4 251.9L217.2 251.5L217.1 251L217 250.6L216.9 250.2L215.5 249.7L215.4 249.3L215.2 248.8L215.1 248.4L215 248L214.9 247.5L214.7 247.1L214.6 246.7L214.4 246.3L214.3 245.9L212.7 245.5L212.6 245.1L212.4 244.7L212.3 244.3L212.1 243.9L212 243.4L211.9 243L211.7 242.6L211.6 242.2L211.5 241.8L209.8 241.4L209.7 241L209.6 240.6L209.4 240.1L209.3 239.7L209.2 239.3L209.1 238.9L208.9 238.5L208.8 238L208.7 237.6L208.6 237.2L206.9 236.8L206.8 236.4L206.7 235.9L206.6 235.5L206.5 235.1L206.4 234.7L206.3 234.2L206.2 233.8L206.1 233.4L206 233L204.2 232.5L204.1 232.1L204 231.7L203.9 231.3L203.8 230.8L203.7 230.4L203.6 230L203.6 229.6L203.5 229.1L203.4 228.7L201.5 228.3L201.5 227.8L201.4 227.4L201.3 227L201.2 226.6L201.2 226.1L201.1 225.7L201 225.3L200.9 224.8L200.9 224.4L199 224L198.9 223.5L198.8 223.1L198.7 222.7L198.7 222.2L198.6 221.8L198.5 221.4L198.5 221L198.4 220.5L198.4 220.1L198.3 219.7L196.3 219.3L196.2 218.8L196.2 218.4L196.1 218L196 217.5L196 217.1L195.9 216.7L195.9 216.3L195.8 215.8L195.8 215.4L193.7 215L193.6 214.5L193.6 214.1L193.6 213.7L193.5 213.2L193.5 212.8L193.5 212.3L193.4 211.9L193.4 211.5L193.4 211L191.3 210.6L191.3 210.1L191.2 209.7L191.2 209.3L191.2 208.8L191.2 208.4L191.2 207.9L191.1 207.5L191.1 207L191.1 206.6L188.9 206.2L188.9 205.7L188.9 205.3L188.9 204.8L188.9 204.4L188.9 204L188.9 203.5L188.8 203.1L188.8 202.6L188.8 202.2L186.6 201.7L186.6 201.3L186.6 200.9L186.6 200.4L186.6 200L186.6 199.5L186.6 199.1L186.6 198.6L186.6 198.2L186.6 197.8L184.3 197.3L184.3 196.9L184.3 196.4L184.3 196L184.3 195.5L184.3 195.1L184.3 194.7L184.3 194.2L184.3 193.8L184.3 193.3L182 192.9L182 192.5L182 192L182 191.6L182 191.1L182 190.7L182.1 190.2L182.1 189.8L182.1 189.4L179.8 188.9L179.8 188.5L179.8 188L179.8 187.6L179.8 187.1L179.8 186.7L179.8 186.2L179.9 185.8L179.9 185.3L179.9 184.9L177.6 184.4L177.6 184L177.6 183.5L177.6 183.1L177.7 182.6L177.7 182.2L177.7 181.7L177.7 181.3L177.8 180.9L177.8 180.4L175.4 180L175.5 179.5L175.5 179.1L175.5 178.6L175.6 178.2L175.6 177.7L175.6 177.2L175.7 176.8L175.7 176.3L175.7 175.9L173.4 175.4L173.4 175L173.4 174.5L173.5 174.1L173.5 173.6L173.5 173.2L173.6 172.7L173.6 172.3L173.7 171.8L173.7 171.4L171.3 170.9L171.3 170.5L171.4 170L171.4 169.6L171.5 169.1L171.5 168.7L171.6 168.2L171.6 167.8L171.6 167.3L169.2 166.9L169.3 166.4L169.3 166L169.3 165.5L169.4 165.1L169.4 164.6L169.5 164.1L169.5 163.7L169.6 163.2L169.6 162.8L167.2 162.3L167.2 161.9L167.3 161.4L167.3 161L167.4 160.5L167.4 160.1L167.5 159.6L167.5 159.2L167.6 158.7L167.7 158.3L165.2 157.8L165.3 157.3L165.3 156.9L165.4 156.4L165.4 156L165.5 155.5L165.6 155.1L165.6 154.6L165.7 154.2L163.2 153.7L163.3 153.2L163.3 152.8L163.4 152.3L163.5 151.9L163.5 151.4L163.6 151L163.6 150.5L163.7 150L163.8 149.6L161.3 149.1L161.4 148.7L161.4 148.2L161.5 147.8L161.6 147.3L161.6 146.8L161.7 146.4L161.8 145.9L161.8 145.5L159.4 145L159.4 144.6L159.5 144.1L159.6 143.6L159.6 143.2L159.7 142.7L159.8 142.3L159.9 141.8L159.9 141.3L160 140.9L157.6 140.4L157.6 140L157.7 139.5L157.8 139L157.8 138.6L157.9 138.1L158 137.7L158 137.2L158.1 136.7L158.2 136.3L155.8 135.8L155.8 135.4L155.9 134.9L156 134.4L156 134L156.1 133.5L156.2 133.1L156.2 132.6L156.3 132.1L154 131.7L154 131.2L154.1 130.7L154.2 130.3L154.2 129.8L154.3 129.4L154.4 128.9L154.4 128.4L154.5 128L154.5 127.5L152.2 127L152.3 126.6L152.4 126.1L152.4 125.7L152.5 125.2L152.6 124.7L152.6 124.3L152.7 123.8L152.7 123.3L150.5 122.9L150.5 122.4L150.6 122L150.7 121.5L150.7 121L150.8 120.6L150.9 120.1L150.9 119.6L151 119.2L151 118.7L148.8 118.2L148.9 117.8L148.9 117.3L149 116.8L149 116.4L149.1 115.9L149.2 115.4L149.2 115L149.3 114.5L147.1 114L147.1 113.6L147.2 113.1L147.3 112.7L147.3 112.2L147.4 111.7L147.5 111.3L147.5 110.8L147.6 110.3L145.4 109.9L145.5 109.4L145.5 108.9L145.6 108.5L145.6 108L145.7 107.5L145.8 107.1L145.8 106.6L145.9 106.1L145.9 105.7L143.8 105.2L143.9 104.7L143.9 104.2L144 103.8L144 103.3L144.1 102.8L144.2 102.4L144.2 101.9L144.3 101.4L142.2 101L142.2 100.5L142.3 100L142.3 99.6L142.4 99.1L142.5 98.6L142.5 98.2L142.6 97.7L142.6 97.2L142.7 96.8L140.6 96.3L140.7 95.8L140.7 95.3L140.8 94.9L140.9 94.4L140.9 93.9L141 93.5L141 93L141.1 92.5L139 92.1L139.1 91.6L139.1 91.1L139.2 90.7L139.3 90.2L139.3 89.7L139.4 89.2L139.4 88.8L139.5 88.3L137.5 87.8L137.5 87.4L137.6 86.9L137.6 86.4L137.7 85.9L137.8 85.5L137.8 85L137.9 84.5L137.9 84.1L138 83.6L136 83.1L136 82.6L136.1 82.2L136.2 81.7L136.2 81.2L136.3 80.8L136.3 80.3L136.4 79.8L136.4 79.3L134.5 78.9L134.5 78.4L134.6 77.9L134.6 77.5L134.7 77L134.7 76.5L134.8 76L134.9 75.6L134.9 75.1L133 74.6L133 74.1L133.1 73.7L133.1 73.2L133.2 72.7L133.2 72.3L133.3 71.8L133.4 71.3L133.4 70.8L131.5 70.4L131.5 69.9L131.6 69.4L131.7 68.9L131.7 68.5L131.8 68L131.8 67.5L131.9 67L131.9 66.5L132 66L129.8 65.6L129.9 65.1L129.9 64.6L130 64.2L130 63.7L130.1 63.2L130.2 62.8L130.2 62.3L130.3 61.8L128.1 61.4L128.2 60.9L128.2 60.4L128.3 60L128.4 59.5L128.4 59L128.5 58.6L128.6 58.1L128.6 57.6L128.7 57.2L126.5 56.7L126.6 56.2L126.7 55.8L126.7 55.3L126.8 54.8L126.8 54.4L126.9 53.9L127 53.4L127 52.9L124.9 52.5L125 52L125 51.5L125.1 51.1L125.2 50.6L125.2 50.1L125.3 49.7L125.3 49.2L125.4 48.7L123.3 48.3L123.4 47.8L123.5 47.3L123.5 46.8L123.6 46.4L123.6 45.9L123.7 45.4L123.8 45L123.8 44.5L123.9 44L121.8 43.6L121.9 43.1L121.9 42.6L122 42.1L122.1 41.7L122.1 41.2L122.2 40.7L122.2 40.3L122.3 39.8L120.3 39.3L120.3 38.8L120.4 38.4L120.5 37.9L120.5 37.4L120.6 37L120.6 36.5L120.7 36L120.7 35.5L118.8 35.1L118.8 34.6L118.9 34.1L118.9 33.7L119 33.2L119.1 32.7L119.1 32.2L119.2 31.8L119.2 31.3L119.3 30.8L117.3 30.3L117.4 29.9L117.4 29.4L117.5 28.9L117.6 28.5L117.6 28L117.7 27.5L117.7 27L117.8 26.6L115.9 26.1L115.9 25.6L116 25.1L116 24.7L116.1 24.2L116.1 23.7L116.2 23.2L116.2 22.8L116.3 22.3L114.4 21.8L114.5 21.4L114.5 20.9L114.6 20.4L114.6 19.9L114.7 19.5L114.7 19L114.8 18.5L114.8 18L113 17.6L113 17.1L113.1 16.6L113.1 16.1L113.2 15.7L113.3 15.2L113.3 14.7L113.4 14.2L113.4 13.8L113.5 13.3L111.6 12.8L111.7 12.3L111.7 11.9L111.8 11.4L111.8 10.9L111.6 10.4Z" fill="#000000"/>
<circle cx="109.2" cy="11.1" r="2.4" fill="#000000"/><circle cx="678.3" cy="530.4" r="2.4" fill="#000000"/>
<path d="M134.1 11.9L134.2 12.3L133.7 12.8L133.6 13.3L135.7 13.7L135.7 14.2L135.6 14.7L135.6 15.2L135.5 15.6L135.4 16.1L135.4 16.6L135.3 17L135.3 17.5L137.4 18L137.3 18.5L137.3 18.9L137.2 19.4L137.1 19.9L137.1 20.3L137 20.8L137 21.3L136.9 21.8L136.8 22.2L139 22.7L138.9 23.2L138.9 23.6L138.8 24.1L138.8 24.6L138.7 25L138.6 25.5L138.6 26L138.5 26.4L140.7 26.9L140.6 27.4L140.6 27.9L140.5 28.3L140.5 28.8L140.4 29.3L140.3 29.7L140.3 30.2L140.2 30.7L140.1 31.1L142.4 31.6L142.3 32.1L142.2 32.5L142.2 33L142.1 33.5L142 33.9L142 34.4L141.9 34.9L141.9 35.3L144.1 35.8L144 36.3L144 36.7L143.9 37.2L143.9 37.7L143.8 38.1L143.7 38.6L143.7 39.1L143.6 39.5L143.5 40L145.8 40.5L145.8 40.9L145.7 41.4L145.6 41.9L145.6 42.3L145.5 42.8L145.4 43.3L145.4 43.7L145.3 44.2L147.6 44.7L147.6 45.1L147.5 45.6L147.4 46.1L147.4 46.5L147.3 47L147.2 47.5L147.2 47.9L147.1 48.4L147 48.8L149.4 49.3L149.3 49.8L149.3 50.2L149.2 50.7L149.1 51.2L149.1 51.6L149 52.1L148.9 52.6L148.9 53L151.3 53.5L151.2 54L151.1 54.4L151.1 54.9L151 55.3L150.9 55.8L150.9 56.3L150.8 56.7L150.7 57.2L150.7 57.7L153.1 58.1L153 58.6L153 59L152.9 59.5L152.8 60L152.8 60.4L152.7 60.9L152.6 61.3L152.6 61.8L155 62.3L155 62.7L154.9 63.2L154.8 63.7L154.8 64.1L154.7 64.6L154.6 65L154.6 65.5L154.5 66L154.4 66.4L156.9 66.9L156.8 67.3L156.8 67.8L156.7 68.3L156.7 68.7L156.6 69.1L156.5 69.6L156.5 70L156.4 70.5L158.6 70.9L158.5 71.4L158.5 71.9L158.4 72.3L158.4 72.8L158.3 73.3L158.2 73.7L158.2 74.2L158.1 74.7L158 75.1L160.3 75.6L160.2 76.1L160.1 76.6L160.1 77L160 77.5L160 78L159.9 78.4L159.8 78.9L159.8 79.4L162 79.8L162 80.3L161.9 80.8L161.8 81.2L161.8 81.7L161.7 82.2L161.6 82.6L161.6 83.1L161.5 83.6L161.4 84L163.7 84.5L163.7 85L163.6 85.4L163.5 85.9L163.5 86.4L163.4 86.8L163.3 87.3L163.3 87.8L163.2 88.2L165.5 88.7L165.5 89.1L165.4 89.6L165.3 90.1L165.3 90.5L165.2 91L165.1 91.5L165.1 91.9L165 92.4L167.4 92.9L167.3 93.3L167.2 93.8L167.2 94.3L167.1 94.7L167 95.2L167 95.7L166.9 96.1L166.8 96.6L166.8 97L169.2 97.5L169.1 98L169 98.4L169 98.9L168.9 99.4L168.8 99.8L168.8 100.3L168.7 100.7L168.6 101.2L168.6 101.7L171 102.1L170.9 102.6L170.8 103.1L170.8 103.5L170.7 104L170.6 104.4L170.6 104.9L170.5 105.4L170.4 105.8L172.9 106.3L172.8 106.8L172.8 107.2L172.7 107.7L172.6 108.1L172.6 108.6L172.5 109.1L172.4 109.5L172.4 110L172.3 110.4L174.8 110.9L174.7 111.4L174.6 111.8L174.6 112.3L174.5 112.7L174.4 113.2L174.4 113.7L174.3 114.1L174.2 114.6L176.7 115L176.6 115.5L176.6 116L176.5 116.4L176.5 116.9L176.4 117.3L176.3 117.8L176.3 118.3L176.2 118.7L176.2 119.2L178.6 119.6L178.5 120.1L178.5 120.6L178.4 121L178.4 121.5L178.3 121.9L178.3 122.4L178.2 122.9L178.1 123.3L180.6 123.8L180.5 124.2L180.5 124.7L180.4 125.1L180.4 125.6L180.3 126.1L180.3 126.5L180.3 127L180.2 127.4L180.2 127.9L182.6 128.3L182.5 128.8L182.5 129.2L182.5 129.7L182.4 130.1L182.4 130.6L182.3 131.1L182.3 131.5L182.3 132L182.2 132.4L184.6 132.9L184.6 133.3L184.6 133.8L184.5 134.2L184.5 134.7L184.4 135.1L184.4 135.6L184.4 136L184.3 136.5L184.3 137L186.7 137.4L186.7 137.9L186.6 138.3L186.6 138.8L186.6 139.2L186.5 139.7L186.5 140.1L186.5 140.6L186.4 141L188.8 141.5L188.8 141.9L188.7 142.4L188.7 142.8L188.7 143.3L188.7 143.7L188.6 144.2L188.6 144.6L188.6 145.1L188.6 145.5L190.9 146L190.9 146.5L190.9 146.9L190.9 147.4L190.8 147.8L190.8 148.3L190.8 148.7L190.8 149.2L190.8 149.6L190.7 150.1L193.1 150.5L193.1 151L193 151.4L193 151.9L193 152.3L193 152.8L193 153.2L192.9 153.7L192.9 154.1L192.9 154.6L195.2 155L195.2 155.5L195.2 155.9L195.2 156.4L195.2 156.8L195.1 157.3L195.1 157.7L195.1 158.2L195.1 158.6L195.1 159.1L197.4 159.5L197.4 160L197.4 160.4L197.4 160.8L197.4 161.3L197.4 161.7L197.4 162.2L197.5 162.6L197.5 163L199.8 163.5L199.8 163.9L199.8 164.4L199.8 164.8L199.8 165.2L199.9 165.7L199.9 166.1L199.9 166.5L199.9 167L200 167.4L202.2 167.8L202.2 168.3L202.2 168.7L202.2 169.2L202.2 169.6L202.2 170.1L202.3 170.5L202.3 171L202.3 171.4L202.3 171.9L204.4 172.3L204.5 172.8L204.5 173.2L204.5 173.7L204.5 174.1L204.5 174.6L204.5 175L204.5 175.4L204.5 175.9L204.6 176.3L206.7 176.8L206.7 177.2L206.7 177.7L206.7 178.1L206.8 178.6L206.8 179L206.8 179.5L206.9 179.9L206.9 180.3L206.9 180.8L209 181.2L209 181.7L209.1 182.1L209.1 182.6L209.2 183L209.2 183.4L209.2 183.9L209.3 184.3L209.3 184.8L209.4 185.2L211.4 185.6L211.4 186.1L211.5 186.5L211.6 186.9L211.6 187.4L211.7 187.8L211.8 188.2L211.8 188.7L211.9 189.1L212 189.5L212.1 189.9L214 190.4L214.1 190.8L214.2 191.2L214.3 191.6L214.4 192.1L214.4 192.5L214.5 192.9L214.6 193.3L214.7 193.8L214.8 194.2L216.7 194.6L216.8 195.1L216.8 195.5L216.9 196L216.9 196.4L217 196.8L217.1 197.3L217.1 197.7L217.2 198.2L217.3 198.6L219.1 199.1L219.1 199.5L219.2 199.9L219.3 200.4L219.3 200.8L219.4 201.3L219.5 201.7L219.5 202.2L219.6 202.6L219.7 203.1L221.5 203.5L221.6 203.9L221.7 204.3L221.8 204.8L221.9 205.2L222 205.6L222.1 206L222.2 206.5L222.3 206.9L222.4 207.3L224.1 207.7L224.3 208.2L224.4 208.6L224.5 209L224.6 209.4L224.7 209.9L224.9 210.3L225 210.7L225.1 211.1L225.3 211.5L225.4 212L227 212.4L227.1 212.8L227.3 213.2L227.4 213.6L227.5 214L227.7 214.5L227.8 214.9L228 215.3L228.1 215.7L228.3 216.1L229.8 216.5L230 217L230.1 217.4L230.2 217.8L230.4 218.2L230.6 218.6L230.7 219L230.9 219.5L231 219.9L231.2 220.3L231.4 220.7L232.8 221.1L232.9 221.6L233 222L233.2 222.4L233.3 222.8L233.5 223.3L233.7 223.7L233.8 224.1L234 224.5L234.1 225L235.4 225.4L235.6 225.8L235.7 226.2L235.9 226.7L236.1 227.1L236.2 227.5L236.4 227.9L236.6 228.4L236.8 228.8L237 229.2L237.2 229.6L238.4 230L238.6 230.4L238.8 230.8L239 231.2L239.2 231.6L239.4 232L239.7 232.4L239.9 232.8L240.1 233.2L240.3 233.6L241.4 234L241.6 234.4L241.9 234.8L242.1 235.2L242.3 235.6L242.6 236L242.8 236.4L243 236.8L243.2 237.2L243.5 237.6L243.7 238L244.6 238.4L244.8 238.9L245 239.3L245.2 239.7L245.4 240.1L245.6 240.5L245.9 241L246.1 241.4L246.3 241.8L246.5 242.2L246.8 242.6L247.5 243.1L247.8 243.5L248 243.9L248.2 244.3L248.5 244.7L248.7 245.1L248.9 245.6L249.1 246L249.4 246.4L249.6 246.9L249.8 247.3L250.4 247.7L250.6 248.2L250.9 248.6L251.1 249L251.3 249.5L251.6 249.9L251.8 250.3L252 250.8L252.3 251.2L252.5 251.6L252.9 252.1L253.2 252.5L253.4 252.9L253.7 253.4L253.9 253.8L254.2 254.2L254.6 254.5L254.9 254.9L255.3 255.3L255.6 255.7L256 256L256.3 256.4L256.6 256.8L257 257.1L257.3 257.5L257.7 257.9L258 258.2L258.4 258.6L258.7 259L259.1 259.3L259.4 259.7L259.8 260.1L260.1 260.4L260.5 260.8L260.8 261.2L261.1 261.6L261.3 262L261.6 262.5L261.9 262.9L262.1 263.3L262.4 263.8L262.7 264.2L262.9 264.6L263.2 265L263.5 265.5L263.7 265.9L264 266.3L264.3 266.8L264.5 267.2L264.8 267.6L265.1 268L265.3 268.5L265.6 268.9L265.9 269.3L266.2 269.8L266.5 270.1L266.8 270.5L267.2 270.9L267.5 271.2L267.9 271.6L268.2 272L268.6 272.3L268.9 272.7L269.3 273.1L269.6 273.4L270 273.8L270.3 274.2L270.7 274.5L271 274.9L271.3 275.3L271.7 275.6L272 276L272.4 276.3L272.7 276.7L273.1 277.1L273.4 277.5L273.7 277.9L274 278.3L274.3 278.7L274.6 279.1L274.9 279.5L275.2 279.9L275.5 280.3L275.8 280.7L276.1 281.1L276.5 281.5L276.8 281.9L277.1 282.3L277.4 282.7L277.7 283.1L278 283.5L278.3 283.8L278.6 284.2L278.9 284.6L279.2 285L279.6 285.4L279.9 285.8L280.3 286.1L280.6 286.5L280.9 286.9L281.3 287.2L281.6 287.6L282 288L282.3 288.4L282.7 288.7L283 289.1L283.4 289.4L283.7 289.8L284 290.2L284.4 290.5L284.7 290.9L285.1 291.3L285.4 291.6L285.8 292L286.1 292.4L286.5 292.7L286.9 293.1L287.2 293.4L287.6 293.7L288 294.1L288.3 294.4L288.7 294.8L289.1 295.1L289.4 295.5L289.8 295.8L290.2 296.1L290.6 296.5L290.9 296.8L291.3 297.2L291.7 297.5L292 297.8L292.4 298.2L292.8 298.5L293.2 298.9L293.5 299.2L293.9 299.6L294.2 300L294.5 300.4L294.8 300.8L295.1 301.2L295.4 301.5L295.8 301.9L296.1 302.3L296.4 302.7L296.7 303.1L297 303.5L297.3 303.9L297.7 304.3L298 304.7L298.3 305L298.6 305.4L299 305.8L299.3 306.2L299.6 306.6L299.9 307L300.3 307.4L300.6 307.7L300.9 308.1L301.3 308.5L301.6 308.8L301.9 309.2L302.3 309.6L302.6 310L303 310.3L303.3 310.7L303.6 311.1L304 311.4L304.3 311.8L304.6 312.2L305 312.6L305.3 312.9L305.7 313.3L306 313.7L306.4 314L306.7 314.4L307.1 314.7L307.4 315.1L307.8 315.4L308.2 315.8L308.6 316.1L308.9 316.4L309.3 316.8L309.7 317.1L310.1 317.4L310.4 317.8L310.8 318.1L311.2 318.4L311.6 318.8L311.9 319.1L312.3 319.4L312.7 319.8L313.1 320.1L313.4 320.4L313.8 320.8L314.2 321.1L314.6 321.4L314.9 321.8L315.3 322.1L315.7 322.5L316 322.8L316.4 323.2L316.7 323.5L317.1 323.9L317.5 324.2L317.8 324.6L318.2 324.9L318.6 325.2L318.9 325.6L319.3 325.9L319.7 326.3L320 326.6L320.4 327L320.8 327.3L321.1 327.6L321.5 328L321.9 328.4L322.2 328.7L322.5 329.1L322.9 329.5L323.2 329.8L323.6 330.2L323.9 330.6L324.3 330.9L324.6 331.3L324.9 331.7L325.3 332L325.6 332.4L326 332.8L326.3 333.1L326.7 333.5L327 333.9L327.4 334.2L327.7 334.6L328.1 334.9L328.4 335.3L328.8 335.6L329.2 336L329.6 336.3L330 336.6L330.4 336.9L330.7 337.2L331.1 337.6L331.5 337.9L331.9 338.2L332.3 338.5L332.7 338.8L333.1 339.2L333.5 339.5L333.9 339.8L334.2 340.1L334.6 340.4L335 340.7L335.4 341.1L335.8 341.4L336.2 341.7L336.6 342L337 342.3L337.4 342.6L337.8 342.9L338.2 343.3L338.5 343.6L338.9 343.9L339.3 344.2L339.7 344.5L340.1 344.8L340.5 345.1L340.9 345.4L341.3 345.8L341.7 346.1L342.1 346.4L342.5 346.7L342.9 347L343.3 347.3L343.7 347.6L344.1 347.9L344.4 348.3L344.8 348.6L345.2 348.9L345.6 349.3L345.9 349.6L346.3 349.9L346.7 350.3L347.1 350.6L347.4 351L347.8 351.3L348.2 351.6L348.5 352L348.9 352.3L349.3 352.6L349.7 353L350 353.3L350.4 353.6L350.8 354L351.2 354.3L351.5 354.6L351.9 355L352.3 355.3L352.7 355.7L353 356L353.4 356.3L353.8 356.7L354.1 357L354.5 357.4L354.9 357.7L355.3 358L355.6 358.4L356 358.7L356.4 359L356.8 359.4L357.1 359.7L357.5 360L357.9 360.4L358.3 360.7L358.6 361.1L359 361.4L359.4 361.7L359.8 362L360.2 362.3L360.7 362.6L361.1 362.9L361.5 363.2L361.9 363.4L362.3 363.7L362.7 364L363.1 364.3L363.5 364.5L364 364.8L364.4 365L364.8 365.3L365.2 365.6L365.6 366L366 366.3L366.4 366.6L366.9 366.9L367.3 367.2L367.6 367.6L368 367.9L368.4 368.3L368.8 368.5L369.2 368.8L369.6 369.1L370 369.4L370.4 369.7L370.7 370L371.1 370.3L371.5 370.5L371.9 370.8L372.3 371.2L372.7 371.5L373.1 371.9L373.5 372.2L373.9 372.6L374.3 373L374.7 373.3L375 373.7L375.4 374L375.8 374.3L376.2 374.6L376.7 374.8L377.1 375.1L377.5 375.3L377.9 375.6L378.3 375.8L378.7 376.1L379.1 376.3L379.5 376.6L379.9 377L380.3 377.3L380.7 377.7L381.1 378L381.5 378.4L381.9 378.7L382.3 379.1L382.7 379.5L383.1 379.8L383.5 380L384 380.2L384.4 380.4L384.8 380.6L385.2 380.8L385.7 381L386.1 381.2L386.5 381.4L386.9 381.6L387.4 382L387.8 382.3L388.2 382.6L388.6 383L389.1 383.3L389.5 383.7L389.9 384L390.3 384.4L390.8 384.7L391.2 384.9L391.6 385.1L392 385.3L392.5 385.5L392.9 385.7L393.3 385.9L393.7 386L394.2 386.2L394.6 386.4L395 386.7L395.4 387.1L395.8 387.5L396.3 387.8L396.7 388.2L397.1 388.6L397.5 388.9L398 389.3L398.4 389.7L398.8 389.8L399.2 390L399.7 390.2L400.1 390.4L400.5 390.5L400.9 390.7L401.3 390.9L401.8 391L402.2 391.2L402.6 391.6L403 391.9L403.5 392.3L403.9 392.7L404.3 393.1L404.7 393.5L405.1 393.9L405.6 394.2L406 394.6L406.4 394.8L406.8 395L407.2 395.1L407.7 395.3L408.1 395.4L408.5 395.6L408.9 395.7L409.3 395.9L409.8 396.1L410.2 396.5L410.6 396.9L411 397.3L411.4 397.7L411.8 398.1L412.3 398.5L412.7 398.9L413.1 399.3L413.5 399.6L413.9 399.8L414.4 399.9L414.8 400.1L415.2 400.2L415.6 400.4L416 400.5L416.5 400.7L416.9 400.8L417.3 401L417.7 401.4L418.2 401.8L418.6 402.2L419 402.6L419.4 403.1L419.9 403.5L420.3 403.9L420.7 404.3L421.1 404.5L421.6 404.6L422 404.8L422.4 404.9L422.8 405L423.3 405.1L423.7 405.2L424.1 405.4L424.6 405.5L425 405.8L425.4 406.2L425.8 406.6L426.3 407L426.7 407.4L427.2 407.9L427.6 408.3L428 408.7L428.5 409L428.9 409.1L429.3 409.2L429.8 409.3L430.2 409.4L430.6 409.5L431.1 409.6L431.5 409.7L431.9 409.8L432.4 410L432.8 410.4L433.3 410.8L433.7 411.2L434.1 411.6L434.6 412.1L435 412.5L435.4 412.9L435.9 413.3L436.3 413.5L436.7 413.6L437.2 413.6L437.6 413.7L438 413.8L438.5 413.9L438.9 413.9L439.4 414L439.8 414.1L440.2 414.6L440.7 415L441.1 415.4L441.5 415.8L442 416.3L442.4 416.7L442.9 417.1L443.3 417.5L443.7 417.7L444.2 417.8L444.6 417.9L445.1 417.9L445.5 418L445.9 418L446.4 418.1L446.8 418.1L447.3 418.2L447.7 418.6L448.2 419L448.6 419.4L449 419.9L449.5 420.3L449.9 420.7L450.4 421.2L450.8 421.6L451.3 421.8L451.7 421.9L452.1 421.9L452.6 422L453 422L453.5 422.1L453.9 422.1L454.3 422.1L454.8 422.2L455.2 422.6L455.7 423L456.1 423.5L456.6 423.9L457 424.4L457.4 424.8L457.9 425.2L458.3 425.7L458.8 425.9L459.2 426L459.7 426L460.1 426L460.5 426L461 426.1L461.4 426.1L461.9 426.1L462.3 426.1L462.8 426.6L463.2 427L463.7 427.4L464.1 427.9L464.6 428.3L465 428.8L465.5 429.2L465.9 429.7L466.3 429.9L466.8 429.9L467.2 429.9L467.7 429.9L468.1 429.9L468.6 429.9L469 429.9L469.5 429.9L469.9 430L470.4 430.4L470.8 430.9L471.3 431.3L471.7 431.8L472.2 432.2L472.6 432.7L473.1 433.1L473.5 433.6L474 433.7L474.4 433.7L474.9 433.7L475.3 433.7L475.8 433.7L476.2 433.6L476.7 433.6L477.1 433.6L477.6 433.8L478 434.3L478.5 434.7L478.9 435.2L479.4 435.6L479.8 436.1L480.3 436.6L480.7 437L481.2 437.4L481.6 437.4L482.1 437.4L482.5 437.4L483 437.3L483.4 437.3L483.9 437.3L484.3 437.3L484.8 437.2L485.2 437.6L485.7 438.1L486.1 438.5L486.6 439L487.1 439.4L487.5 439.9L488 440.3L488.4 440.8L488.9 441L489.3 441L489.8 441L490.2 440.9L490.7 440.9L491.1 440.9L491.6 440.8L492 440.8L492.5 440.9L493 441.3L493.4 441.8L493.9 442.2L494.3 442.7L494.8 443.1L495.2 443.6L495.7 444.1L496.1 444.5L496.6 444.5L497.1 444.5L497.5 444.4L498 444.4L498.4 444.4L498.9 444.3L499.3 444.3L499.8 444.3L500.3 444.6L500.7 445L501.2 445.5L501.6 445.9L502.1 446.4L502.5 446.8L503 447.3L503.5 447.7L503.9 447.9L504.4 447.9L504.8 447.9L505.3 447.8L505.7 447.8L506.2 447.7L506.7 447.7L507.1 447.7L507.6 447.7L508 448.2L508.5 448.6L509 449.1L509.4 449.5L509.9 450L510.3 450.4L510.8 450.9L511.3 451.3L511.7 451.2L512.2 451.2L512.6 451.1L513.1 451.1L513.6 451.1L514 451L514.5 451L514.9 450.9L515.4 451.3L515.9 451.8L516.3 452.2L516.8 452.6L517.2 453.1L517.7 453.5L518.2 454L518.6 454.4L519.1 454.5L519.5 454.4L520 454.4L520.5 454.3L520.9 454.3L521.4 454.2L521.9 454.2L522.3 454.1L522.8 454.4L523.2 454.8L523.7 455.3L524.2 455.7L524.6 456.1L525.1 456.6L525.6 457L526 457.5L526.5 457.7L526.9 457.6L527.4 457.6L527.9 457.5L528.3 457.5L528.8 457.4L529.3 457.3L529.7 457.3L530.2 457.4L530.7 457.8L531.1 458.3L531.6 458.7L532.1 459.2L532.5 459.6L533 460L533.4 460.5L533.9 460.8L534.4 460.7L534.8 460.7L535.3 460.6L535.8 460.5L536.2 460.5L536.7 460.4L537.2 460.4L537.6 460.4L538.1 460.8L538.6 461.3L539 461.7L539.5 462.1L540 462.6L540.4 463L540.9 463.4L541.4 463.8L541.8 463.7L542.3 463.7L542.8 463.6L543.2 463.5L543.7 463.5L544.2 463.4L544.6 463.3L545.1 463.3L545.6 463.7L546 464.2L546.5 464.6L547 465L547.4 465.5L547.9 465.9L548.4 466.3L548.8 466.7L549.3 466.7L549.8 466.6L550.2 466.5L550.7 466.5L551.2 466.4L551.6 466.3L552.1 466.3L552.6 466.2L553 466.6L553.5 467L554 467.5L554.5 467.9L554.9 468.3L555.4 468.7L555.9 469.2L556.3 469.6L556.8 469.5L557.3 469.5L557.7 469.4L558.2 469.3L558.7 469.3L559.1 469.2L559.6 469.1L560.1 469L560.6 469.4L561 469.9L561.5 470.3L562 470.7L562.4 471.1L562.9 471.6L563.4 472L563.8 472.4L564.3 472.4L564.8 472.3L565.3 472.2L565.7 472.1L566.2 472L566.7 472L567.1 471.9L567.6 471.8L568.1 472.2L568.6 472.6L569 473.1L569.5 473.5L570 473.9L570.4 474.3L570.9 474.7L571.4 475.2L571.9 475.1L572.3 475L572.8 474.9L573.3 474.8L573.7 474.8L574.2 474.7L574.7 474.6L575.2 474.5L575.6 475L576.1 475.4L576.6 475.8L577 476.2L577.5 476.6L578 477L578.5 477.5L578.9 477.8L579.4 477.8L579.9 477.7L580.4 477.6L580.8 477.5L581.3 477.4L581.8 477.3L582.3 477.2L582.7 477.2L583.2 477.6L583.7 478.1L584.1 478.5L584.6 478.9L585.1 479.3L585.6 479.7L586 480.1L586.5 480.5L587 480.4L587.5 480.3L587.9 480.2L588.4 480.1L588.9 480L589.4 479.9L589.8 479.8L590.3 479.9L590.8 480.3L591.3 480.7L591.7 481.1L592.2 481.5L592.7 481.9L593.2 482.4L593.6 482.8L594.1 483L594.6 482.9L595.1 482.8L595.5 482.7L596 482.6L596.5 482.5L597 482.4L597.4 482.3L597.9 482.5L598.4 482.9L598.9 483.3L599.3 483.7L599.8 484.1L600.3 484.5L600.8 484.9L601.2 485.4L601.7 485.5L602.2 485.4L602.7 485.3L603.1 485.2L603.6 485.1L604.1 485L604.6 484.9L605.1 484.8L605.5 485L606 485.5L606.5 485.9L607 486.3L607.4 486.7L607.9 487.1L608.4 487.5L608.9 487.9L609.3 487.9L609.8 487.8L610.3 487.7L610.8 487.6L611.3 487.5L611.7 487.4L612.2 487.3L612.7 487.2L613.2 487.6L613.6 488L614.1 488.4L614.6 488.8L615.1 489.2L615.6 489.6L616 490L616.5 490.4L617 490.3L617.5 490.2L617.9 490.1L618.4 490L618.9 489.9L619.4 489.8L619.9 489.7L620.3 489.7L620.8 490.1L621.3 490.5L621.8 490.9L622.2 491.3L622.7 491.7L623.2 492.1L623.7 492.5L624.2 492.7L624.6 492.6L625.1 492.5L625.6 492.4L626.1 492.3L626.6 492.2L627 492.1L627.5 491.9L628 492.1L628.5 492.5L629 492.9L629.4 493.3L629.9 493.7L630.4 494.1L630.9 494.5L631.4 494.9L631.8 495L632.3 494.9L632.8 494.7L633.3 494.6L633.8 494.5L634.2 494.4L634.7 494.3L635.2 494.2L635.7 494.5L636.2 494.9L636.6 495.3L637.1 495.7L637.6 496.1L638.1 496.5L638.6 496.9L639 497.3L639.5 497.2L640 497.1L640.5 496.9L641 496.8L641.4 496.7L641.9 496.6L642.4 496.5L642.9 496.5L643.4 496.9L643.8 497.3L644.3 497.7L644.8 498.1L645.3 498.5L645.8 498.9L646.3 499.3L646.7 499.4L647.2 499.3L647.7 499.2L648.2 499.1L648.7 499L649.1 498.9L649.6 498.7L650.1 498.6L650.6 498.8L651.1 499.2L651.5 499.6L652 500L652.5 500.4L653 500.8L653.5 501.2L654 501.6L654.4 501.6L654.9 501.4L655.4 501.3L655.9 501.2L656.4 501.1L656.9 501L657.3 500.8L657.8 500.7L658.3 501.1L658.8 501.5L659.3 501.9L659.7 502.3L660.2 502.7L660.7 503.1L661.2 503.5L661.7 503.7L662.2 503.6L662.6 503.5L663.1 503.4L663.6 503.2L664.1 503.1L664.6 503L665.1 502.9L665.5 503L666 503.4L666.5 503.8L667 504.2L667.5 504.5L668 504.9L668.4 505.3L668.9 505.7L669.4 505.8L669.9 505.6L670.4 505.5L670.9 505.4L671.3 505.3L671.8 505.1L672.3 505L672.8 504.9L673.3 505.2L673.8 505.6L674.2 506L674.7 506.4L675.2 506.8L675.7 507.2L676.2 507.5L676.7 507.9L677.1 507L677.6 507.1L679 502.8L678.5 502.7L678 503.5L677.5 503.2L677 502.8L676.6 502.4L676.1 502L675.6 501.6L675.1 501.3L674.6 500.9L674.1 500.5L673.7 500.7L673.2 500.8L672.7 500.9L672.2 501L671.7 501.2L671.3 501.3L670.8 501.4L670.3 501.4L669.8 501L669.3 500.6L668.8 500.2L668.4 499.8L667.9 499.4L667.4 499L666.9 498.6L666.4 498.5L666 498.7L665.5 498.8L665 498.9L664.5 499L664 499.2L663.6 499.3L663.1 499.4L662.6 499.1L662.1 498.7L661.6 498.3L661.1 498L660.7 497.6L660.2 497.2L659.7 496.8L659.2 496.4L658.7 496.5L658.3 496.6L657.8 496.7L657.3 496.9L656.8 497L656.3 497.1L655.9 497.2L655.4 497.2L654.9 496.8L654.4 496.5L653.9 496.1L653.5 495.7L653 495.3L652.5 494.9L652 494.5L651.5 494.3L651.1 494.4L650.6 494.5L650.1 494.7L649.6 494.8L649.1 494.9L648.7 495L648.2 495.1L647.7 494.9L647.2 494.5L646.7 494.1L646.3 493.7L645.8 493.3L645.3 493L644.8 492.6L644.3 492.2L643.9 492.2L643.4 492.3L642.9 492.4L642.4 492.5L642 492.6L641.5 492.7L641 492.9L640.5 493L640 492.6L639.6 492.2L639.1 491.8L638.6 491.4L638.1 491L637.6 490.6L637.2 490.2L636.7 489.9L636.2 490L635.7 490.1L635.3 490.2L634.8 490.3L634.3 490.4L633.8 490.5L633.3 490.7L632.9 490.6L632.4 490.2L631.9 489.8L631.4 489.4L631 489L630.5 488.6L630 488.2L629.5 487.8L629 487.6L628.6 487.8L628.1 487.9L627.6 488L627.1 488.1L626.7 488.2L626.2 488.3L625.7 488.4L625.2 488.2L624.7 487.8L624.3 487.4L623.8 487L623.3 486.6L622.8 486.2L622.4 485.8L621.9 485.4L621.4 485.4L620.9 485.5L620.5 485.6L620 485.7L619.5 485.8L619 485.9L618.6 486L618.1 486.1L617.6 485.7L617.1 485.3L616.6 484.9L616.2 484.5L615.7 484.1L615.2 483.7L614.7 483.3L614.3 482.9L613.8 483L613.3 483.1L612.8 483.2L612.4 483.3L611.9 483.4L611.4 483.5L610.9 483.6L610.5 483.6L610 483.2L609.5 482.8L609 482.4L608.6 482L608.1 481.6L607.6 481.2L607.1 480.8L606.7 480.5L606.2 480.6L605.7 480.7L605.2 480.8L604.8 480.9L604.3 481L603.8 481.1L603.3 481.2L602.9 481.1L602.4 480.7L601.9 480.3L601.5 479.9L601 479.4L600.5 479L600 478.6L599.6 478.2L599.1 478.1L598.6 478.2L598.1 478.3L597.7 478.4L597.2 478.5L596.7 478.5L596.2 478.6L595.8 478.7L595.3 478.5L594.8 478.1L594.4 477.7L593.9 477.3L593.4 476.9L592.9 476.4L592.5 476L592 475.6L591.5 475.6L591 475.7L590.6 475.7L590.1 475.8L589.6 475.9L589.2 476L588.7 476.1L588.2 476.2L587.7 475.9L587.3 475.5L586.8 475.1L586.3 474.6L585.9 474.2L585.4 473.8L584.9 473.4L584.4 473L584 473L583.5 473.1L583 473.2L582.6 473.3L582.1 473.3L581.6 473.4L581.1 473.5L580.7 473.6L580.2 473.2L579.7 472.8L579.3 472.4L578.8 472L578.3 471.6L577.8 471.1L577.4 470.7L576.9 470.3L576.4 470.4L576 470.4L575.5 470.5L575 470.6L574.6 470.7L574.1 470.8L573.6 470.9L573.1 470.9L572.7 470.5L572.2 470.1L571.7 469.7L571.3 469.3L570.8 468.8L570.3 468.4L569.9 468L569.4 467.6L568.9 467.7L568.5 467.7L568 467.8L567.5 467.9L567.1 468L566.6 468.1L566.1 468.1L565.6 468.2L565.2 467.8L564.7 467.3L564.2 466.9L563.8 466.5L563.3 466.1L562.8 465.6L562.4 465.2L561.9 464.8L561.4 464.9L561 465L560.5 465L560 465.1L559.6 465.2L559.1 465.3L558.6 465.3L558.2 465.4L557.7 465L557.2 464.5L556.8 464.1L556.3 463.7L555.8 463.3L555.4 462.8L554.9 462.4L554.4 462L554 462.1L553.5 462.1L553 462.2L552.6 462.3L552.1 462.3L551.6 462.4L551.2 462.5L550.7 462.5L550.2 462.1L549.8 461.7L549.3 461.3L548.8 460.8L548.4 460.4L547.9 460L547.5 459.5L547 459.1L546.5 459.2L546.1 459.2L545.6 459.3L545.1 459.4L544.7 459.4L544.2 459.5L543.7 459.5L543.3 459.6L542.8 459.2L542.3 458.8L541.9 458.4L541.4 457.9L541 457.5L540.5 457.1L540 456.6L539.6 456.2L539.1 456.2L538.6 456.2L538.2 456.3L537.7 456.4L537.3 456.4L536.8 456.5L536.3 456.5L535.9 456.6L535.4 456.3L534.9 455.9L534.5 455.4L534 455L533.6 454.6L533.1 454.1L532.6 453.7L532.2 453.2L531.7 453.1L531.2 453.2L530.8 453.2L530.3 453.3L529.9 453.4L529.4 453.4L528.9 453.5L528.5 453.5L528 453.3L527.6 452.9L527.1 452.4L526.6 452L526.2 451.6L525.7 451.1L525.3 450.7L524.8 450.2L524.3 450L523.9 450L523.4 450.1L523 450.2L522.5 450.2L522 450.3L521.6 450.3L521.1 450.4L520.7 450.3L520.2 449.8L519.7 449.4L519.3 449L518.8 448.5L518.4 448.1L517.9 447.6L517.5 447.2L517 446.8L516.5 446.8L516.1 446.9L515.6 446.9L515.2 447L514.7 447L514.3 447.1L513.8 447.1L513.3 447.2L512.9 446.7L512.4 446.3L512 445.9L511.5 445.4L511.1 445L510.6 444.5L510.1 444.1L509.7 443.6L509.2 443.5L508.8 443.6L508.3 443.6L507.9 443.7L507.4 443.7L507 443.8L506.5 443.8L506 443.8L505.6 443.6L505.1 443.2L504.7 442.7L504.2 442.3L503.8 441.8L503.3 441.4L502.9 440.9L502.4 440.5L502 440.2L501.5 440.2L501 440.2L500.6 440.3L500.1 440.3L499.7 440.3L499.2 440.4L498.8 440.4L498.3 440.4L497.9 440L497.4 439.5L497 439.1L496.5 438.6L496.1 438.2L495.6 437.7L495.2 437.3L494.7 436.8L494.2 436.7L493.8 436.8L493.3 436.8L492.9 436.8L492.4 436.9L492 436.9L491.5 436.9L491.1 436.9L490.6 436.7L490.2 436.3L489.7 435.8L489.3 435.4L488.8 434.9L488.4 434.4L487.9 434L487.5 433.5L487 433.2L486.6 433.2L486.1 433.2L485.7 433.3L485.2 433.3L484.8 433.3L484.3 433.3L483.9 433.4L483.4 433.4L483 433L482.5 432.5L482.1 432L481.6 431.6L481.2 431.1L480.8 430.7L480.3 430.2L479.9 429.8L479.4 429.6L479 429.6L478.5 429.6L478.1 429.6L477.6 429.6L477.2 429.6L476.7 429.7L476.3 429.7L475.8 429.6L475.4 429.1L474.9 428.7L474.5 428.2L474.1 427.8L473.6 427.3L473.2 426.9L472.7 426.4L472.3 426L471.8 425.9L471.4 425.9L470.9 425.9L470.5 425.9L470 425.9L469.6 425.9L469.2 425.9L468.7 425.8L468.3 425.7L467.8 425.2L467.4 424.8L466.9 424.3L466.5 423.9L466.1 423.4L465.6 423L465.2 422.6L464.7 422.1L464.3 422.1L463.8 422.1L463.4 422.1L462.9 422L462.5 422L462.1 422L461.6 422L461.2 421.9L460.7 421.7L460.3 421.3L459.9 420.8L459.4 420.4L459 419.9L458.5 419.5L458.1 419.1L457.7 418.6L457.2 418.2L456.8 418.2L456.4 418.1L455.9 418.1L455.5 418.1L455 418L454.6 418L454.2 417.9L453.7 417.9L453.3 417.6L452.8 417.2L452.4 416.8L452 416.4L451.5 415.9L451.1 415.5L450.6 415.1L450.2 414.7L449.8 414.2L449.3 414.2L448.9 414.1L448.5 414.1L448 414L447.6 414L447.1 413.9L446.7 413.9L446.3 413.8L445.8 413.6L445.4 413.2L445 412.7L444.5 412.3L444.1 411.9L443.6 411.5L443.2 411.1L442.8 410.6L442.3 410.2L441.9 410.1L441.5 410L441 409.9L440.6 409.9L440.2 409.8L439.7 409.7L439.3 409.6L438.9 409.6L438.4 409.4L438 409L437.6 408.6L437.2 408.2L436.7 407.7L436.3 407.3L435.9 406.9L435.4 406.5L435 406.1L434.6 405.9L434.1 405.8L433.7 405.7L433.3 405.6L432.8 405.5L432.4 405.4L432 405.4L431.5 405.3L431.1 405.2L430.7 404.8L430.2 404.4L429.8 404L429.4 403.6L428.9 403.2L428.5 402.8L428.1 402.4L427.7 402L427.2 401.6L426.8 401.5L426.4 401.4L426 401.3L425.5 401.2L425.1 401L424.7 400.9L424.3 400.8L423.8 400.7L423.4 400.4L423 400L422.6 399.6L422.1 399.2L421.7 398.8L421.3 398.4L420.9 398L420.5 397.6L420 397.2L419.6 397L419.2 396.8L418.8 396.7L418.4 396.6L417.9 396.4L417.5 396.3L417.1 396.1L416.7 396L416.3 395.8L415.9 395.5L415.5 395.1L415 394.7L414.6 394.3L414.2 393.9L413.8 393.5L413.4 393.1L413 392.7L412.5 392.3L412.1 392.1L411.7 391.9L411.3 391.8L410.9 391.6L410.5 391.5L410.1 391.3L409.6 391.2L409.2 391L408.8 390.9L408.4 390.5L408 390.1L407.5 389.7L407.1 389.3L406.7 388.9L406.3 388.6L405.9 388.2L405.5 387.8L405 387.4L404.6 387.3L404.2 387.1L403.8 386.9L403.4 386.8L403 386.6L402.5 386.4L402.1 386.3L401.7 386.1L401.3 385.9L400.9 385.5L400.4 385.2L400 384.8L399.6 384.4L399.2 384.1L398.7 383.7L398.3 383.4L397.9 383L397.5 382.7L397.1 382.5L396.6 382.3L396.2 382.1L395.8 382L395.4 381.8L395 381.6L394.5 381.4L394.1 381.2L393.7 381L393.3 380.7L392.9 380.3L392.4 380L392 379.6L391.6 379.3L391.2 378.9L390.8 378.6L390.3 378.3L389.9 377.9L389.5 377.7L389.1 377.5L388.7 377.3L388.2 377.1L387.8 376.9L387.4 376.7L387 376.5L386.5 376.3L386.1 376.1L385.7 375.8L385.3 375.4L384.9 375.1L384.5 374.7L384.1 374.4L383.7 374L383.3 373.7L382.9 373.3L382.5 372.9L382.1 372.7L381.7 372.4L381.3 372.2L380.9 371.9L380.5 371.7L380.1 371.4L379.7 371.2L379.3 370.9L378.9 370.7L378.5 370.4L378.1 370.1L377.7 369.7L377.3 369.3L377 369L376.6 368.6L376.2 368.3L375.8 367.9L375.4 367.6L375 367.2L374.6 366.9L374.2 366.7L373.9 366.4L373.5 366.1L373.1 365.8L372.7 365.5L372.3 365.2L371.9 365L371.6 364.7L371.2 364.3L370.8 364L370.4 363.6L370 363.3L369.6 363L369.2 362.7L368.8 362.4L368.4 362.1L368 361.8L367.5 361.5L367.1 361.2L366.7 361L366.3 360.7L365.9 360.4L365.5 360.2L365.1 359.9L364.7 359.6L364.3 359.3L363.9 359.1L363.5 358.8L363 358.5L362.6 358.2L362.2 357.9L361.9 357.5L361.5 357.2L361.1 356.9L360.7 356.5L360.4 356.2L360 355.8L359.6 355.5L359.3 355.2L358.9 354.9L358.5 354.5L358.1 354.2L357.8 353.9L357.4 353.5L357 353.2L356.7 352.8L356.3 352.5L355.9 352.2L355.6 351.8L355.2 351.5L354.8 351.2L354.5 350.8L354.1 350.5L353.7 350.2L353.3 349.8L353 349.5L352.6 349.2L352.2 348.8L351.9 348.5L351.5 348.2L351.1 347.8L350.7 347.5L350.4 347.2L350 346.8L349.6 346.5L349.3 346.2L348.9 345.8L348.5 345.5L348.2 345.2L347.8 344.8L347.4 344.5L347 344.2L346.6 343.9L346.3 343.6L345.9 343.3L345.5 343L345.1 342.6L344.7 342.3L344.3 342L343.9 341.7L343.5 341.4L343.1 341.1L342.7 340.8L342.3 340.5L342 340.2L341.6 339.9L341.2 339.6L340.8 339.2L340.4 338.9L340 338.6L339.6 338.3L339.2 338L338.8 337.7L338.5 337.4L338.1 337.1L337.7 336.7L337.3 336.4L336.9 336.1L336.5 335.8L336.1 335.5L335.8 335.2L335.4 334.8L335 334.5L334.6 334.2L334.2 333.9L333.8 333.6L333.4 333.3L333.1 332.9L332.7 332.6L332.3 332.3L331.9 332L331.6 331.6L331.2 331.3L330.9 330.9L330.5 330.5L330.2 330.2L329.9 329.8L329.5 329.4L329.2 329.1L328.8 328.7L328.5 328.4L328.1 328L327.8 327.6L327.5 327.3L327.1 326.9L326.8 326.5L326.4 326.2L326.1 325.8L325.8 325.4L325.4 325.1L325.1 324.7L324.7 324.4L324.3 324L324 323.7L323.6 323.4L323.3 323L322.9 322.7L322.5 322.3L322.2 322L321.8 321.7L321.4 321.3L321.1 321L320.7 320.6L320.4 320.3L320 319.9L319.6 319.6L319.3 319.3L318.9 318.9L318.6 318.6L318.2 318.2L317.8 317.9L317.5 317.5L317.1 317.2L316.7 316.9L316.3 316.6L316 316.2L315.6 315.9L315.2 315.6L314.8 315.2L314.5 314.9L314.1 314.6L313.7 314.2L313.4 313.9L313 313.6L312.6 313.2L312.2 312.9L311.9 312.6L311.5 312.2L311.1 311.9L310.8 311.6L310.4 311.2L310.1 310.9L309.7 310.5L309.4 310.1L309 309.8L308.7 309.4L308.4 309L308 308.7L307.7 308.3L307.4 307.9L307 307.6L306.7 307.2L306.4 306.8L306 306.5L305.7 306.1L305.3 305.7L305 305.4L304.7 305L304.3 304.6L304 304.2L303.7 303.9L303.4 303.5L303 303.1L302.7 302.7L302.4 302.3L302.1 302L301.8 301.6L301.5 301.2L301.1 300.8L300.8 300.4L300.5 300L300.2 299.6L299.9 299.3L299.6 298.9L299.2 298.5L298.9 298.1L298.6 297.7L298.3 297.3L298 296.9L297.7 296.5L297.4 296.2L297 295.8L296.6 295.5L296.3 295.1L295.9 294.8L295.5 294.5L295.1 294.1L294.8 293.8L294.4 293.5L294 293.1L293.7 292.8L293.3 292.4L292.9 292.1L292.6 291.8L292.2 291.4L291.8 291.1L291.5 290.7L291.1 290.4L290.7 290.1L290.4 289.7L290 289.4L289.7 289L289.3 288.7L289 288.3L288.6 287.9L288.3 287.6L288 287.2L287.6 286.8L287.3 286.5L286.9 286.1L286.6 285.8L286.2 285.4L285.9 285L285.6 284.7L285.2 284.3L284.9 283.9L284.5 283.6L284.2 283.2L283.9 282.8L283.5 282.5L283.2 282.1L282.9 281.7L282.6 281.3L282.3 280.9L282 280.5L281.6 280.1L281.3 279.8L281 279.4L280.7 279L280.4 278.6L280.1 278.2L279.8 277.8L279.5 277.4L279.2 277L278.9 276.6L278.6 276.2L278.3 275.8L278 275.4L277.7 275L277.4 274.6L277.1 274.2L276.8 273.8L276.4 273.5L276.1 273.1L275.7 272.8L275.4 272.4L275 272L274.7 271.7L274.3 271.3L274 271L273.6 270.6L273.3 270.2L273 269.9L272.6 269.5L272.3 269.1L271.9 268.8L271.6 268.4L271.2 268L270.9 267.7L270.6 267.3L270.2 266.9L270 266.5L269.7 266.1L269.4 265.7L269.2 265.2L268.9 264.8L268.6 264.4L268.4 264L268.1 263.5L267.8 263.1L267.6 262.7L267.3 262.3L267 261.8L266.8 261.4L266.5 261L266.2 260.6L266 260.1L265.7 259.7L265.5 259.3L265.2 258.9L264.9 258.4L264.6 258.1L264.2 257.7L263.9 257.3L263.6 257L263.2 256.6L262.9 256.2L262.5 255.9L262.2 255.5L261.8 255.2L261.5 254.8L261.1 254.4L260.8 254.1L260.5 253.7L260.1 253.3L259.8 253L259.4 252.6L259.1 252.2L258.7 251.9L258.4 251.5L258.1 251.1L257.8 250.7L257.6 250.3L257.4 249.8L257.1 249.4L256.7 249L256.5 248.5L256.2 248.1L256 247.7L255.7 247.2L255.5 246.8L255.3 246.4L255.1 246L254.8 245.5L254.6 245.1L254 244.7L253.8 244.2L253.6 243.8L253.4 243.4L253.1 243L252.9 242.5L252.7 242.1L252.5 241.7L252.2 241.3L252 240.9L251.8 240.4L251 240L250.8 239.6L250.6 239.2L250.3 238.8L250.1 238.4L249.9 238L249.7 237.5L249.5 237.1L249.3 236.7L249.1 236.3L248.9 235.9L247.9 235.5L247.7 235L247.5 234.6L247.3 234.2L247.1 233.8L246.8 233.4L246.6 233L246.4 232.6L246.2 232.2L245.9 231.8L245.7 231.5L244.6 231.1L244.4 230.7L244.2 230.3L244 229.9L243.7 229.5L243.5 229.1L243.3 228.7L243.1 228.3L242.9 227.9L242.7 227.5L241.5 227.1L241.3 226.7L241.1 226.3L240.9 225.9L240.7 225.4L240.6 225L240.4 224.6L240.2 224.2L240.1 223.8L239.9 223.3L239.8 222.9L238.5 222.5L238.3 222.1L238.2 221.6L238 221.2L237.9 220.8L237.7 220.4L237.6 220L237.4 219.5L237.3 219.1L237.1 218.7L235.7 218.3L235.6 217.8L235.4 217.4L235.3 217L235.1 216.6L234.9 216.2L234.8 215.8L234.6 215.4L234.5 215L234.3 214.5L234.2 214.1L232.7 213.7L232.5 213.3L232.4 212.9L232.2 212.5L232.1 212.1L231.9 211.6L231.8 211.2L231.7 210.8L231.5 210.4L231.4 210L229.8 209.6L229.7 209.2L229.5 208.7L229.4 208.3L229.3 207.9L229.2 207.5L229 207.1L228.9 206.6L228.8 206.2L228.7 205.8L228.6 205.4L226.9 205L226.8 204.5L226.6 204.1L226.5 203.7L226.4 203.3L226.3 202.9L226.2 202.4L226.1 202L226 201.6L225.9 201.2L224.2 200.7L224.1 200.3L224 199.8L223.9 199.4L223.9 199L223.8 198.5L223.7 198.1L223.7 197.6L223.6 197.2L223.6 196.8L221.7 196.3L221.7 195.9L221.6 195.4L221.5 195L221.5 194.6L221.4 194.1L221.4 193.7L221.3 193.2L221.3 192.8L221.2 192.4L219.3 191.9L219.2 191.5L219.1 191.1L219 190.7L218.9 190.2L218.9 189.8L218.8 189.4L218.7 189L218.6 188.6L218.6 188.1L216.6 187.7L216.5 187.3L216.4 186.9L216.3 186.4L216.3 186L216.2 185.6L216.1 185.2L216.1 184.7L216 184.3L216 183.9L215.9 183.4L213.9 183L213.8 182.6L213.8 182.1L213.8 181.7L213.7 181.2L213.7 180.8L213.7 180.4L213.6 179.9L213.6 179.5L213.6 179L211.5 178.6L211.4 178.2L211.4 177.7L211.4 177.3L211.4 176.8L211.3 176.4L211.3 176L211.3 175.5L211.3 175.1L211.2 174.6L209.1 174.2L209.1 173.7L209.1 173.3L209.1 172.9L209.1 172.4L209.1 172L209.1 171.5L209 171.1L209 170.6L209 170.2L206.9 169.7L206.9 169.3L206.8 168.8L206.8 168.4L206.8 168L206.8 167.5L206.8 167.1L206.8 166.6L206.8 166.2L206.8 165.7L204.6 165.3L204.5 164.9L204.5 164.4L204.5 164L204.5 163.6L204.4 163.1L204.4 162.7L204.4 162.3L204.4 161.8L204.4 161.4L202.1 161L202.1 160.5L202.1 160.1L202.1 159.7L202 159.2L202 158.8L202 158.4L202 157.9L202 157.5L199.7 157L199.7 156.6L199.7 156.1L199.8 155.7L199.8 155.2L199.8 154.8L199.8 154.3L199.8 153.9L199.8 153.4L199.9 153L197.6 152.5L197.6 152.1L197.6 151.6L197.6 151.2L197.6 150.8L197.6 150.3L197.7 149.9L197.7 149.4L197.7 149L197.7 148.5L195.4 148.1L195.4 147.6L195.4 147.2L195.5 146.7L195.5 146.3L195.5 145.8L195.5 145.4L195.5 144.9L195.6 144.5L195.6 144L193.2 143.6L193.3 143.1L193.3 142.7L193.3 142.2L193.3 141.8L193.4 141.3L193.4 140.9L193.4 140.4L193.5 140L193.5 139.5L191.1 139.1L191.1 138.6L191.2 138.2L191.2 137.7L191.2 137.3L191.3 136.8L191.3 136.4L191.4 135.9L191.4 135.5L189 135L189 134.6L189.1 134.1L189.1 133.7L189.1 133.2L189.2 132.8L189.2 132.3L189.3 131.9L189.3 131.4L189.4 131L186.9 130.5L187 130.1L187 129.6L187.1 129.2L187.1 128.7L187.1 128.3L187.2 127.8L187.2 127.4L187.3 126.9L187.3 126.5L184.9 126L184.9 125.5L185 125.1L185 124.6L185.1 124.2L185.1 123.7L185.2 123.3L185.2 122.8L185.3 122.4L185.3 121.9L182.9 121.5L182.9 121L183 120.6L183.1 120.1L183.1 119.6L183.2 119.2L183.2 118.7L183.3 118.3L183.4 117.8L180.9 117.4L181 116.9L181 116.4L181.1 116L181.2 115.5L181.2 115.1L181.3 114.6L181.3 114.2L181.4 113.7L181.5 113.2L179 112.8L179.1 112.3L179.1 111.9L179.2 111.4L179.3 111L179.3 110.5L179.4 110L179.5 109.6L179.5 109.1L177.1 108.7L177.1 108.2L177.2 107.7L177.3 107.3L177.3 106.8L177.4 106.4L177.5 105.9L177.5 105.4L177.6 105L177.7 104.5L175.2 104.1L175.3 103.6L175.4 103.2L175.4 102.7L175.5 102.2L175.6 101.8L175.6 101.3L175.7 100.9L175.8 100.4L173.4 99.9L173.4 99.5L173.5 99L173.6 98.6L173.6 98.1L173.7 97.6L173.8 97.2L173.8 96.7L173.9 96.2L174 95.8L171.6 95.3L171.6 94.9L171.7 94.4L171.8 93.9L171.9 93.5L171.9 93L172 92.6L172.1 92.1L172.1 91.6L172.2 91.2L169.8 90.7L169.9 90.2L170 89.8L170 89.3L170.1 88.9L170.2 88.4L170.2 87.9L170.3 87.5L170.4 87L168 86.5L168.1 86.1L168.2 85.6L168.2 85.2L168.3 84.7L168.4 84.2L168.4 83.8L168.5 83.3L168.6 82.8L166.3 82.4L166.3 81.9L166.4 81.4L166.5 81L166.5 80.5L166.6 80L166.7 79.6L166.7 79.1L166.8 78.7L166.9 78.2L164.6 77.7L164.7 77.3L164.7 76.8L164.8 76.3L164.9 75.9L164.9 75.4L165 74.9L165.1 74.5L165.1 74L162.9 73.5L163 73.1L163 72.6L163.1 72.1L163.1 71.7L163.2 71.2L163.3 70.7L163.3 70.3L163.4 69.8L163.5 69.3L161.3 68.9L161.3 68.4L161.4 67.9L161.4 67.4L161.4 66.9L161.5 66.5L161.5 66L161.6 65.5L161.7 65.1L159.2 64.6L159.3 64.2L159.3 63.7L159.4 63.2L159.5 62.8L159.5 62.3L159.6 61.9L159.7 61.4L159.7 61L159.8 60.5L157.3 60L157.4 59.6L157.5 59.1L157.6 58.7L157.6 58.2L157.7 57.7L157.8 57.3L157.8 56.8L157.9 56.4L155.5 55.9L155.5 55.4L155.6 55L155.7 54.5L155.7 54.1L155.8 53.6L155.9 53.1L155.9 52.7L156 52.2L156.1 51.8L153.7 51.3L153.8 50.8L153.8 50.4L153.9 49.9L154 49.5L154 49L154.1 48.5L154.2 48.1L154.2 47.6L151.9 47.1L151.9 46.7L152 46.2L152.1 45.8L152.1 45.3L152.2 44.8L152.3 44.4L152.3 43.9L152.4 43.4L152.5 43L150.1 42.5L150.2 42.1L150.3 41.6L150.3 41.1L150.4 40.7L150.5 40.2L150.5 39.7L150.6 39.3L150.7 38.8L148.4 38.4L148.4 37.9L148.5 37.4L148.6 37L148.6 36.5L148.7 36L148.8 35.6L148.8 35.1L148.9 34.6L149 34.2L146.7 33.7L146.8 33.2L146.8 32.8L146.9 32.3L147 31.8L147 31.4L147.1 30.9L147.1 30.4L147.2 30L145 29.5L145.1 29.1L145.1 28.6L145.2 28.1L145.2 27.7L145.3 27.2L145.4 26.7L145.4 26.3L145.5 25.8L145.6 25.3L143.4 24.9L143.4 24.4L143.5 23.9L143.6 23.5L143.6 23L143.7 22.5L143.7 22.1L143.8 21.6L143.9 21.1L141.7 20.6L141.8 20.2L141.8 19.7L141.9 19.2L142 18.8L142 18.3L142.1 17.8L142.1 17.4L142.2 16.9L142.3 16.4L140.1 16L140.2 15.5L140.3 15L140.3 14.6L140.4 14.1L140.4 13.6L140.5 13.2L140.6 12.7L140.6 12.2L138.5 11.7L138.6 11.3L139.1 10.8L139 10.3Z" fill="#1212d8"/>
<circle cx="136.5" cy="11.1" r="2.4" fill="#1212d8"/><circle cx="678.3" cy="505.0" r="2.4" fill="#1212d8"/>
</g>
<g filter="url(#soft)">
<g transform="translate(195.5 326) rotate(53)"><rect x="-30.0" y="-12.0" width="60" height="26" fill="#fff"/><text x="0" y="8.3" text-anchor="middle" font-size="23" fill="#8a1a4e">50 kg</text></g>
<g transform="translate(227 306) rotate(53)"><rect x="-30.0" y="-12.0" width="60" height="26" fill="#fff"/><text x="0" y="8.3" text-anchor="middle" font-size="23" fill="#3b48b4">60 kg</text></g>
<g transform="translate(257.5 283) rotate(53)"><rect x="-30.0" y="-12.0" width="60" height="26" fill="#fff"/><text x="0" y="8.3" text-anchor="middle" font-size="23" fill="#15153f">70 kg</text></g>
<g transform="translate(290 263) rotate(53)"><rect x="-30.0" y="-12.0" width="60" height="26" fill="#fff"/><text x="0" y="8.3" text-anchor="middle" font-size="23" fill="#2a2aa0">80 kg</text></g>
<g fill="#1a1a58">
<text x="89.90" y="633.4" font-size="25.5" textLength="14.43" lengthAdjust="spacingAndGlyphs">6</text>
<text x="185.37" y="633.4" font-size="25.5" textLength="14.43" lengthAdjust="spacingAndGlyphs">9</text>
<clipPath id="c1"><path d="M268.13 607.90H283.86V630.59H277.75V635.4H275.08V630.59H268.13Z"/></clipPath>
<text x="269.13" y="633.4" font-size="25.5" textLength="13.73" lengthAdjust="spacingAndGlyphs" clip-path="url(#c1)">1</text>
<text x="282.91" y="633.4" font-size="25.5" textLength="14.30" lengthAdjust="spacingAndGlyphs">2</text>
<clipPath id="c2"><path d="M359.79 607.90H374.60V630.59H368.85V635.4H366.32V630.59H359.79Z"/></clipPath>
<text x="360.79" y="633.4" font-size="25.5" textLength="12.82" lengthAdjust="spacingAndGlyphs" clip-path="url(#c2)">1</text>
<text x="375.66" y="633.4" font-size="25.5" textLength="13.11" lengthAdjust="spacingAndGlyphs">5</text>
<clipPath id="c3"><path d="M450.93 607.90H466.66V630.59H460.55V635.4H457.88V630.59H450.93Z"/></clipPath>
<text x="451.93" y="633.4" font-size="25.5" textLength="13.73" lengthAdjust="spacingAndGlyphs" clip-path="url(#c3)">1</text>
<text x="466.35" y="633.4" font-size="25.5" textLength="15.03" lengthAdjust="spacingAndGlyphs">8</text>
<text x="543.01" y="633.4" font-size="25.5" textLength="14.30" lengthAdjust="spacingAndGlyphs">2</text>
<clipPath id="c4"><path d="M558.03 607.90H573.76V630.59H567.65V635.4H564.98V630.59H558.03Z"/></clipPath>
<text x="559.03" y="633.4" font-size="25.5" textLength="13.73" lengthAdjust="spacingAndGlyphs" clip-path="url(#c4)">1</text>
<text x="634.31" y="633.4" font-size="25.5" textLength="14.30" lengthAdjust="spacingAndGlyphs">2</text>
<text x="648.91" y="633.4" font-size="25.5" textLength="14.65" lengthAdjust="spacingAndGlyphs">4</text>
<text x="45.57" y="484.7" font-size="25.5" textLength="14.89" lengthAdjust="spacingAndGlyphs">2</text>
<text x="45.64" y="368.3" font-size="25.5" textLength="14.89" lengthAdjust="spacingAndGlyphs">3</text>
<text x="45.43" y="252.0" font-size="25.5" textLength="15.32" lengthAdjust="spacingAndGlyphs">4</text>
<text x="45.57" y="135.8" font-size="25.5" textLength="14.89" lengthAdjust="spacingAndGlyphs">5</text>
<text x="45.47" y="20.9" font-size="25.5" textLength="14.89" lengthAdjust="spacingAndGlyphs">6</text>
<clipPath id="c5"><path d="M45.05 574.70H61.24V597.39H54.95V602.2H52.20V597.39H45.05Z"/></clipPath>
<text x="46.05" y="600.2" font-size="25.5" textLength="14.19" lengthAdjust="spacingAndGlyphs" clip-path="url(#c5)">1</text>
<text x="85.70" y="668.4" font-size="28.8" textLength="107.60" lengthAdjust="spacingAndGlyphs">Increase</text>
<text x="200.92" y="668.4" font-size="28.8" textLength="25.10" lengthAdjust="spacingAndGlyphs">in</text>
<text x="231.91" y="668.4" font-size="28.8" textLength="114.75" lengthAdjust="spacingAndGlyphs">dilution-</text>
<text x="347.25" y="668.4" font-size="28.8" textLength="122.93" lengthAdjust="spacingAndGlyphs">corrected</text>
<text x="477.61" y="668.4" font-size="28.8" textLength="27.74" lengthAdjust="spacingAndGlyphs">P-</text>
<text x="505.61" y="668.4" font-size="28.8" textLength="106.64" lengthAdjust="spacingAndGlyphs">albumin</text>
<text x="619.26" y="668.4" font-size="28.8" textLength="60.41" lengthAdjust="spacingAndGlyphs">(g/L)</text>
</g>
<g fill="#1a1a58" transform="translate(26.0 0) rotate(-90)">
<text x="-445.51" y="0" font-size="30.5" textLength="97.27" lengthAdjust="spacingAndGlyphs">Plasma</text>
<text x="-338.37" y="0" font-size="30.5" textLength="106.51" lengthAdjust="spacingAndGlyphs">volume</text>
<text x="-224.66" y="0" font-size="30.5" textLength="34.41" lengthAdjust="spacingAndGlyphs">(L)</text>
</g>
</g>
</svg>
</body></html>
